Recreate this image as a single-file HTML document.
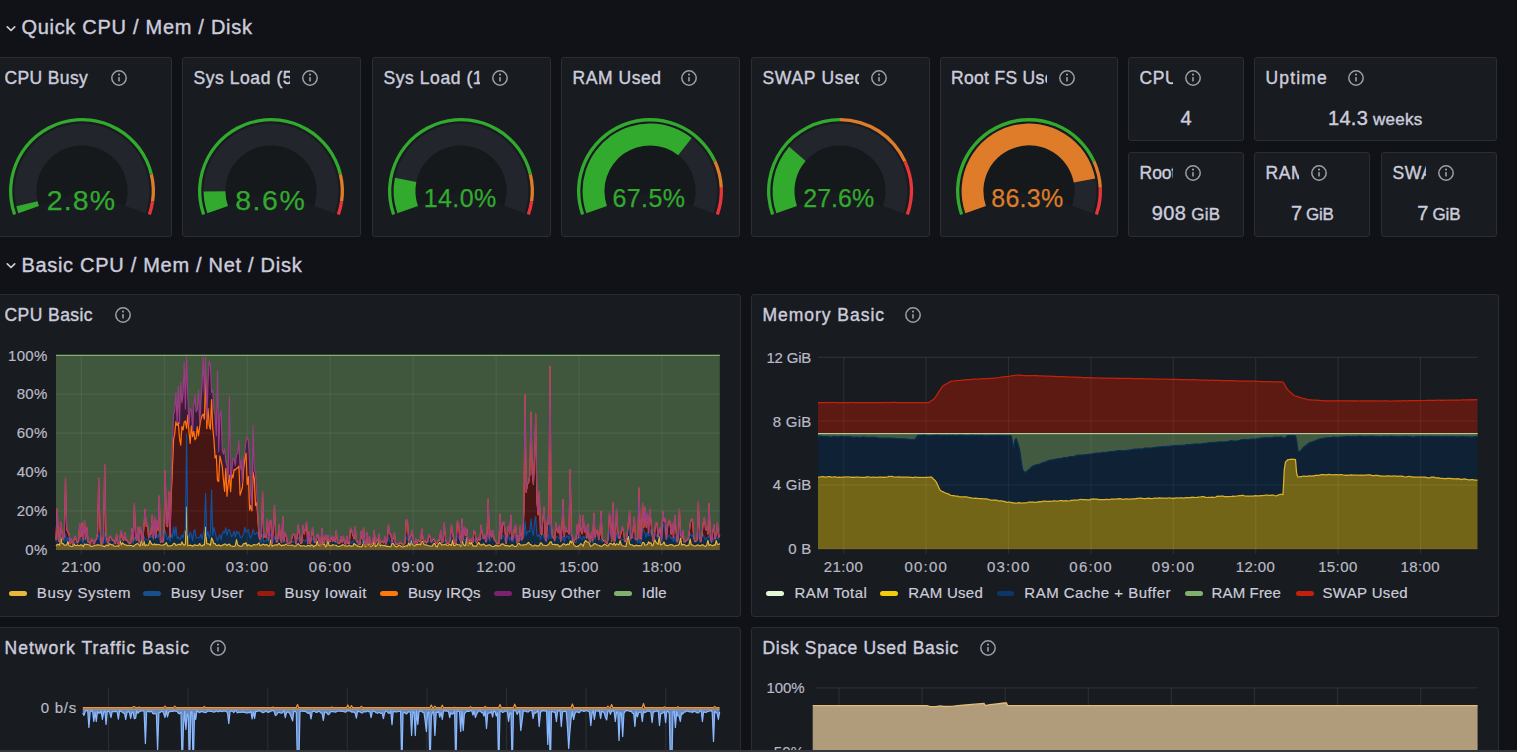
<!DOCTYPE html>
<html lang="en"><head><meta charset="utf-8"><title>Node Exporter Full - Grafana</title>
<style>
html,body{margin:0;padding:0;background:#111217;}
body{width:1517px;height:752px;overflow:hidden;position:relative;font-family:"Liberation Sans",sans-serif;}
.p{position:absolute;background:#181b1f;border:1px solid #2a2d33;border-radius:3px;}
.t{position:absolute;white-space:pre;font-family:"Liberation Sans",sans-serif;}
.a{position:absolute;overflow:visible;}
</style></head><body>
<svg class="a" style="left:5.3px;top:24.6px" width="12" height="8" viewBox="0 0 12 8"><path d="M2.3 1.8 L6 5.5 L9.7 1.8" fill="none" stroke="#ccccdc" stroke-width="1.7" stroke-linecap="round" stroke-linejoin="round"/></svg>
<div class="t" style="left:21.40px;top:16.77px;font-size:20px;line-height:20px;letter-spacing:0.713px;color:#ccccdc;font-weight:400;-webkit-text-stroke:0.4px currentColor;">Quick CPU / Mem / Disk</div>
<svg class="a" style="left:5.3px;top:262.4px" width="12" height="8" viewBox="0 0 12 8"><path d="M2.3 1.8 L6 5.5 L9.7 1.8" fill="none" stroke="#ccccdc" stroke-width="1.7" stroke-linecap="round" stroke-linejoin="round"/></svg>
<div class="t" style="left:21.40px;top:254.57px;font-size:20px;line-height:20px;letter-spacing:0.707px;color:#ccccdc;font-weight:400;-webkit-text-stroke:0.4px currentColor;">Basic CPU / Mem / Net / Disk</div>
<div class="p" style="left:-7px;top:57px;width:177px;height:178px"></div>
<div class="t" style="left:4.50px;top:69.89px;width:96.50px;overflow:hidden;font-size:17.5px;line-height:17.5px;height:22px;letter-spacing:0.373px;color:#ccccdc;-webkit-text-stroke:0.4px #ccccdc">CPU Busy</div>
<svg class="a" style="left:108.70px;top:68.00px" width="20" height="20" viewBox="0 0 20 20"><circle cx="10" cy="10" r="7.2" fill="none" stroke="#9d9ea9" stroke-width="1.5"/><rect x="9.2" y="9" width="1.6" height="4.6" rx="0.6" fill="#9d9ea9"/><circle cx="10" cy="6.6" r="1.05" fill="#9d9ea9"/></svg>
<svg class="a" style="left:2.40px;top:111.00px;overflow:hidden" width="160" height="110" viewBox="2.40 111.00 160 110"><path d="M38.96 206.13A46.0 46.0 0 1 1 125.84 206.13L82.49 191.03A0.1 0.1 0 1 0 82.31 191.03Z" fill="#14161a" fill-opacity="0.4"/><path d="M18.75 213.17A67.4 67.4 0 1 1 146.05 213.17L125.46 206.00A45.6 45.6 0 1 0 39.34 206.00Z" fill="#22252b"/><path d="M18.75 213.17A67.4 67.4 0 0 1 16.75 206.26L37.98 201.32A45.6 45.6 0 0 0 39.34 206.00Z" fill="rgb(50,170,46)"/><path d="M13.46 215.01A73.0 73.0 0 1 1 153.37 173.88L150.16 174.66A69.7 69.7 0 1 0 16.58 213.92Z" fill="rgb(50,170,46)"/><path d="M153.37 173.88A73.0 73.0 0 0 1 154.64 201.51L151.37 201.04A69.7 69.7 0 0 0 150.16 174.66Z" fill="rgb(222,124,42)"/><path d="M154.64 201.51A73.0 73.0 0 0 1 151.34 215.01L148.22 213.92A69.7 69.7 0 0 0 151.37 201.04Z" fill="rgb(232,54,56)"/></svg>
<div class="t" style="left:46.82px;top:186.07px;font-size:28.5px;line-height:28.5px;letter-spacing:1.135px;color:rgb(50,170,46);font-weight:400;-webkit-text-stroke:0.25px currentColor;">2.8%</div>
<div class="p" style="left:182px;top:57px;width:177px;height:178px"></div>
<div class="t" style="left:193.50px;top:69.89px;width:96.50px;overflow:hidden;font-size:17.5px;line-height:17.5px;height:22px;letter-spacing:0.562px;color:#ccccdc;-webkit-text-stroke:0.4px #ccccdc">Sys Load (5m avg)</div>
<svg class="a" style="left:300.00px;top:68.00px" width="20" height="20" viewBox="0 0 20 20"><circle cx="10" cy="10" r="7.2" fill="none" stroke="#9d9ea9" stroke-width="1.5"/><rect x="9.2" y="9" width="1.6" height="4.6" rx="0.6" fill="#9d9ea9"/><circle cx="10" cy="6.6" r="1.05" fill="#9d9ea9"/></svg>
<svg class="a" style="left:191.40px;top:111.00px;overflow:hidden" width="160" height="110" viewBox="191.40 111.00 160 110"><path d="M227.96 206.13A46.0 46.0 0 1 1 314.84 206.13L271.49 191.03A0.1 0.1 0 1 0 271.31 191.03Z" fill="#14161a" fill-opacity="0.4"/><path d="M207.75 213.17A67.4 67.4 0 1 1 335.05 213.17L314.46 206.00A45.6 45.6 0 1 0 228.34 206.00Z" fill="#22252b"/><path d="M207.75 213.17A67.4 67.4 0 0 1 204.00 191.49L225.80 191.33A45.6 45.6 0 0 0 228.34 206.00Z" fill="rgb(50,170,46)"/><path d="M202.46 215.01A73.0 73.0 0 1 1 342.37 173.88L339.16 174.66A69.7 69.7 0 1 0 205.58 213.92Z" fill="rgb(50,170,46)"/><path d="M342.37 173.88A73.0 73.0 0 0 1 343.64 201.51L340.37 201.04A69.7 69.7 0 0 0 339.16 174.66Z" fill="rgb(222,124,42)"/><path d="M343.64 201.51A73.0 73.0 0 0 1 340.34 215.01L337.22 213.92A69.7 69.7 0 0 0 340.37 201.04Z" fill="rgb(232,54,56)"/></svg>
<div class="t" style="left:235.25px;top:186.07px;font-size:28.5px;line-height:28.5px;letter-spacing:1.510px;color:rgb(50,170,46);font-weight:400;-webkit-text-stroke:0.25px currentColor;">8.6%</div>
<div class="p" style="left:372px;top:57px;width:177px;height:178px"></div>
<div class="t" style="left:383.50px;top:69.89px;width:96.50px;overflow:hidden;font-size:17.5px;line-height:17.5px;height:22px;letter-spacing:0.566px;color:#ccccdc;-webkit-text-stroke:0.4px #ccccdc">Sys Load (15m avg)</div>
<svg class="a" style="left:490.00px;top:68.00px" width="20" height="20" viewBox="0 0 20 20"><circle cx="10" cy="10" r="7.2" fill="none" stroke="#9d9ea9" stroke-width="1.5"/><rect x="9.2" y="9" width="1.6" height="4.6" rx="0.6" fill="#9d9ea9"/><circle cx="10" cy="6.6" r="1.05" fill="#9d9ea9"/></svg>
<svg class="a" style="left:381.40px;top:111.00px;overflow:hidden" width="160" height="110" viewBox="381.40 111.00 160 110"><path d="M417.96 206.13A46.0 46.0 0 1 1 504.84 206.13L461.49 191.03A0.1 0.1 0 1 0 461.31 191.03Z" fill="#14161a" fill-opacity="0.4"/><path d="M397.75 213.17A67.4 67.4 0 1 1 525.05 213.17L504.46 206.00A45.6 45.6 0 1 0 418.34 206.00Z" fill="#22252b"/><path d="M397.75 213.17A67.4 67.4 0 0 1 395.32 177.71L416.70 182.01A45.6 45.6 0 0 0 418.34 206.00Z" fill="rgb(50,170,46)"/><path d="M392.46 215.01A73.0 73.0 0 1 1 532.37 173.88L529.16 174.66A69.7 69.7 0 1 0 395.58 213.92Z" fill="rgb(50,170,46)"/><path d="M532.37 173.88A73.0 73.0 0 0 1 533.64 201.51L530.37 201.04A69.7 69.7 0 0 0 529.16 174.66Z" fill="rgb(222,124,42)"/><path d="M533.64 201.51A73.0 73.0 0 0 1 530.34 215.01L527.22 213.92A69.7 69.7 0 0 0 530.37 201.04Z" fill="rgb(232,54,56)"/></svg>
<div class="t" style="left:423.71px;top:186.04px;font-size:25px;line-height:25px;letter-spacing:0.423px;color:rgb(50,170,46);font-weight:400;-webkit-text-stroke:0.25px currentColor;">14.0%</div>
<div class="p" style="left:561px;top:57px;width:176.5px;height:178px"></div>
<div class="t" style="left:572.50px;top:69.89px;width:96.00px;overflow:hidden;font-size:17.5px;line-height:17.5px;height:22px;letter-spacing:0.549px;color:#ccccdc;-webkit-text-stroke:0.4px #ccccdc">RAM Used</div>
<svg class="a" style="left:678.50px;top:68.00px" width="20" height="20" viewBox="0 0 20 20"><circle cx="10" cy="10" r="7.2" fill="none" stroke="#9d9ea9" stroke-width="1.5"/><rect x="9.2" y="9" width="1.6" height="4.6" rx="0.6" fill="#9d9ea9"/><circle cx="10" cy="6.6" r="1.05" fill="#9d9ea9"/></svg>
<svg class="a" style="left:570.15px;top:111.00px;overflow:hidden" width="160" height="110" viewBox="570.15 111.00 160 110"><path d="M606.71 206.13A46.0 46.0 0 1 1 693.59 206.13L650.24 191.03A0.1 0.1 0 1 0 650.06 191.03Z" fill="#14161a" fill-opacity="0.4"/><path d="M586.50 213.17A67.4 67.4 0 1 1 713.80 213.17L693.21 206.00A45.6 45.6 0 1 0 607.09 206.00Z" fill="#22252b"/><path d="M586.50 213.17A67.4 67.4 0 0 1 691.85 138.05L678.36 155.17A45.6 45.6 0 0 0 607.09 206.00Z" fill="rgb(50,170,46)"/><path d="M581.21 215.01A73.0 73.0 0 0 1 716.59 160.75L713.58 162.12A69.7 69.7 0 0 0 584.33 213.92Z" fill="rgb(50,170,46)"/><path d="M716.59 160.75A73.0 73.0 0 0 1 723.07 187.64L719.78 187.79A69.7 69.7 0 0 0 713.58 162.12Z" fill="rgb(222,124,42)"/><path d="M723.07 187.64A73.0 73.0 0 0 1 719.09 215.01L715.97 213.92A69.7 69.7 0 0 0 719.78 187.79Z" fill="rgb(232,54,56)"/></svg>
<div class="t" style="left:612.46px;top:186.04px;font-size:25px;line-height:25px;letter-spacing:0.423px;color:rgb(50,170,46);font-weight:400;-webkit-text-stroke:0.25px currentColor;">67.5%</div>
<div class="p" style="left:751px;top:57px;width:176.5px;height:178px"></div>
<div class="t" style="left:762.50px;top:69.89px;width:96.00px;overflow:hidden;font-size:17.5px;line-height:17.5px;height:22px;letter-spacing:0.695px;color:#ccccdc;-webkit-text-stroke:0.4px #ccccdc">SWAP Used</div>
<svg class="a" style="left:868.50px;top:68.00px" width="20" height="20" viewBox="0 0 20 20"><circle cx="10" cy="10" r="7.2" fill="none" stroke="#9d9ea9" stroke-width="1.5"/><rect x="9.2" y="9" width="1.6" height="4.6" rx="0.6" fill="#9d9ea9"/><circle cx="10" cy="6.6" r="1.05" fill="#9d9ea9"/></svg>
<svg class="a" style="left:760.15px;top:111.00px;overflow:hidden" width="160" height="110" viewBox="760.15 111.00 160 110"><path d="M796.71 206.13A46.0 46.0 0 1 1 883.59 206.13L840.24 191.03A0.1 0.1 0 1 0 840.06 191.03Z" fill="#14161a" fill-opacity="0.4"/><path d="M776.50 213.17A67.4 67.4 0 1 1 903.80 213.17L883.21 206.00A45.6 45.6 0 1 0 797.09 206.00Z" fill="#22252b"/><path d="M776.50 213.17A67.4 67.4 0 0 1 789.34 146.71L805.78 161.04A45.6 45.6 0 0 0 797.09 206.00Z" fill="rgb(50,170,46)"/><path d="M771.21 215.01A73.0 73.0 0 0 1 840.15 118.00L840.15 121.30A69.7 69.7 0 0 0 774.33 213.92Z" fill="rgb(50,170,46)"/><path d="M840.15 118.00A73.0 73.0 0 0 1 906.59 160.75L903.58 162.12A69.7 69.7 0 0 0 840.15 121.30Z" fill="rgb(222,124,42)"/><path d="M906.59 160.75A73.0 73.0 0 0 1 909.09 215.01L905.97 213.92A69.7 69.7 0 0 0 903.58 162.12Z" fill="rgb(232,54,56)"/></svg>
<div class="t" style="left:803.18px;top:186.04px;font-size:25px;line-height:25px;letter-spacing:0.063px;color:rgb(50,170,46);font-weight:400;-webkit-text-stroke:0.25px currentColor;">27.6%</div>
<div class="p" style="left:939.5px;top:57px;width:176.5px;height:178px"></div>
<div class="t" style="left:951.00px;top:69.89px;width:96.00px;overflow:hidden;font-size:17.5px;line-height:17.5px;height:22px;letter-spacing:0.321px;color:#ccccdc;-webkit-text-stroke:0.4px #ccccdc">Root FS Used</div>
<svg class="a" style="left:1057.00px;top:68.00px" width="20" height="20" viewBox="0 0 20 20"><circle cx="10" cy="10" r="7.2" fill="none" stroke="#9d9ea9" stroke-width="1.5"/><rect x="9.2" y="9" width="1.6" height="4.6" rx="0.6" fill="#9d9ea9"/><circle cx="10" cy="6.6" r="1.05" fill="#9d9ea9"/></svg>
<svg class="a" style="left:948.65px;top:111.00px;overflow:hidden" width="160" height="110" viewBox="948.65 111.00 160 110"><path d="M985.21 206.13A46.0 46.0 0 1 1 1072.09 206.13L1028.74 191.03A0.1 0.1 0 1 0 1028.56 191.03Z" fill="#14161a" fill-opacity="0.4"/><path d="M965.00 213.17A67.4 67.4 0 1 1 1092.30 213.17L1071.71 206.00A45.6 45.6 0 1 0 985.59 206.00Z" fill="#22252b"/><path d="M965.00 213.17A67.4 67.4 0 1 1 1094.87 178.46L1073.45 182.52A45.6 45.6 0 1 0 985.59 206.00Z" fill="rgb(222,124,42)"/><path d="M959.71 215.01A73.0 73.0 0 0 1 1095.09 160.75L1092.08 162.12A69.7 69.7 0 0 0 962.83 213.92Z" fill="rgb(50,170,46)"/><path d="M1095.09 160.75A73.0 73.0 0 0 1 1101.57 187.64L1098.28 187.79A69.7 69.7 0 0 0 1092.08 162.12Z" fill="rgb(222,124,42)"/><path d="M1101.57 187.64A73.0 73.0 0 0 1 1097.59 215.01L1094.47 213.92A69.7 69.7 0 0 0 1098.28 187.79Z" fill="rgb(232,54,56)"/></svg>
<div class="t" style="left:991.24px;top:186.04px;font-size:25px;line-height:25px;letter-spacing:0.283px;color:rgb(222,124,42);font-weight:400;-webkit-text-stroke:0.25px currentColor;">86.3%</div>
<div class="p" style="left:1128px;top:57px;width:114px;height:82px"></div>
<div class="t" style="left:1139.50px;top:69.89px;width:33.50px;overflow:hidden;font-size:17.5px;line-height:17.5px;height:22px;letter-spacing:0.639px;color:#ccccdc;-webkit-text-stroke:0.4px #ccccdc">CPU Cores</div>
<svg class="a" style="left:1183.00px;top:68.00px" width="20" height="20" viewBox="0 0 20 20"><circle cx="10" cy="10" r="7.2" fill="none" stroke="#9d9ea9" stroke-width="1.5"/><rect x="9.2" y="9" width="1.6" height="4.6" rx="0.6" fill="#9d9ea9"/><circle cx="10" cy="6.6" r="1.05" fill="#9d9ea9"/></svg>
<div class="p" style="left:1254px;top:57px;width:241px;height:82px"></div>
<div class="t" style="left:1265.50px;top:69.89px;width:160.50px;overflow:hidden;font-size:17.5px;line-height:17.5px;height:22px;letter-spacing:1.178px;color:#ccccdc;-webkit-text-stroke:0.4px #ccccdc">Uptime</div>
<svg class="a" style="left:1346.20px;top:68.00px" width="20" height="20" viewBox="0 0 20 20"><circle cx="10" cy="10" r="7.2" fill="none" stroke="#9d9ea9" stroke-width="1.5"/><rect x="9.2" y="9" width="1.6" height="4.6" rx="0.6" fill="#9d9ea9"/><circle cx="10" cy="6.6" r="1.05" fill="#9d9ea9"/></svg>
<div class="p" style="left:1128px;top:152px;width:114px;height:83px"></div>
<div class="t" style="left:1139.50px;top:164.89px;width:33.50px;overflow:hidden;font-size:17.5px;line-height:17.5px;height:22px;letter-spacing:0.000px;color:#ccccdc;-webkit-text-stroke:0.4px #ccccdc">RootFS Total</div>
<svg class="a" style="left:1183.00px;top:163.00px" width="20" height="20" viewBox="0 0 20 20"><circle cx="10" cy="10" r="7.2" fill="none" stroke="#9d9ea9" stroke-width="1.5"/><rect x="9.2" y="9" width="1.6" height="4.6" rx="0.6" fill="#9d9ea9"/><circle cx="10" cy="6.6" r="1.05" fill="#9d9ea9"/></svg>
<div class="p" style="left:1254px;top:152px;width:114px;height:83px"></div>
<div class="t" style="left:1265.50px;top:164.89px;width:33.50px;overflow:hidden;font-size:17.5px;line-height:17.5px;height:22px;letter-spacing:0.581px;color:#ccccdc;-webkit-text-stroke:0.4px #ccccdc">RAM Total</div>
<svg class="a" style="left:1309.00px;top:163.00px" width="20" height="20" viewBox="0 0 20 20"><circle cx="10" cy="10" r="7.2" fill="none" stroke="#9d9ea9" stroke-width="1.5"/><rect x="9.2" y="9" width="1.6" height="4.6" rx="0.6" fill="#9d9ea9"/><circle cx="10" cy="6.6" r="1.05" fill="#9d9ea9"/></svg>
<div class="p" style="left:1381px;top:152px;width:114px;height:83px"></div>
<div class="t" style="left:1392.50px;top:164.89px;width:33.50px;overflow:hidden;font-size:17.5px;line-height:17.5px;height:22px;letter-spacing:0.599px;color:#ccccdc;-webkit-text-stroke:0.4px #ccccdc">SWAP Total</div>
<svg class="a" style="left:1436.00px;top:163.00px" width="20" height="20" viewBox="0 0 20 20"><circle cx="10" cy="10" r="7.2" fill="none" stroke="#9d9ea9" stroke-width="1.5"/><rect x="9.2" y="9" width="1.6" height="4.6" rx="0.6" fill="#9d9ea9"/><circle cx="10" cy="6.6" r="1.05" fill="#9d9ea9"/></svg>
<div class="t" style="left:1180.44px;top:108.17px;font-size:20px;line-height:20px;letter-spacing:0.000px;color:#ccccdc;font-weight:400;-webkit-text-stroke:0.4px currentColor;">4</div>
<div class="t" style="left:1328.05px;top:108.17px;font-size:20px;line-height:20px;letter-spacing:0.282px;color:#ccccdc;font-weight:400;-webkit-text-stroke:0.4px currentColor;">14.3</div>
<div class="t" style="left:1368.11px;top:110.71px;font-size:17px;line-height:17px;letter-spacing:0.255px;color:#ccccdc;font-weight:400;-webkit-text-stroke:0.4px currentColor;"> weeks</div>
<div class="t" style="left:1151.80px;top:202.97px;font-size:20px;line-height:20px;letter-spacing:0.362px;color:#ccccdc;font-weight:400;-webkit-text-stroke:0.4px currentColor;">908</div>
<div class="t" style="left:1186.26px;top:205.51px;font-size:17px;line-height:17px;letter-spacing:0.269px;color:#ccccdc;font-weight:400;-webkit-text-stroke:0.4px currentColor;"> GiB</div>
<div class="t" style="left:1290.95px;top:202.97px;font-size:20px;line-height:20px;letter-spacing:0.000px;color:#ccccdc;font-weight:400;-webkit-text-stroke:0.4px currentColor;">7</div>
<div class="t" style="left:1301.65px;top:205.51px;font-size:17px;line-height:17px;letter-spacing:-0.316px;color:#ccccdc;font-weight:400;-webkit-text-stroke:0.4px currentColor;"> GiB</div>
<div class="t" style="left:1417.35px;top:202.97px;font-size:20px;line-height:20px;letter-spacing:0.000px;color:#ccccdc;font-weight:400;-webkit-text-stroke:0.4px currentColor;">7</div>
<div class="t" style="left:1428.15px;top:205.51px;font-size:17px;line-height:17px;letter-spacing:-0.241px;color:#ccccdc;font-weight:400;-webkit-text-stroke:0.4px currentColor;"> GiB</div>
<div class="p" style="left:-7px;top:294.2px;width:745.5px;height:320.59999999999997px"></div>
<div class="t" style="left:4.50px;top:307.09px;width:665.00px;overflow:hidden;font-size:17.5px;line-height:17.5px;height:22px;letter-spacing:0.433px;color:#ccccdc;-webkit-text-stroke:0.4px #ccccdc">CPU Basic</div>
<svg class="a" style="left:112.90px;top:305.20px" width="20" height="20" viewBox="0 0 20 20"><circle cx="10" cy="10" r="7.2" fill="none" stroke="#9d9ea9" stroke-width="1.5"/><rect x="9.2" y="9" width="1.6" height="4.6" rx="0.6" fill="#9d9ea9"/><circle cx="10" cy="6.6" r="1.05" fill="#9d9ea9"/></svg>
<div class="p" style="left:751px;top:294.2px;width:745.7px;height:320.59999999999997px"></div>
<div class="t" style="left:762.50px;top:307.09px;width:665.20px;overflow:hidden;font-size:17.5px;line-height:17.5px;height:22px;letter-spacing:0.970px;color:#ccccdc;-webkit-text-stroke:0.4px #ccccdc">Memory Basic</div>
<svg class="a" style="left:903.20px;top:305.20px" width="20" height="20" viewBox="0 0 20 20"><circle cx="10" cy="10" r="7.2" fill="none" stroke="#9d9ea9" stroke-width="1.5"/><rect x="9.2" y="9" width="1.6" height="4.6" rx="0.6" fill="#9d9ea9"/><circle cx="10" cy="6.6" r="1.05" fill="#9d9ea9"/></svg>
<div class="p" style="left:-7px;top:627px;width:745.5px;height:331px"></div>
<div class="t" style="left:4.50px;top:639.89px;width:665.00px;overflow:hidden;font-size:17.5px;line-height:17.5px;height:22px;letter-spacing:1.022px;color:#ccccdc;-webkit-text-stroke:0.4px #ccccdc">Network Traffic Basic</div>
<svg class="a" style="left:207.90px;top:638.00px" width="20" height="20" viewBox="0 0 20 20"><circle cx="10" cy="10" r="7.2" fill="none" stroke="#9d9ea9" stroke-width="1.5"/><rect x="9.2" y="9" width="1.6" height="4.6" rx="0.6" fill="#9d9ea9"/><circle cx="10" cy="6.6" r="1.05" fill="#9d9ea9"/></svg>
<div class="p" style="left:751px;top:627px;width:745.7px;height:331px"></div>
<div class="t" style="left:762.50px;top:639.89px;width:665.20px;overflow:hidden;font-size:17.5px;line-height:17.5px;height:22px;letter-spacing:0.696px;color:#ccccdc;-webkit-text-stroke:0.4px #ccccdc">Disk Space Used Basic</div>
<svg class="a" style="left:977.50px;top:638.00px" width="20" height="20" viewBox="0 0 20 20"><circle cx="10" cy="10" r="7.2" fill="none" stroke="#9d9ea9" stroke-width="1.5"/><rect x="9.2" y="9" width="1.6" height="4.6" rx="0.6" fill="#9d9ea9"/><circle cx="10" cy="6.6" r="1.05" fill="#9d9ea9"/></svg>
<svg class="a" style="left:0;top:340px" width="760" height="230" viewBox="0 340 760 230"><line x1="56.0" x2="719.8" y1="355.3" y2="355.3" stroke="rgba(204,204,220,0.10)" stroke-width="1.2"/><line x1="56.0" x2="719.8" y1="394.2" y2="394.2" stroke="rgba(204,204,220,0.10)" stroke-width="1.2"/><line x1="56.0" x2="719.8" y1="433.1" y2="433.1" stroke="rgba(204,204,220,0.10)" stroke-width="1.2"/><line x1="56.0" x2="719.8" y1="471.9" y2="471.9" stroke="rgba(204,204,220,0.10)" stroke-width="1.2"/><line x1="56.0" x2="719.8" y1="510.8" y2="510.8" stroke="rgba(204,204,220,0.10)" stroke-width="1.2"/><line x1="56.0" x2="719.8" y1="549.7" y2="549.7" stroke="rgba(204,204,220,0.10)" stroke-width="1.2"/><line x1="81.4" x2="81.4" y1="355.3" y2="554.7" stroke="rgba(204,204,220,0.10)" stroke-width="1.2"/><line x1="164.4" x2="164.4" y1="355.3" y2="554.7" stroke="rgba(204,204,220,0.10)" stroke-width="1.2"/><line x1="247.3" x2="247.3" y1="355.3" y2="554.7" stroke="rgba(204,204,220,0.10)" stroke-width="1.2"/><line x1="330.2" x2="330.2" y1="355.3" y2="554.7" stroke="rgba(204,204,220,0.10)" stroke-width="1.2"/><line x1="413.2" x2="413.2" y1="355.3" y2="554.7" stroke="rgba(204,204,220,0.10)" stroke-width="1.2"/><line x1="496.1" x2="496.1" y1="355.3" y2="554.7" stroke="rgba(204,204,220,0.10)" stroke-width="1.2"/><line x1="579.1" x2="579.1" y1="355.3" y2="554.7" stroke="rgba(204,204,220,0.10)" stroke-width="1.2"/><line x1="662.0" x2="662.0" y1="355.3" y2="554.7" stroke="rgba(204,204,220,0.10)" stroke-width="1.2"/><polygon points="56.0,546.1 57.2,544.3 58.4,544.5 59.6,545.2 60.7,534.4 61.9,543.5 63.1,543.6 64.3,545.2 65.5,545.1 66.7,545.0 67.9,541.4 69.1,545.7 70.2,546.0 71.4,546.5 72.6,546.5 73.8,543.5 75.0,545.4 76.2,545.6 77.4,544.9 78.6,545.5 79.7,545.6 80.9,544.7 82.1,545.2 83.3,546.7 84.5,544.1 85.7,544.3 86.9,544.3 88.1,544.7 89.2,544.7 90.4,546.0 91.6,546.5 92.8,546.1 94.0,545.8 95.2,545.2 96.4,545.1 97.6,544.7 98.7,545.1 99.9,545.0 101.1,545.4 102.3,546.1 103.5,546.0 104.7,546.7 105.9,545.3 107.1,545.0 108.2,545.8 109.4,543.9 110.6,544.3 111.8,544.9 113.0,544.9 114.2,546.2 115.4,546.2 116.6,546.0 117.7,545.8 118.9,546.2 120.1,540.4 121.3,544.9 122.5,542.8 123.7,544.0 124.9,544.9 126.1,545.0 127.2,545.6 128.4,545.3 129.6,545.5 130.8,545.3 132.0,545.7 133.2,546.4 134.4,545.6 135.6,544.4 136.7,543.9 137.9,543.5 139.1,545.0 140.3,546.0 141.5,537.6 142.7,545.5 143.9,540.8 145.1,545.9 146.2,544.8 147.4,545.3 148.6,545.2 149.8,540.6 151.0,542.9 152.2,544.7 153.4,544.8 154.6,543.8 155.7,545.0 156.9,544.3 158.1,544.7 159.3,544.6 160.5,545.0 161.7,545.3 162.9,545.1 164.1,544.5 165.2,544.1 166.4,542.7 167.6,545.9 168.8,545.9 170.0,546.0 171.2,545.6 172.4,545.2 173.6,543.5 174.7,543.2 175.9,545.5 177.1,545.1 178.3,544.3 179.5,544.3 180.7,545.0 181.9,541.9 183.1,544.2 184.2,545.2 185.4,544.2 186.6,507.0 187.8,545.8 189.0,545.5 190.2,545.1 191.4,545.5 192.6,546.3 193.7,545.3 194.9,544.7 196.1,545.5 197.3,545.3 198.5,545.4 199.7,543.6 200.9,545.5 202.1,546.0 203.2,544.8 204.4,544.8 205.6,527.2 206.8,543.7 208.0,543.9 209.2,544.1 210.4,545.4 211.6,537.8 212.7,540.1 213.9,543.7 215.1,543.6 216.3,545.5 217.5,545.6 218.7,544.7 219.9,545.6 221.1,545.9 222.2,545.1 223.4,544.9 224.6,544.0 225.8,544.2 227.0,545.6 228.2,544.5 229.4,544.1 230.6,545.8 231.7,546.0 232.9,546.3 234.1,546.3 235.3,545.8 236.5,539.5 237.7,545.0 238.9,545.6 240.1,546.1 241.2,546.2 242.4,545.7 243.6,543.6 244.8,543.8 246.0,542.8 247.2,545.8 248.4,544.8 249.6,545.1 250.7,546.2 251.9,545.9 253.1,544.8 254.3,544.5 255.5,545.0 256.7,544.8 257.9,544.0 259.1,543.0 260.2,545.7 261.4,545.3 262.6,544.2 263.8,544.4 265.0,545.3 266.2,544.4 267.4,545.0 268.6,546.2 269.7,545.5 270.9,539.9 272.1,546.3 273.3,545.5 274.5,545.0 275.7,544.8 276.9,545.3 278.1,544.3 279.2,543.3 280.4,545.1 281.6,545.8 282.8,545.1 284.0,545.5 285.2,544.6 286.4,544.0 287.6,545.1 288.7,545.2 289.9,545.2 291.1,545.3 292.3,545.1 293.5,545.7 294.7,546.2 295.9,545.9 297.1,544.6 298.2,543.7 299.4,544.9 300.6,546.0 301.8,545.9 303.0,545.8 304.2,545.7 305.4,546.2 306.6,546.3 307.7,545.3 308.9,545.6 310.1,546.2 311.3,544.9 312.5,545.2 313.7,546.7 314.9,545.7 316.1,545.4 317.2,541.1 318.4,545.3 319.6,545.8 320.8,545.7 322.0,538.7 323.2,544.5 324.4,543.9 325.6,546.9 326.7,545.8 327.9,539.2 329.1,545.5 330.3,545.7 331.5,545.7 332.7,544.7 333.9,545.0 335.1,545.2 336.2,545.3 337.4,546.3 338.6,546.5 339.8,546.1 341.0,545.7 342.2,544.9 343.4,544.9 344.6,545.8 345.7,545.9 346.9,546.2 348.1,545.8 349.3,545.2 350.5,546.1 351.7,546.1 352.9,546.0 354.1,543.3 355.2,544.6 356.4,545.2 357.6,545.9 358.8,546.4 360.0,546.7 361.2,546.8 362.4,546.1 363.6,536.1 364.7,545.7 365.9,546.6 367.1,540.0 368.3,545.1 369.5,542.4 370.7,546.6 371.9,546.0 373.1,544.9 374.2,538.6 375.4,546.6 376.6,545.7 377.8,544.4 379.0,538.0 380.2,546.2 381.4,545.1 382.6,545.2 383.7,545.8 384.9,545.4 386.1,546.3 387.3,546.3 388.5,546.3 389.7,546.8 390.9,546.7 392.1,543.1 393.2,543.5 394.4,545.4 395.6,546.7 396.8,546.7 398.0,545.9 399.2,545.0 400.4,545.7 401.6,546.8 402.7,547.0 403.9,546.4 405.1,546.2 406.3,545.9 407.5,546.0 408.7,542.9 409.9,545.9 411.1,537.7 412.2,544.3 413.4,544.9 414.6,546.2 415.8,544.6 417.0,544.4 418.2,544.6 419.4,544.0 420.6,544.9 421.7,541.3 422.9,541.6 424.1,544.5 425.3,545.0 426.5,544.9 427.7,545.5 428.9,545.7 430.1,546.2 431.2,546.0 432.4,545.9 433.6,543.7 434.8,543.4 436.0,546.2 437.2,546.9 438.4,543.8 439.6,542.4 440.7,543.5 441.9,545.1 443.1,544.7 444.3,544.8 445.5,544.1 446.7,545.2 447.9,545.5 449.1,544.5 450.2,544.6 451.4,545.4 452.6,540.2 453.8,545.7 455.0,545.4 456.2,543.8 457.4,544.7 458.6,544.7 459.7,544.7 460.9,546.4 462.1,540.5 463.3,544.3 464.5,545.6 465.7,545.1 466.9,533.4 468.1,545.3 469.2,541.6 470.4,544.2 471.6,542.4 472.8,545.8 474.0,545.8 475.2,546.3 476.4,546.2 477.6,544.0 478.7,542.4 479.9,544.4 481.1,545.4 482.3,544.6 483.5,543.9 484.7,545.1 485.9,545.9 487.1,545.6 488.2,545.0 489.4,544.8 490.6,545.6 491.8,546.2 493.0,546.5 494.2,546.3 495.4,545.3 496.6,545.3 497.7,546.1 498.9,545.7 500.1,545.6 501.3,544.2 502.5,543.9 503.7,544.3 504.9,545.6 506.1,545.6 507.2,545.6 508.4,545.8 509.6,546.4 510.8,545.6 512.0,544.6 513.2,545.4 514.4,546.4 515.6,546.5 516.7,546.3 517.9,543.1 519.1,543.3 520.3,545.0 521.5,545.0 522.7,545.1 523.9,544.9 525.1,544.8 526.2,544.6 527.4,543.4 528.6,542.4 529.8,544.2 531.0,544.7 532.2,545.8 533.4,546.1 534.6,545.1 535.7,545.3 536.9,545.9 538.1,545.9 539.3,545.5 540.5,542.8 541.7,543.3 542.9,545.1 544.1,545.3 545.2,545.5 546.4,545.7 547.6,545.1 548.8,544.3 550.0,542.1 551.2,541.7 552.4,544.5 553.6,544.5 554.7,544.3 555.9,545.1 557.1,544.4 558.3,545.1 559.5,546.7 560.7,546.0 561.9,545.2 563.1,543.9 564.2,543.9 565.4,545.2 566.6,544.6 567.8,544.1 569.0,544.8 570.2,540.9 571.4,543.0 572.6,539.8 573.7,544.6 574.9,545.7 576.1,546.5 577.3,546.4 578.5,545.9 579.7,544.9 580.9,543.7 582.1,544.8 583.2,546.2 584.4,542.3 585.6,540.4 586.8,541.9 588.0,542.0 589.2,542.9 590.4,546.2 591.6,546.0 592.7,545.1 593.9,543.9 595.1,543.5 596.3,544.4 597.5,545.0 598.7,545.2 599.9,545.9 601.1,546.3 602.2,546.1 603.4,545.0 604.6,544.1 605.8,544.7 607.0,545.8 608.2,545.8 609.4,543.9 610.6,543.3 611.7,544.0 612.9,544.9 614.1,542.8 615.3,545.4 616.5,543.8 617.7,544.2 618.9,545.0 620.1,540.6 621.2,544.4 622.4,545.8 623.6,546.0 624.8,546.3 626.0,546.4 627.2,539.6 628.4,536.5 629.6,543.9 630.7,544.7 631.9,544.7 633.1,545.4 634.3,546.3 635.5,545.4 636.7,545.2 637.9,545.8 639.1,545.6 640.2,545.7 641.4,545.6 642.6,542.6 643.8,542.6 645.0,545.3 646.2,545.0 647.4,544.5 648.6,541.8 649.7,543.3 650.9,542.7 652.1,545.8 653.3,545.1 654.5,539.1 655.7,541.9 656.9,543.1 658.1,544.5 659.2,536.7 660.4,544.9 661.6,544.3 662.8,544.0 664.0,541.9 665.2,545.3 666.4,545.4 667.6,545.8 668.7,545.2 669.9,544.8 671.1,544.6 672.3,544.8 673.5,545.7 674.7,546.1 675.9,545.5 677.1,545.2 678.2,545.3 679.4,543.7 680.6,538.2 681.8,545.2 683.0,544.4 684.2,544.5 685.4,545.5 686.6,545.9 687.7,545.3 688.9,545.4 690.1,538.8 691.3,544.6 692.5,545.0 693.7,545.7 694.9,546.0 696.1,545.6 697.2,545.0 698.4,545.1 699.6,545.8 700.8,545.6 702.0,544.7 703.2,545.0 704.4,546.1 705.6,546.2 706.7,545.3 707.9,540.4 709.1,545.7 710.3,544.6 711.5,545.2 712.7,545.7 713.9,544.9 715.1,545.3 716.2,540.5 717.4,544.2 718.6,544.5 719.8,543.5 719.8,549.7 718.6,549.7 717.4,549.7 716.2,549.7 715.1,549.7 713.9,549.7 712.7,549.7 711.5,549.7 710.3,549.7 709.1,549.7 707.9,549.7 706.7,549.7 705.6,549.7 704.4,549.7 703.2,549.7 702.0,549.7 700.8,549.7 699.6,549.7 698.4,549.7 697.2,549.7 696.1,549.7 694.9,549.7 693.7,549.7 692.5,549.7 691.3,549.7 690.1,549.7 688.9,549.7 687.7,549.7 686.6,549.7 685.4,549.7 684.2,549.7 683.0,549.7 681.8,549.7 680.6,549.7 679.4,549.7 678.2,549.7 677.1,549.7 675.9,549.7 674.7,549.7 673.5,549.7 672.3,549.7 671.1,549.7 669.9,549.7 668.7,549.7 667.6,549.7 666.4,549.7 665.2,549.7 664.0,549.7 662.8,549.7 661.6,549.7 660.4,549.7 659.2,549.7 658.1,549.7 656.9,549.7 655.7,549.7 654.5,549.7 653.3,549.7 652.1,549.7 650.9,549.7 649.7,549.7 648.6,549.7 647.4,549.7 646.2,549.7 645.0,549.7 643.8,549.7 642.6,549.7 641.4,549.7 640.2,549.7 639.1,549.7 637.9,549.7 636.7,549.7 635.5,549.7 634.3,549.7 633.1,549.7 631.9,549.7 630.7,549.7 629.6,549.7 628.4,549.7 627.2,549.7 626.0,549.7 624.8,549.7 623.6,549.7 622.4,549.7 621.2,549.7 620.1,549.7 618.9,549.7 617.7,549.7 616.5,549.7 615.3,549.7 614.1,549.7 612.9,549.7 611.7,549.7 610.6,549.7 609.4,549.7 608.2,549.7 607.0,549.7 605.8,549.7 604.6,549.7 603.4,549.7 602.2,549.7 601.1,549.7 599.9,549.7 598.7,549.7 597.5,549.7 596.3,549.7 595.1,549.7 593.9,549.7 592.7,549.7 591.6,549.7 590.4,549.7 589.2,549.7 588.0,549.7 586.8,549.7 585.6,549.7 584.4,549.7 583.2,549.7 582.1,549.7 580.9,549.7 579.7,549.7 578.5,549.7 577.3,549.7 576.1,549.7 574.9,549.7 573.7,549.7 572.6,549.7 571.4,549.7 570.2,549.7 569.0,549.7 567.8,549.7 566.6,549.7 565.4,549.7 564.2,549.7 563.1,549.7 561.9,549.7 560.7,549.7 559.5,549.7 558.3,549.7 557.1,549.7 555.9,549.7 554.7,549.7 553.6,549.7 552.4,549.7 551.2,549.7 550.0,549.7 548.8,549.7 547.6,549.7 546.4,549.7 545.2,549.7 544.1,549.7 542.9,549.7 541.7,549.7 540.5,549.7 539.3,549.7 538.1,549.7 536.9,549.7 535.7,549.7 534.6,549.7 533.4,549.7 532.2,549.7 531.0,549.7 529.8,549.7 528.6,549.7 527.4,549.7 526.2,549.7 525.1,549.7 523.9,549.7 522.7,549.7 521.5,549.7 520.3,549.7 519.1,549.7 517.9,549.7 516.7,549.7 515.6,549.7 514.4,549.7 513.2,549.7 512.0,549.7 510.8,549.7 509.6,549.7 508.4,549.7 507.2,549.7 506.1,549.7 504.9,549.7 503.7,549.7 502.5,549.7 501.3,549.7 500.1,549.7 498.9,549.7 497.7,549.7 496.6,549.7 495.4,549.7 494.2,549.7 493.0,549.7 491.8,549.7 490.6,549.7 489.4,549.7 488.2,549.7 487.1,549.7 485.9,549.7 484.7,549.7 483.5,549.7 482.3,549.7 481.1,549.7 479.9,549.7 478.7,549.7 477.6,549.7 476.4,549.7 475.2,549.7 474.0,549.7 472.8,549.7 471.6,549.7 470.4,549.7 469.2,549.7 468.1,549.7 466.9,549.7 465.7,549.7 464.5,549.7 463.3,549.7 462.1,549.7 460.9,549.7 459.7,549.7 458.6,549.7 457.4,549.7 456.2,549.7 455.0,549.7 453.8,549.7 452.6,549.7 451.4,549.7 450.2,549.7 449.1,549.7 447.9,549.7 446.7,549.7 445.5,549.7 444.3,549.7 443.1,549.7 441.9,549.7 440.7,549.7 439.6,549.7 438.4,549.7 437.2,549.7 436.0,549.7 434.8,549.7 433.6,549.7 432.4,549.7 431.2,549.7 430.1,549.7 428.9,549.7 427.7,549.7 426.5,549.7 425.3,549.7 424.1,549.7 422.9,549.7 421.7,549.7 420.6,549.7 419.4,549.7 418.2,549.7 417.0,549.7 415.8,549.7 414.6,549.7 413.4,549.7 412.2,549.7 411.1,549.7 409.9,549.7 408.7,549.7 407.5,549.7 406.3,549.7 405.1,549.7 403.9,549.7 402.7,549.7 401.6,549.7 400.4,549.7 399.2,549.7 398.0,549.7 396.8,549.7 395.6,549.7 394.4,549.7 393.2,549.7 392.1,549.7 390.9,549.7 389.7,549.7 388.5,549.7 387.3,549.7 386.1,549.7 384.9,549.7 383.7,549.7 382.6,549.7 381.4,549.7 380.2,549.7 379.0,549.7 377.8,549.7 376.6,549.7 375.4,549.7 374.2,549.7 373.1,549.7 371.9,549.7 370.7,549.7 369.5,549.7 368.3,549.7 367.1,549.7 365.9,549.7 364.7,549.7 363.6,549.7 362.4,549.7 361.2,549.7 360.0,549.7 358.8,549.7 357.6,549.7 356.4,549.7 355.2,549.7 354.1,549.7 352.9,549.7 351.7,549.7 350.5,549.7 349.3,549.7 348.1,549.7 346.9,549.7 345.7,549.7 344.6,549.7 343.4,549.7 342.2,549.7 341.0,549.7 339.8,549.7 338.6,549.7 337.4,549.7 336.2,549.7 335.1,549.7 333.9,549.7 332.7,549.7 331.5,549.7 330.3,549.7 329.1,549.7 327.9,549.7 326.7,549.7 325.6,549.7 324.4,549.7 323.2,549.7 322.0,549.7 320.8,549.7 319.6,549.7 318.4,549.7 317.2,549.7 316.1,549.7 314.9,549.7 313.7,549.7 312.5,549.7 311.3,549.7 310.1,549.7 308.9,549.7 307.7,549.7 306.6,549.7 305.4,549.7 304.2,549.7 303.0,549.7 301.8,549.7 300.6,549.7 299.4,549.7 298.2,549.7 297.1,549.7 295.9,549.7 294.7,549.7 293.5,549.7 292.3,549.7 291.1,549.7 289.9,549.7 288.7,549.7 287.6,549.7 286.4,549.7 285.2,549.7 284.0,549.7 282.8,549.7 281.6,549.7 280.4,549.7 279.2,549.7 278.1,549.7 276.9,549.7 275.7,549.7 274.5,549.7 273.3,549.7 272.1,549.7 270.9,549.7 269.7,549.7 268.6,549.7 267.4,549.7 266.2,549.7 265.0,549.7 263.8,549.7 262.6,549.7 261.4,549.7 260.2,549.7 259.1,549.7 257.9,549.7 256.7,549.7 255.5,549.7 254.3,549.7 253.1,549.7 251.9,549.7 250.7,549.7 249.6,549.7 248.4,549.7 247.2,549.7 246.0,549.7 244.8,549.7 243.6,549.7 242.4,549.7 241.2,549.7 240.1,549.7 238.9,549.7 237.7,549.7 236.5,549.7 235.3,549.7 234.1,549.7 232.9,549.7 231.7,549.7 230.6,549.7 229.4,549.7 228.2,549.7 227.0,549.7 225.8,549.7 224.6,549.7 223.4,549.7 222.2,549.7 221.1,549.7 219.9,549.7 218.7,549.7 217.5,549.7 216.3,549.7 215.1,549.7 213.9,549.7 212.7,549.7 211.6,549.7 210.4,549.7 209.2,549.7 208.0,549.7 206.8,549.7 205.6,549.7 204.4,549.7 203.2,549.7 202.1,549.7 200.9,549.7 199.7,549.7 198.5,549.7 197.3,549.7 196.1,549.7 194.9,549.7 193.7,549.7 192.6,549.7 191.4,549.7 190.2,549.7 189.0,549.7 187.8,549.7 186.6,549.7 185.4,549.7 184.2,549.7 183.1,549.7 181.9,549.7 180.7,549.7 179.5,549.7 178.3,549.7 177.1,549.7 175.9,549.7 174.7,549.7 173.6,549.7 172.4,549.7 171.2,549.7 170.0,549.7 168.8,549.7 167.6,549.7 166.4,549.7 165.2,549.7 164.1,549.7 162.9,549.7 161.7,549.7 160.5,549.7 159.3,549.7 158.1,549.7 156.9,549.7 155.7,549.7 154.6,549.7 153.4,549.7 152.2,549.7 151.0,549.7 149.8,549.7 148.6,549.7 147.4,549.7 146.2,549.7 145.1,549.7 143.9,549.7 142.7,549.7 141.5,549.7 140.3,549.7 139.1,549.7 137.9,549.7 136.7,549.7 135.6,549.7 134.4,549.7 133.2,549.7 132.0,549.7 130.8,549.7 129.6,549.7 128.4,549.7 127.2,549.7 126.1,549.7 124.9,549.7 123.7,549.7 122.5,549.7 121.3,549.7 120.1,549.7 118.9,549.7 117.7,549.7 116.6,549.7 115.4,549.7 114.2,549.7 113.0,549.7 111.8,549.7 110.6,549.7 109.4,549.7 108.2,549.7 107.1,549.7 105.9,549.7 104.7,549.7 103.5,549.7 102.3,549.7 101.1,549.7 99.9,549.7 98.7,549.7 97.6,549.7 96.4,549.7 95.2,549.7 94.0,549.7 92.8,549.7 91.6,549.7 90.4,549.7 89.2,549.7 88.1,549.7 86.9,549.7 85.7,549.7 84.5,549.7 83.3,549.7 82.1,549.7 80.9,549.7 79.7,549.7 78.6,549.7 77.4,549.7 76.2,549.7 75.0,549.7 73.8,549.7 72.6,549.7 71.4,549.7 70.2,549.7 69.1,549.7 67.9,549.7 66.7,549.7 65.5,549.7 64.3,549.7 63.1,549.7 61.9,549.7 60.7,549.7 59.6,549.7 58.4,549.7 57.2,549.7 56.0,549.7" fill="#EAB839" fill-opacity="0.4"/><polygon points="56.0,541.7 57.2,530.8 58.4,540.4 59.6,541.9 60.7,528.8 61.9,538.2 63.1,539.6 64.3,541.9 65.5,533.9 66.7,541.2 67.9,537.5 69.1,540.8 70.2,544.0 71.4,543.9 72.6,544.6 73.8,540.8 75.0,541.9 76.2,543.1 77.4,543.0 78.6,541.7 79.7,535.6 80.9,540.0 82.1,540.0 83.3,543.1 84.5,536.2 85.7,540.4 86.9,539.2 88.1,542.4 89.2,542.4 90.4,544.3 91.6,543.7 92.8,544.0 94.0,544.5 95.2,543.0 96.4,539.3 97.6,539.2 98.7,534.5 99.9,540.4 101.1,544.6 102.3,544.3 103.5,543.3 104.7,532.6 105.9,542.3 107.1,542.3 108.2,543.6 109.4,540.8 110.6,540.8 111.8,539.5 113.0,540.7 114.2,543.4 115.4,543.9 116.6,541.3 117.7,543.8 118.9,544.7 120.1,538.0 121.3,540.5 122.5,540.8 123.7,540.6 124.9,538.8 126.1,540.4 127.2,540.4 128.4,542.7 129.6,543.8 130.8,543.1 132.0,540.1 133.2,543.9 134.4,537.1 135.6,540.8 136.7,540.5 137.9,538.0 139.1,543.1 140.3,541.0 141.5,535.2 142.7,542.8 143.9,536.5 145.1,539.3 146.2,539.5 147.4,540.3 148.6,539.6 149.8,534.2 151.0,537.3 152.2,535.2 153.4,539.8 154.6,532.9 155.7,539.0 156.9,534.5 158.1,537.7 159.3,530.7 160.5,542.4 161.7,542.2 162.9,542.3 164.1,540.0 165.2,530.3 166.4,536.2 167.6,539.9 168.8,536.0 170.0,541.6 171.2,533.5 172.4,538.2 173.6,527.1 174.7,536.0 175.9,526.2 177.1,538.3 178.3,537.0 179.5,539.2 180.7,538.3 181.9,535.1 183.1,537.8 184.2,532.2 185.4,529.6 186.6,434.2 187.8,534.3 189.0,538.4 190.2,532.2 191.4,534.8 192.6,540.8 193.7,531.6 194.9,529.6 196.1,538.0 197.3,537.7 198.5,537.7 199.7,537.7 200.9,533.9 202.1,539.2 203.2,534.6 204.4,527.6 205.6,493.3 206.8,536.7 208.0,531.7 209.2,537.9 210.4,533.1 211.6,490.2 212.7,535.6 213.9,527.5 215.1,532.4 216.3,537.0 217.5,540.8 218.7,537.8 219.9,534.6 221.1,539.6 222.2,534.3 223.4,531.8 224.6,532.8 225.8,527.6 227.0,535.5 228.2,530.0 229.4,529.4 230.6,534.3 231.7,536.7 232.9,534.7 234.1,531.2 235.3,537.2 236.5,531.4 237.7,533.3 238.9,532.2 240.1,536.7 241.2,537.9 242.4,536.4 243.6,533.8 244.8,527.2 246.0,532.4 247.2,530.9 248.4,529.6 249.6,535.8 250.7,538.0 251.9,534.8 253.1,529.4 254.3,533.7 255.5,534.5 256.7,532.1 257.9,533.5 259.1,537.5 260.2,542.2 261.4,541.7 262.6,534.3 263.8,542.1 265.0,541.1 266.2,541.0 267.4,537.6 268.6,542.0 269.7,537.3 270.9,533.0 272.1,543.8 273.3,540.4 274.5,536.6 275.7,541.9 276.9,542.4 278.1,541.0 279.2,537.4 280.4,540.1 281.6,542.7 282.8,535.9 284.0,542.2 285.2,541.1 286.4,541.3 287.6,544.2 288.7,544.0 289.9,543.1 291.1,542.8 292.3,541.5 293.5,541.2 294.7,541.6 295.9,543.9 297.1,539.9 298.2,537.0 299.4,541.0 300.6,543.5 301.8,543.2 303.0,539.3 304.2,541.3 305.4,540.8 306.6,539.1 307.7,543.7 308.9,540.6 310.1,544.1 311.3,541.0 312.5,537.9 313.7,542.3 314.9,542.8 316.1,540.5 317.2,535.4 318.4,540.8 319.6,544.9 320.8,544.9 322.0,535.6 323.2,542.9 324.4,542.1 325.6,542.3 326.7,541.7 327.9,535.9 329.1,541.7 330.3,541.6 331.5,541.4 332.7,541.3 333.9,540.6 335.1,542.8 336.2,542.2 337.4,543.4 338.6,543.4 339.8,543.5 341.0,540.8 342.2,542.5 343.4,540.7 344.6,543.1 345.7,544.7 346.9,542.5 348.1,543.6 349.3,543.9 350.5,541.3 351.7,543.2 352.9,541.4 354.1,539.3 355.2,537.5 356.4,541.7 357.6,544.0 358.8,544.7 360.0,544.7 361.2,542.0 362.4,543.5 363.6,533.1 364.7,544.6 365.9,545.7 367.1,538.3 368.3,544.0 369.5,539.9 370.7,545.2 371.9,544.3 373.1,541.0 374.2,533.9 375.4,543.9 376.6,542.5 377.8,542.2 379.0,534.6 380.2,543.7 381.4,541.8 382.6,541.9 383.7,543.2 384.9,541.2 386.1,544.5 387.3,541.2 388.5,536.9 389.7,540.9 390.9,542.5 392.1,542.0 393.2,541.5 394.4,541.9 395.6,544.9 396.8,544.6 398.0,544.3 399.2,544.0 400.4,543.0 401.6,543.5 402.7,545.4 403.9,544.7 405.1,542.9 406.3,536.8 407.5,539.0 408.7,541.7 409.9,542.9 411.1,536.6 412.2,541.1 413.4,543.5 414.6,544.8 415.8,542.2 417.0,543.5 418.2,542.5 419.4,541.1 420.6,542.5 421.7,536.6 422.9,538.9 424.1,542.1 425.3,542.4 426.5,543.1 427.7,542.4 428.9,540.9 430.1,541.8 431.2,543.0 432.4,542.8 433.6,541.6 434.8,540.9 436.0,543.5 437.2,543.2 438.4,540.2 439.6,540.7 440.7,539.1 441.9,543.0 443.1,542.7 444.3,540.5 445.5,541.9 446.7,543.2 447.9,543.8 449.1,543.0 450.2,540.8 451.4,538.6 452.6,534.3 453.8,539.8 455.0,544.0 456.2,541.8 457.4,536.0 458.6,536.0 459.7,540.6 460.9,544.9 462.1,535.7 463.3,541.4 464.5,539.3 465.7,540.1 466.9,529.6 468.1,544.1 469.2,539.8 470.4,541.4 471.6,540.1 472.8,542.7 474.0,539.0 475.2,541.5 476.4,543.5 477.6,540.5 478.7,538.3 479.9,540.4 481.1,537.9 482.3,538.6 483.5,538.6 484.7,538.9 485.9,542.2 487.1,540.8 488.2,531.2 489.4,541.2 490.6,539.8 491.8,537.0 493.0,536.3 494.2,541.0 495.4,541.2 496.6,543.3 497.7,544.1 498.9,543.8 500.1,535.9 501.3,539.8 502.5,535.6 503.7,536.0 504.9,539.8 506.1,544.0 507.2,538.7 508.4,534.6 509.6,540.1 510.8,537.3 512.0,541.6 513.2,541.7 514.4,535.0 515.6,536.1 516.7,543.9 517.9,539.5 519.1,541.4 520.3,538.3 521.5,540.1 522.7,538.8 523.9,537.0 525.1,521.0 526.2,535.1 527.4,531.8 528.6,531.4 529.8,531.6 531.0,519.1 532.2,530.9 533.4,535.3 534.6,522.7 535.7,516.2 536.9,535.3 538.1,536.6 539.3,534.3 540.5,539.3 541.7,534.9 542.9,533.9 544.1,538.0 545.2,540.8 546.4,541.1 547.6,534.4 548.8,539.2 550.0,515.1 551.2,538.1 552.4,537.2 553.6,537.5 554.7,541.4 555.9,537.3 557.1,536.6 558.3,537.6 559.5,537.7 560.7,541.4 561.9,539.7 563.1,536.1 564.2,541.8 565.4,538.6 566.6,535.7 567.8,536.6 569.0,539.2 570.2,525.3 571.4,539.6 572.6,537.6 573.7,542.5 574.9,542.5 576.1,542.6 577.3,537.3 578.5,538.8 579.7,534.4 580.9,538.7 582.1,539.9 583.2,536.4 584.4,538.4 585.6,535.7 586.8,538.9 588.0,536.3 589.2,539.9 590.4,542.2 591.6,539.9 592.7,542.7 593.9,538.0 595.1,539.7 596.3,532.0 597.5,533.4 598.7,539.8 599.9,540.0 601.1,540.1 602.2,541.9 603.4,540.4 604.6,541.2 605.8,542.2 607.0,544.0 608.2,539.3 609.4,530.6 610.6,535.0 611.7,541.5 612.9,533.1 614.1,541.0 615.3,541.5 616.5,533.0 617.7,537.2 618.9,538.5 620.1,537.5 621.2,539.8 622.4,539.6 623.6,539.8 624.8,541.8 626.0,541.6 627.2,534.0 628.4,527.5 629.6,534.1 630.7,540.6 631.9,537.7 633.1,537.3 634.3,538.3 635.5,540.2 636.7,540.0 637.9,542.9 639.1,535.8 640.2,543.4 641.4,541.4 642.6,527.2 643.8,531.2 645.0,533.6 646.2,537.4 647.4,532.0 648.6,535.7 649.7,535.5 650.9,529.2 652.1,534.9 653.3,541.6 654.5,535.1 655.7,534.4 656.9,536.5 658.1,538.2 659.2,530.2 660.4,537.2 661.6,541.9 662.8,527.3 664.0,523.0 665.2,532.7 666.4,539.5 667.6,537.7 668.7,535.7 669.9,535.5 671.1,538.9 672.3,537.1 673.5,541.7 674.7,536.5 675.9,540.8 677.1,543.0 678.2,541.5 679.4,532.0 680.6,534.6 681.8,539.3 683.0,537.4 684.2,542.7 685.4,541.9 686.6,540.5 687.7,539.8 688.9,540.0 690.1,533.4 691.3,535.9 692.5,535.1 693.7,539.1 694.9,541.7 696.1,541.2 697.2,540.9 698.4,532.7 699.6,542.0 700.8,541.9 702.0,535.7 703.2,534.4 704.4,537.7 705.6,539.8 706.7,537.9 707.9,537.6 709.1,535.6 710.3,539.4 711.5,542.4 712.7,540.7 713.9,538.2 715.1,539.9 716.2,536.2 717.4,539.1 718.6,539.2 719.8,535.4 719.8,543.5 718.6,544.5 717.4,544.2 716.2,540.5 715.1,545.3 713.9,544.9 712.7,545.7 711.5,545.2 710.3,544.6 709.1,545.7 707.9,540.4 706.7,545.3 705.6,546.2 704.4,546.1 703.2,545.0 702.0,544.7 700.8,545.6 699.6,545.8 698.4,545.1 697.2,545.0 696.1,545.6 694.9,546.0 693.7,545.7 692.5,545.0 691.3,544.6 690.1,538.8 688.9,545.4 687.7,545.3 686.6,545.9 685.4,545.5 684.2,544.5 683.0,544.4 681.8,545.2 680.6,538.2 679.4,543.7 678.2,545.3 677.1,545.2 675.9,545.5 674.7,546.1 673.5,545.7 672.3,544.8 671.1,544.6 669.9,544.8 668.7,545.2 667.6,545.8 666.4,545.4 665.2,545.3 664.0,541.9 662.8,544.0 661.6,544.3 660.4,544.9 659.2,536.7 658.1,544.5 656.9,543.1 655.7,541.9 654.5,539.1 653.3,545.1 652.1,545.8 650.9,542.7 649.7,543.3 648.6,541.8 647.4,544.5 646.2,545.0 645.0,545.3 643.8,542.6 642.6,542.6 641.4,545.6 640.2,545.7 639.1,545.6 637.9,545.8 636.7,545.2 635.5,545.4 634.3,546.3 633.1,545.4 631.9,544.7 630.7,544.7 629.6,543.9 628.4,536.5 627.2,539.6 626.0,546.4 624.8,546.3 623.6,546.0 622.4,545.8 621.2,544.4 620.1,540.6 618.9,545.0 617.7,544.2 616.5,543.8 615.3,545.4 614.1,542.8 612.9,544.9 611.7,544.0 610.6,543.3 609.4,543.9 608.2,545.8 607.0,545.8 605.8,544.7 604.6,544.1 603.4,545.0 602.2,546.1 601.1,546.3 599.9,545.9 598.7,545.2 597.5,545.0 596.3,544.4 595.1,543.5 593.9,543.9 592.7,545.1 591.6,546.0 590.4,546.2 589.2,542.9 588.0,542.0 586.8,541.9 585.6,540.4 584.4,542.3 583.2,546.2 582.1,544.8 580.9,543.7 579.7,544.9 578.5,545.9 577.3,546.4 576.1,546.5 574.9,545.7 573.7,544.6 572.6,539.8 571.4,543.0 570.2,540.9 569.0,544.8 567.8,544.1 566.6,544.6 565.4,545.2 564.2,543.9 563.1,543.9 561.9,545.2 560.7,546.0 559.5,546.7 558.3,545.1 557.1,544.4 555.9,545.1 554.7,544.3 553.6,544.5 552.4,544.5 551.2,541.7 550.0,542.1 548.8,544.3 547.6,545.1 546.4,545.7 545.2,545.5 544.1,545.3 542.9,545.1 541.7,543.3 540.5,542.8 539.3,545.5 538.1,545.9 536.9,545.9 535.7,545.3 534.6,545.1 533.4,546.1 532.2,545.8 531.0,544.7 529.8,544.2 528.6,542.4 527.4,543.4 526.2,544.6 525.1,544.8 523.9,544.9 522.7,545.1 521.5,545.0 520.3,545.0 519.1,543.3 517.9,543.1 516.7,546.3 515.6,546.5 514.4,546.4 513.2,545.4 512.0,544.6 510.8,545.6 509.6,546.4 508.4,545.8 507.2,545.6 506.1,545.6 504.9,545.6 503.7,544.3 502.5,543.9 501.3,544.2 500.1,545.6 498.9,545.7 497.7,546.1 496.6,545.3 495.4,545.3 494.2,546.3 493.0,546.5 491.8,546.2 490.6,545.6 489.4,544.8 488.2,545.0 487.1,545.6 485.9,545.9 484.7,545.1 483.5,543.9 482.3,544.6 481.1,545.4 479.9,544.4 478.7,542.4 477.6,544.0 476.4,546.2 475.2,546.3 474.0,545.8 472.8,545.8 471.6,542.4 470.4,544.2 469.2,541.6 468.1,545.3 466.9,533.4 465.7,545.1 464.5,545.6 463.3,544.3 462.1,540.5 460.9,546.4 459.7,544.7 458.6,544.7 457.4,544.7 456.2,543.8 455.0,545.4 453.8,545.7 452.6,540.2 451.4,545.4 450.2,544.6 449.1,544.5 447.9,545.5 446.7,545.2 445.5,544.1 444.3,544.8 443.1,544.7 441.9,545.1 440.7,543.5 439.6,542.4 438.4,543.8 437.2,546.9 436.0,546.2 434.8,543.4 433.6,543.7 432.4,545.9 431.2,546.0 430.1,546.2 428.9,545.7 427.7,545.5 426.5,544.9 425.3,545.0 424.1,544.5 422.9,541.6 421.7,541.3 420.6,544.9 419.4,544.0 418.2,544.6 417.0,544.4 415.8,544.6 414.6,546.2 413.4,544.9 412.2,544.3 411.1,537.7 409.9,545.9 408.7,542.9 407.5,546.0 406.3,545.9 405.1,546.2 403.9,546.4 402.7,547.0 401.6,546.8 400.4,545.7 399.2,545.0 398.0,545.9 396.8,546.7 395.6,546.7 394.4,545.4 393.2,543.5 392.1,543.1 390.9,546.7 389.7,546.8 388.5,546.3 387.3,546.3 386.1,546.3 384.9,545.4 383.7,545.8 382.6,545.2 381.4,545.1 380.2,546.2 379.0,538.0 377.8,544.4 376.6,545.7 375.4,546.6 374.2,538.6 373.1,544.9 371.9,546.0 370.7,546.6 369.5,542.4 368.3,545.1 367.1,540.0 365.9,546.6 364.7,545.7 363.6,536.1 362.4,546.1 361.2,546.8 360.0,546.7 358.8,546.4 357.6,545.9 356.4,545.2 355.2,544.6 354.1,543.3 352.9,546.0 351.7,546.1 350.5,546.1 349.3,545.2 348.1,545.8 346.9,546.2 345.7,545.9 344.6,545.8 343.4,544.9 342.2,544.9 341.0,545.7 339.8,546.1 338.6,546.5 337.4,546.3 336.2,545.3 335.1,545.2 333.9,545.0 332.7,544.7 331.5,545.7 330.3,545.7 329.1,545.5 327.9,539.2 326.7,545.8 325.6,546.9 324.4,543.9 323.2,544.5 322.0,538.7 320.8,545.7 319.6,545.8 318.4,545.3 317.2,541.1 316.1,545.4 314.9,545.7 313.7,546.7 312.5,545.2 311.3,544.9 310.1,546.2 308.9,545.6 307.7,545.3 306.6,546.3 305.4,546.2 304.2,545.7 303.0,545.8 301.8,545.9 300.6,546.0 299.4,544.9 298.2,543.7 297.1,544.6 295.9,545.9 294.7,546.2 293.5,545.7 292.3,545.1 291.1,545.3 289.9,545.2 288.7,545.2 287.6,545.1 286.4,544.0 285.2,544.6 284.0,545.5 282.8,545.1 281.6,545.8 280.4,545.1 279.2,543.3 278.1,544.3 276.9,545.3 275.7,544.8 274.5,545.0 273.3,545.5 272.1,546.3 270.9,539.9 269.7,545.5 268.6,546.2 267.4,545.0 266.2,544.4 265.0,545.3 263.8,544.4 262.6,544.2 261.4,545.3 260.2,545.7 259.1,543.0 257.9,544.0 256.7,544.8 255.5,545.0 254.3,544.5 253.1,544.8 251.9,545.9 250.7,546.2 249.6,545.1 248.4,544.8 247.2,545.8 246.0,542.8 244.8,543.8 243.6,543.6 242.4,545.7 241.2,546.2 240.1,546.1 238.9,545.6 237.7,545.0 236.5,539.5 235.3,545.8 234.1,546.3 232.9,546.3 231.7,546.0 230.6,545.8 229.4,544.1 228.2,544.5 227.0,545.6 225.8,544.2 224.6,544.0 223.4,544.9 222.2,545.1 221.1,545.9 219.9,545.6 218.7,544.7 217.5,545.6 216.3,545.5 215.1,543.6 213.9,543.7 212.7,540.1 211.6,537.8 210.4,545.4 209.2,544.1 208.0,543.9 206.8,543.7 205.6,527.2 204.4,544.8 203.2,544.8 202.1,546.0 200.9,545.5 199.7,543.6 198.5,545.4 197.3,545.3 196.1,545.5 194.9,544.7 193.7,545.3 192.6,546.3 191.4,545.5 190.2,545.1 189.0,545.5 187.8,545.8 186.6,507.0 185.4,544.2 184.2,545.2 183.1,544.2 181.9,541.9 180.7,545.0 179.5,544.3 178.3,544.3 177.1,545.1 175.9,545.5 174.7,543.2 173.6,543.5 172.4,545.2 171.2,545.6 170.0,546.0 168.8,545.9 167.6,545.9 166.4,542.7 165.2,544.1 164.1,544.5 162.9,545.1 161.7,545.3 160.5,545.0 159.3,544.6 158.1,544.7 156.9,544.3 155.7,545.0 154.6,543.8 153.4,544.8 152.2,544.7 151.0,542.9 149.8,540.6 148.6,545.2 147.4,545.3 146.2,544.8 145.1,545.9 143.9,540.8 142.7,545.5 141.5,537.6 140.3,546.0 139.1,545.0 137.9,543.5 136.7,543.9 135.6,544.4 134.4,545.6 133.2,546.4 132.0,545.7 130.8,545.3 129.6,545.5 128.4,545.3 127.2,545.6 126.1,545.0 124.9,544.9 123.7,544.0 122.5,542.8 121.3,544.9 120.1,540.4 118.9,546.2 117.7,545.8 116.6,546.0 115.4,546.2 114.2,546.2 113.0,544.9 111.8,544.9 110.6,544.3 109.4,543.9 108.2,545.8 107.1,545.0 105.9,545.3 104.7,546.7 103.5,546.0 102.3,546.1 101.1,545.4 99.9,545.0 98.7,545.1 97.6,544.7 96.4,545.1 95.2,545.2 94.0,545.8 92.8,546.1 91.6,546.5 90.4,546.0 89.2,544.7 88.1,544.7 86.9,544.3 85.7,544.3 84.5,544.1 83.3,546.7 82.1,545.2 80.9,544.7 79.7,545.6 78.6,545.5 77.4,544.9 76.2,545.6 75.0,545.4 73.8,543.5 72.6,546.5 71.4,546.5 70.2,546.0 69.1,545.7 67.9,541.4 66.7,545.0 65.5,545.1 64.3,545.2 63.1,543.6 61.9,543.5 60.7,534.4 59.6,545.2 58.4,544.5 57.2,544.3 56.0,546.1" fill="#0A437C" fill-opacity="0.4"/><polygon points="56.0,540.3 57.2,509.0 58.4,540.4 59.6,541.9 60.7,522.8 61.9,532.0 63.1,539.6 64.3,536.3 65.5,478.6 66.7,529.6 67.9,532.4 69.1,534.4 70.2,544.0 71.4,539.2 72.6,544.6 73.8,540.8 75.0,536.8 76.2,540.0 77.4,543.0 78.6,541.7 79.7,524.4 80.9,537.0 82.1,523.4 83.3,540.1 84.5,521.4 85.7,538.9 86.9,528.1 88.1,542.4 89.2,542.4 90.4,544.3 91.6,539.2 92.8,541.0 94.0,544.2 95.2,540.5 96.4,539.3 97.6,533.6 98.7,478.6 99.9,524.8 101.1,544.6 102.3,544.3 103.5,536.6 104.7,465.0 105.9,535.5 107.1,540.5 108.2,543.6 109.4,537.6 110.6,537.0 111.8,539.5 113.0,540.7 114.2,541.1 115.4,543.9 116.6,534.7 117.7,543.8 118.9,544.7 120.1,537.0 121.3,531.1 122.5,539.9 123.7,540.6 124.9,533.1 126.1,540.4 127.2,540.4 128.4,542.7 129.6,543.8 130.8,543.1 132.0,529.0 133.2,540.6 134.4,503.9 135.6,537.5 136.7,540.5 137.9,527.6 139.1,542.4 140.3,527.2 141.5,534.6 142.7,542.8 143.9,527.0 145.1,509.8 146.2,526.6 147.4,523.4 148.6,537.9 149.8,534.2 151.0,534.5 152.2,515.6 153.4,538.3 154.6,516.9 155.7,537.8 156.9,521.4 158.1,530.8 159.3,496.2 160.5,542.4 161.7,540.4 162.9,542.3 164.1,529.3 165.2,470.9 166.4,525.0 167.6,526.9 168.8,492.3 170.0,537.2 171.2,496.2 172.4,469.2 173.6,439.5 174.7,434.3 175.9,421.9 177.1,425.7 178.3,422.9 179.5,438.3 180.7,445.5 181.9,426.7 183.1,430.3 184.2,422.5 185.4,421.2 186.6,428.6 187.8,415.5 189.0,432.5 190.2,443.7 191.4,426.0 192.6,437.0 193.7,431.5 194.9,440.0 196.1,438.5 197.3,427.0 198.5,436.1 199.7,426.8 200.9,419.6 202.1,415.9 203.2,414.3 204.4,419.4 205.6,377.2 206.8,428.9 208.0,408.9 209.2,425.4 210.4,429.6 211.6,399.8 212.7,427.4 213.9,439.4 215.1,458.2 216.3,455.6 217.5,480.9 218.7,481.8 219.9,456.2 221.1,461.2 222.2,466.5 223.4,479.7 224.6,491.7 225.8,468.7 227.0,496.5 228.2,483.8 229.4,475.7 230.6,491.9 231.7,474.5 232.9,478.2 234.1,469.9 235.3,470.2 236.5,468.6 237.7,468.2 238.9,466.3 240.1,495.4 241.2,491.6 242.4,487.7 243.6,470.0 244.8,459.7 246.0,453.3 247.2,485.0 248.4,476.8 249.6,510.4 250.7,505.6 251.9,511.3 253.1,472.6 254.3,479.0 255.5,505.7 256.7,502.8 257.9,519.3 259.1,537.5 260.2,539.4 261.4,535.3 262.6,492.3 263.8,537.9 265.0,534.9 266.2,537.9 267.4,519.5 268.6,540.2 269.7,521.8 270.9,521.0 272.1,543.8 273.3,530.1 274.5,505.9 275.7,537.4 276.9,542.4 278.1,537.6 279.2,525.3 280.4,539.2 281.6,542.7 282.8,517.2 284.0,541.4 285.2,533.1 286.4,536.9 287.6,544.2 288.7,544.0 289.9,543.1 291.1,542.8 292.3,535.8 293.5,534.6 294.7,535.0 295.9,543.9 297.1,537.7 298.2,525.3 299.4,535.2 300.6,543.5 301.8,543.2 303.0,526.1 304.2,534.5 305.4,529.2 306.6,522.2 307.7,543.7 308.9,532.3 310.1,544.1 311.3,539.4 312.5,528.5 313.7,537.9 314.9,542.8 316.1,540.5 317.2,535.4 318.4,535.1 319.6,544.5 320.8,544.8 322.0,529.2 323.2,542.8 324.4,542.1 325.6,535.4 326.7,541.7 327.9,535.9 329.1,541.7 330.3,541.6 331.5,536.6 332.7,541.3 333.9,537.4 335.1,541.7 336.2,531.1 337.4,542.3 338.6,543.4 339.8,543.5 341.0,536.9 342.2,542.5 343.4,536.6 344.6,543.1 345.7,544.7 346.9,536.9 348.1,543.6 349.3,543.9 350.5,528.6 351.7,531.1 352.9,535.4 354.1,538.9 355.2,527.2 356.4,541.3 357.6,541.7 358.8,544.7 360.0,544.7 361.2,531.9 362.4,539.6 363.6,528.2 364.7,544.6 365.9,545.2 367.1,533.1 368.3,543.5 369.5,537.3 370.7,545.2 371.9,544.3 373.1,541.0 374.2,530.9 375.4,543.9 376.6,539.3 377.8,540.7 379.0,534.6 380.2,543.7 381.4,541.8 382.6,541.9 383.7,543.2 384.9,537.3 386.1,544.5 387.3,539.7 388.5,525.3 389.7,533.9 390.9,535.5 392.1,542.0 393.2,538.4 394.4,533.1 395.6,544.3 396.8,544.6 398.0,544.3 399.2,544.0 400.4,543.0 401.6,543.5 402.7,545.4 403.9,544.7 405.1,542.9 406.3,520.0 407.5,521.4 408.7,541.3 409.9,537.2 411.1,535.9 412.2,531.1 413.4,541.0 414.6,544.1 415.8,539.4 417.0,543.5 418.2,540.5 419.4,541.1 420.6,542.2 421.7,529.2 422.9,538.6 424.1,542.1 425.3,541.3 426.5,543.1 427.7,541.6 428.9,535.2 430.1,537.3 431.2,542.3 432.4,540.6 433.6,539.1 434.8,540.9 436.0,543.5 437.2,543.2 438.4,540.2 439.6,540.7 440.7,530.9 441.9,543.0 443.1,541.0 444.3,523.4 445.5,539.1 446.7,543.2 447.9,543.8 449.1,543.0 450.2,540.0 451.4,525.3 452.6,533.6 453.8,539.8 455.0,544.0 456.2,541.8 457.4,521.4 458.6,525.0 459.7,537.7 460.9,543.3 462.1,519.5 463.3,539.7 464.5,527.5 465.7,535.8 466.9,529.6 468.1,544.1 469.2,539.8 470.4,541.4 471.6,539.2 472.8,542.7 474.0,531.1 475.2,533.1 476.4,543.1 477.6,540.5 478.7,538.3 479.9,540.4 481.1,525.6 482.3,534.8 483.5,538.6 484.7,535.0 485.9,542.2 487.1,533.1 488.2,499.4 489.4,538.9 490.6,530.9 491.8,537.0 493.0,531.3 494.2,539.6 495.4,541.0 496.6,543.3 497.7,544.1 498.9,543.8 500.1,514.4 501.3,538.5 502.5,523.4 503.7,522.4 504.9,529.1 506.1,544.0 507.2,533.5 508.4,526.7 509.6,534.3 510.8,515.6 512.0,540.3 513.2,537.9 514.4,529.5 515.6,525.3 516.7,542.8 517.9,536.0 519.1,541.4 520.3,526.1 521.5,540.1 522.7,538.7 523.9,511.7 525.1,395.1 526.2,492.6 527.4,484.5 528.6,483.0 529.8,475.5 531.0,412.6 532.2,473.7 533.4,484.5 534.6,457.4 535.7,414.5 536.9,501.1 538.1,514.9 539.3,492.3 540.5,533.1 541.7,534.9 542.9,519.3 544.1,507.8 545.2,537.8 546.4,541.1 547.6,518.1 548.8,524.4 550.0,366.9 551.2,523.2 552.4,537.2 553.6,537.5 554.7,540.5 555.9,523.4 557.1,531.2 558.3,533.0 559.5,526.2 560.7,541.4 561.9,529.7 563.1,500.0 564.2,537.1 565.4,527.2 566.6,531.4 567.8,531.7 569.0,534.1 570.2,469.9 571.4,534.6 572.6,537.6 573.7,542.5 574.9,539.9 576.1,539.2 577.3,525.3 578.5,537.6 579.7,515.4 580.9,531.1 582.1,534.0 583.2,516.0 584.4,532.2 585.6,527.2 586.8,538.1 588.0,524.7 589.2,539.9 590.4,542.2 591.6,532.5 592.7,540.4 593.9,513.6 595.1,537.5 596.3,532.0 597.5,530.2 598.7,539.8 599.9,534.6 601.1,511.7 602.2,539.1 603.4,540.4 604.6,541.2 605.8,542.2 607.0,544.0 608.2,538.5 609.4,513.6 610.6,524.4 611.7,541.5 612.9,503.1 614.1,541.0 615.3,540.9 616.5,509.8 617.7,531.0 618.9,538.5 620.1,537.5 621.2,532.6 622.4,527.2 623.6,532.8 624.8,541.8 626.0,541.6 627.2,534.0 628.4,522.9 629.6,511.7 630.7,538.4 631.9,537.7 633.1,530.8 634.3,517.5 635.5,538.7 636.7,540.0 637.9,538.2 639.1,488.4 640.2,538.7 641.4,539.1 642.6,503.9 643.8,527.6 645.0,507.8 646.2,527.5 647.4,514.1 648.6,533.1 649.7,509.8 650.9,520.7 652.1,534.9 653.3,541.6 654.5,535.1 655.7,522.9 656.9,523.4 658.1,536.9 659.2,530.2 660.4,528.3 661.6,540.3 662.8,511.7 664.0,521.4 665.2,519.4 666.4,539.2 667.6,527.2 668.7,520.6 669.9,521.9 671.1,534.4 672.3,524.5 673.5,537.6 674.7,515.9 675.9,529.2 677.1,541.8 678.2,538.9 679.4,509.6 680.6,534.6 681.8,538.6 683.0,531.1 684.2,542.1 685.4,541.9 686.6,540.5 687.7,539.8 688.9,535.9 690.1,524.6 691.3,519.7 692.5,519.5 693.7,537.5 694.9,541.7 696.1,541.2 697.2,539.9 698.4,502.0 699.6,537.5 700.8,541.9 702.0,535.4 703.2,523.4 704.4,517.9 705.6,529.8 706.7,527.7 707.9,534.4 709.1,503.9 710.3,536.3 711.5,542.4 712.7,533.1 713.9,525.3 715.1,538.9 716.2,534.6 717.4,523.4 718.6,537.6 719.8,535.4 719.8,535.4 718.6,539.2 717.4,539.1 716.2,536.2 715.1,539.9 713.9,538.2 712.7,540.7 711.5,542.4 710.3,539.4 709.1,535.6 707.9,537.6 706.7,537.9 705.6,539.8 704.4,537.7 703.2,534.4 702.0,535.7 700.8,541.9 699.6,542.0 698.4,532.7 697.2,540.9 696.1,541.2 694.9,541.7 693.7,539.1 692.5,535.1 691.3,535.9 690.1,533.4 688.9,540.0 687.7,539.8 686.6,540.5 685.4,541.9 684.2,542.7 683.0,537.4 681.8,539.3 680.6,534.6 679.4,532.0 678.2,541.5 677.1,543.0 675.9,540.8 674.7,536.5 673.5,541.7 672.3,537.1 671.1,538.9 669.9,535.5 668.7,535.7 667.6,537.7 666.4,539.5 665.2,532.7 664.0,523.0 662.8,527.3 661.6,541.9 660.4,537.2 659.2,530.2 658.1,538.2 656.9,536.5 655.7,534.4 654.5,535.1 653.3,541.6 652.1,534.9 650.9,529.2 649.7,535.5 648.6,535.7 647.4,532.0 646.2,537.4 645.0,533.6 643.8,531.2 642.6,527.2 641.4,541.4 640.2,543.4 639.1,535.8 637.9,542.9 636.7,540.0 635.5,540.2 634.3,538.3 633.1,537.3 631.9,537.7 630.7,540.6 629.6,534.1 628.4,527.5 627.2,534.0 626.0,541.6 624.8,541.8 623.6,539.8 622.4,539.6 621.2,539.8 620.1,537.5 618.9,538.5 617.7,537.2 616.5,533.0 615.3,541.5 614.1,541.0 612.9,533.1 611.7,541.5 610.6,535.0 609.4,530.6 608.2,539.3 607.0,544.0 605.8,542.2 604.6,541.2 603.4,540.4 602.2,541.9 601.1,540.1 599.9,540.0 598.7,539.8 597.5,533.4 596.3,532.0 595.1,539.7 593.9,538.0 592.7,542.7 591.6,539.9 590.4,542.2 589.2,539.9 588.0,536.3 586.8,538.9 585.6,535.7 584.4,538.4 583.2,536.4 582.1,539.9 580.9,538.7 579.7,534.4 578.5,538.8 577.3,537.3 576.1,542.6 574.9,542.5 573.7,542.5 572.6,537.6 571.4,539.6 570.2,525.3 569.0,539.2 567.8,536.6 566.6,535.7 565.4,538.6 564.2,541.8 563.1,536.1 561.9,539.7 560.7,541.4 559.5,537.7 558.3,537.6 557.1,536.6 555.9,537.3 554.7,541.4 553.6,537.5 552.4,537.2 551.2,538.1 550.0,515.1 548.8,539.2 547.6,534.4 546.4,541.1 545.2,540.8 544.1,538.0 542.9,533.9 541.7,534.9 540.5,539.3 539.3,534.3 538.1,536.6 536.9,535.3 535.7,516.2 534.6,522.7 533.4,535.3 532.2,530.9 531.0,519.1 529.8,531.6 528.6,531.4 527.4,531.8 526.2,535.1 525.1,521.0 523.9,537.0 522.7,538.8 521.5,540.1 520.3,538.3 519.1,541.4 517.9,539.5 516.7,543.9 515.6,536.1 514.4,535.0 513.2,541.7 512.0,541.6 510.8,537.3 509.6,540.1 508.4,534.6 507.2,538.7 506.1,544.0 504.9,539.8 503.7,536.0 502.5,535.6 501.3,539.8 500.1,535.9 498.9,543.8 497.7,544.1 496.6,543.3 495.4,541.2 494.2,541.0 493.0,536.3 491.8,537.0 490.6,539.8 489.4,541.2 488.2,531.2 487.1,540.8 485.9,542.2 484.7,538.9 483.5,538.6 482.3,538.6 481.1,537.9 479.9,540.4 478.7,538.3 477.6,540.5 476.4,543.5 475.2,541.5 474.0,539.0 472.8,542.7 471.6,540.1 470.4,541.4 469.2,539.8 468.1,544.1 466.9,529.6 465.7,540.1 464.5,539.3 463.3,541.4 462.1,535.7 460.9,544.9 459.7,540.6 458.6,536.0 457.4,536.0 456.2,541.8 455.0,544.0 453.8,539.8 452.6,534.3 451.4,538.6 450.2,540.8 449.1,543.0 447.9,543.8 446.7,543.2 445.5,541.9 444.3,540.5 443.1,542.7 441.9,543.0 440.7,539.1 439.6,540.7 438.4,540.2 437.2,543.2 436.0,543.5 434.8,540.9 433.6,541.6 432.4,542.8 431.2,543.0 430.1,541.8 428.9,540.9 427.7,542.4 426.5,543.1 425.3,542.4 424.1,542.1 422.9,538.9 421.7,536.6 420.6,542.5 419.4,541.1 418.2,542.5 417.0,543.5 415.8,542.2 414.6,544.8 413.4,543.5 412.2,541.1 411.1,536.6 409.9,542.9 408.7,541.7 407.5,539.0 406.3,536.8 405.1,542.9 403.9,544.7 402.7,545.4 401.6,543.5 400.4,543.0 399.2,544.0 398.0,544.3 396.8,544.6 395.6,544.9 394.4,541.9 393.2,541.5 392.1,542.0 390.9,542.5 389.7,540.9 388.5,536.9 387.3,541.2 386.1,544.5 384.9,541.2 383.7,543.2 382.6,541.9 381.4,541.8 380.2,543.7 379.0,534.6 377.8,542.2 376.6,542.5 375.4,543.9 374.2,533.9 373.1,541.0 371.9,544.3 370.7,545.2 369.5,539.9 368.3,544.0 367.1,538.3 365.9,545.7 364.7,544.6 363.6,533.1 362.4,543.5 361.2,542.0 360.0,544.7 358.8,544.7 357.6,544.0 356.4,541.7 355.2,537.5 354.1,539.3 352.9,541.4 351.7,543.2 350.5,541.3 349.3,543.9 348.1,543.6 346.9,542.5 345.7,544.7 344.6,543.1 343.4,540.7 342.2,542.5 341.0,540.8 339.8,543.5 338.6,543.4 337.4,543.4 336.2,542.2 335.1,542.8 333.9,540.6 332.7,541.3 331.5,541.4 330.3,541.6 329.1,541.7 327.9,535.9 326.7,541.7 325.6,542.3 324.4,542.1 323.2,542.9 322.0,535.6 320.8,544.9 319.6,544.9 318.4,540.8 317.2,535.4 316.1,540.5 314.9,542.8 313.7,542.3 312.5,537.9 311.3,541.0 310.1,544.1 308.9,540.6 307.7,543.7 306.6,539.1 305.4,540.8 304.2,541.3 303.0,539.3 301.8,543.2 300.6,543.5 299.4,541.0 298.2,537.0 297.1,539.9 295.9,543.9 294.7,541.6 293.5,541.2 292.3,541.5 291.1,542.8 289.9,543.1 288.7,544.0 287.6,544.2 286.4,541.3 285.2,541.1 284.0,542.2 282.8,535.9 281.6,542.7 280.4,540.1 279.2,537.4 278.1,541.0 276.9,542.4 275.7,541.9 274.5,536.6 273.3,540.4 272.1,543.8 270.9,533.0 269.7,537.3 268.6,542.0 267.4,537.6 266.2,541.0 265.0,541.1 263.8,542.1 262.6,534.3 261.4,541.7 260.2,542.2 259.1,537.5 257.9,533.5 256.7,532.1 255.5,534.5 254.3,533.7 253.1,529.4 251.9,534.8 250.7,538.0 249.6,535.8 248.4,529.6 247.2,530.9 246.0,532.4 244.8,527.2 243.6,533.8 242.4,536.4 241.2,537.9 240.1,536.7 238.9,532.2 237.7,533.3 236.5,531.4 235.3,537.2 234.1,531.2 232.9,534.7 231.7,536.7 230.6,534.3 229.4,529.4 228.2,530.0 227.0,535.5 225.8,527.6 224.6,532.8 223.4,531.8 222.2,534.3 221.1,539.6 219.9,534.6 218.7,537.8 217.5,540.8 216.3,537.0 215.1,532.4 213.9,527.5 212.7,535.6 211.6,490.2 210.4,533.1 209.2,537.9 208.0,531.7 206.8,536.7 205.6,493.3 204.4,527.6 203.2,534.6 202.1,539.2 200.9,533.9 199.7,537.7 198.5,537.7 197.3,537.7 196.1,538.0 194.9,529.6 193.7,531.6 192.6,540.8 191.4,534.8 190.2,532.2 189.0,538.4 187.8,534.3 186.6,434.2 185.4,529.6 184.2,532.2 183.1,537.8 181.9,535.1 180.7,538.3 179.5,539.2 178.3,537.0 177.1,538.3 175.9,526.2 174.7,536.0 173.6,527.1 172.4,538.2 171.2,533.5 170.0,541.6 168.8,536.0 167.6,539.9 166.4,536.2 165.2,530.3 164.1,540.0 162.9,542.3 161.7,542.2 160.5,542.4 159.3,530.7 158.1,537.7 156.9,534.5 155.7,539.0 154.6,532.9 153.4,539.8 152.2,535.2 151.0,537.3 149.8,534.2 148.6,539.6 147.4,540.3 146.2,539.5 145.1,539.3 143.9,536.5 142.7,542.8 141.5,535.2 140.3,541.0 139.1,543.1 137.9,538.0 136.7,540.5 135.6,540.8 134.4,537.1 133.2,543.9 132.0,540.1 130.8,543.1 129.6,543.8 128.4,542.7 127.2,540.4 126.1,540.4 124.9,538.8 123.7,540.6 122.5,540.8 121.3,540.5 120.1,538.0 118.9,544.7 117.7,543.8 116.6,541.3 115.4,543.9 114.2,543.4 113.0,540.7 111.8,539.5 110.6,540.8 109.4,540.8 108.2,543.6 107.1,542.3 105.9,542.3 104.7,532.6 103.5,543.3 102.3,544.3 101.1,544.6 99.9,540.4 98.7,534.5 97.6,539.2 96.4,539.3 95.2,543.0 94.0,544.5 92.8,544.0 91.6,543.7 90.4,544.3 89.2,542.4 88.1,542.4 86.9,539.2 85.7,540.4 84.5,536.2 83.3,543.1 82.1,540.0 80.9,540.0 79.7,535.6 78.6,541.7 77.4,543.0 76.2,543.1 75.0,541.9 73.8,540.8 72.6,544.6 71.4,543.9 70.2,544.0 69.1,540.8 67.9,537.5 66.7,541.2 65.5,533.9 64.3,541.9 63.1,539.6 61.9,538.2 60.7,528.8 59.6,541.9 58.4,540.4 57.2,530.8 56.0,541.7" fill="#890F02" fill-opacity="0.4"/><polygon points="56.0,540.0 57.2,508.8 58.4,540.1 59.6,541.6 60.7,522.5 61.9,531.7 63.1,539.3 64.3,536.0 65.5,478.4 66.7,529.3 67.9,532.1 69.1,534.1 70.2,543.7 71.4,538.9 72.6,544.3 73.8,540.5 75.0,536.5 76.2,539.8 77.4,542.7 78.6,541.4 79.7,524.1 80.9,536.7 82.1,523.1 83.3,539.8 84.5,521.1 85.7,538.6 86.9,527.8 88.1,542.1 89.2,542.2 90.4,544.0 91.6,538.9 92.8,540.7 94.0,543.9 95.2,540.2 96.4,539.0 97.6,533.3 98.7,478.4 99.9,524.5 101.1,544.3 102.3,544.0 103.5,536.3 104.7,464.7 105.9,535.2 107.1,540.2 108.2,543.3 109.4,537.3 110.6,536.7 111.8,539.2 113.0,540.4 114.2,540.8 115.4,543.6 116.6,534.4 117.7,543.5 118.9,544.4 120.1,536.7 121.3,530.8 122.5,539.6 123.7,540.3 124.9,532.9 126.1,540.1 127.2,540.1 128.4,542.4 129.6,543.5 130.8,542.8 132.0,528.7 133.2,540.3 134.4,503.6 135.6,537.2 136.7,540.2 137.9,527.3 139.1,542.1 140.3,527.0 141.5,534.3 142.7,542.5 143.9,526.7 145.1,509.5 146.2,526.3 147.4,523.1 148.6,537.6 149.8,533.9 151.0,534.2 152.2,515.3 153.4,538.0 154.6,516.6 155.7,537.5 156.9,521.1 158.1,530.5 159.3,495.9 160.5,542.1 161.7,540.1 162.9,542.0 164.1,529.0 165.2,470.6 166.4,524.8 167.6,526.6 168.8,492.0 170.0,536.9 171.2,495.9 172.4,468.9 173.6,439.2 174.7,434.0 175.9,421.6 177.1,425.4 178.3,422.6 179.5,438.0 180.7,445.2 181.9,426.4 183.1,430.0 184.2,422.2 185.4,421.0 186.6,428.4 187.8,415.2 189.0,432.2 190.2,443.4 191.4,425.7 192.6,436.7 193.7,431.2 194.9,439.7 196.1,438.2 197.3,426.7 198.5,435.8 199.7,426.5 200.9,419.4 202.1,415.6 203.2,414.0 204.4,419.2 205.6,377.0 206.8,428.6 208.0,408.6 209.2,425.1 210.4,429.3 211.6,399.5 212.7,427.1 213.9,439.1 215.1,457.9 216.3,455.4 217.5,480.6 218.7,481.5 219.9,455.9 221.1,460.9 222.2,466.2 223.4,479.4 224.6,491.4 225.8,468.4 227.0,496.2 228.2,483.5 229.4,475.4 230.6,491.6 231.7,474.2 232.9,477.9 234.1,469.6 235.3,469.9 236.5,468.3 237.7,467.9 238.9,466.1 240.1,495.1 241.2,491.3 242.4,487.5 243.6,469.7 244.8,459.4 246.0,453.0 247.2,484.7 248.4,476.5 249.6,510.1 250.7,505.3 251.9,511.0 253.1,472.3 254.3,478.7 255.5,505.4 256.7,502.6 257.9,519.0 259.1,537.2 260.2,539.1 261.4,535.1 262.6,492.0 263.8,537.6 265.0,534.6 266.2,537.6 267.4,519.2 268.6,539.9 269.7,521.5 270.9,520.7 272.1,543.5 273.3,529.8 274.5,505.6 275.7,537.1 276.9,542.1 278.1,537.3 279.2,525.0 280.4,538.9 281.6,542.5 282.8,516.9 284.0,541.1 285.2,532.8 286.4,536.6 287.6,543.9 288.7,543.7 289.9,542.8 291.1,542.5 292.3,535.5 293.5,534.3 294.7,534.7 295.9,543.6 297.1,537.4 298.2,525.0 299.4,534.9 300.6,543.2 301.8,542.9 303.0,525.8 304.2,534.2 305.4,528.9 306.6,521.9 307.7,543.5 308.9,532.0 310.1,543.8 311.3,539.1 312.5,528.2 313.7,537.6 314.9,542.5 316.1,540.2 317.2,535.1 318.4,534.8 319.6,544.2 320.8,544.5 322.0,528.9 323.2,542.5 324.4,541.8 325.6,535.1 326.7,541.4 327.9,535.6 329.1,541.4 330.3,541.3 331.5,536.3 332.7,541.0 333.9,537.1 335.1,541.4 336.2,530.8 337.4,542.0 338.6,543.2 339.8,543.2 341.0,536.6 342.2,542.2 343.4,536.4 344.6,542.8 345.7,544.4 346.9,536.6 348.1,543.4 349.3,543.6 350.5,528.3 351.7,530.8 352.9,535.2 354.1,538.6 355.2,527.0 356.4,541.0 357.6,541.4 358.8,544.4 360.0,544.4 361.2,531.6 362.4,539.3 363.6,527.9 364.7,544.3 365.9,544.9 367.1,532.8 368.3,543.2 369.5,537.0 370.7,544.9 371.9,544.0 373.1,540.7 374.2,530.6 375.4,543.6 376.6,539.0 377.8,540.4 379.0,534.3 380.2,543.4 381.4,541.5 382.6,541.6 383.7,542.9 384.9,537.0 386.1,544.2 387.3,539.4 388.5,525.0 389.7,533.6 390.9,535.2 392.1,541.7 393.2,538.1 394.4,532.8 395.6,544.0 396.8,544.3 398.0,544.0 399.2,543.7 400.4,542.7 401.6,543.2 402.7,545.1 403.9,544.4 405.1,542.6 406.3,519.7 407.5,521.1 408.7,541.0 409.9,536.9 411.1,535.6 412.2,530.8 413.4,540.8 414.6,543.8 415.8,539.1 417.0,543.2 418.2,540.2 419.4,540.8 420.6,541.9 421.7,528.9 422.9,538.3 424.1,541.8 425.3,541.1 426.5,542.8 427.7,541.3 428.9,534.9 430.1,537.0 431.2,542.0 432.4,540.3 433.6,538.8 434.8,540.6 436.0,543.2 437.2,542.9 438.4,539.9 439.6,540.5 440.7,530.6 441.9,542.7 443.1,540.7 444.3,523.1 445.5,538.8 446.7,543.0 447.9,543.5 449.1,542.8 450.2,539.7 451.4,525.0 452.6,533.3 453.8,539.5 455.0,543.7 456.2,541.5 457.4,521.1 458.6,524.7 459.7,537.4 460.9,543.0 462.1,519.2 463.3,539.4 464.5,527.2 465.7,535.5 466.9,529.3 468.1,543.8 469.2,539.5 470.4,541.1 471.6,538.9 472.8,542.4 474.0,530.9 475.2,532.8 476.4,542.8 477.6,540.2 478.7,538.0 479.9,540.1 481.1,525.3 482.3,534.5 483.5,538.3 484.7,534.8 485.9,541.9 487.1,532.8 488.2,499.1 489.4,538.6 490.6,530.7 491.8,536.7 493.0,531.0 494.2,539.3 495.4,540.7 496.6,543.0 497.7,543.8 498.9,543.5 500.1,514.2 501.3,538.3 502.5,523.1 503.7,522.1 504.9,528.8 506.1,543.7 507.2,533.2 508.4,526.4 509.6,534.0 510.8,515.3 512.0,540.0 513.2,537.6 514.4,529.3 515.6,525.0 516.7,542.5 517.9,535.7 519.1,541.1 520.3,525.8 521.5,539.9 522.7,538.4 523.9,511.4 525.1,394.8 526.2,492.3 527.4,484.2 528.6,482.7 529.8,475.2 531.0,412.3 532.2,473.4 533.4,484.2 534.6,457.1 535.7,414.2 536.9,500.8 538.1,514.6 539.3,492.0 540.5,532.8 541.7,534.6 542.9,519.1 544.1,507.5 545.2,537.5 546.4,540.9 547.6,517.8 548.8,524.1 550.0,366.6 551.2,522.9 552.4,536.9 553.6,537.2 554.7,540.2 555.9,523.1 557.1,530.9 558.3,532.7 559.5,525.9 560.7,541.1 561.9,529.4 563.1,499.7 564.2,536.8 565.4,527.0 566.6,531.1 567.8,531.4 569.0,533.8 570.2,469.6 571.4,534.3 572.6,537.3 573.7,542.3 574.9,539.6 576.1,538.9 577.3,525.0 578.5,537.4 579.7,515.1 580.9,530.8 582.1,533.7 583.2,515.7 584.4,531.9 585.6,527.0 586.8,537.8 588.0,524.4 589.2,539.6 590.4,541.9 591.6,532.2 592.7,540.2 593.9,513.3 595.1,537.2 596.3,531.7 597.5,529.9 598.7,539.5 599.9,534.4 601.1,511.4 602.2,538.8 603.4,540.2 604.6,541.0 605.8,541.9 607.0,543.7 608.2,538.2 609.4,513.3 610.6,524.1 611.7,541.2 612.9,502.8 614.1,540.7 615.3,540.6 616.5,509.5 617.7,530.7 618.9,538.2 620.1,537.2 621.2,532.3 622.4,527.0 623.6,532.5 624.8,541.5 626.0,541.3 627.2,533.7 628.4,522.6 629.6,511.4 630.7,538.1 631.9,537.4 633.1,530.5 634.3,517.2 635.5,538.4 636.7,539.7 637.9,537.9 639.1,488.1 640.2,538.4 641.4,538.8 642.6,503.6 643.8,527.3 645.0,507.5 646.2,527.2 647.4,513.8 648.6,532.8 649.7,509.5 650.9,520.4 652.1,534.6 653.3,541.3 654.5,534.8 655.7,522.6 656.9,523.1 658.1,536.6 659.2,529.9 660.4,528.0 661.6,540.0 662.8,511.4 664.0,521.1 665.2,519.1 666.4,538.9 667.6,527.0 668.7,520.3 669.9,521.6 671.1,534.1 672.3,524.2 673.5,537.3 674.7,515.6 675.9,528.9 677.1,541.6 678.2,538.6 679.4,509.3 680.6,534.3 681.8,538.3 683.0,530.8 684.2,541.8 685.4,541.6 686.6,540.2 687.7,539.5 688.9,535.6 690.1,524.4 691.3,519.4 692.5,519.2 693.7,537.2 694.9,541.4 696.1,540.9 697.2,539.6 698.4,501.7 699.6,537.2 700.8,541.6 702.0,535.1 703.2,523.1 704.4,517.6 705.6,529.6 706.7,527.4 707.9,534.1 709.1,503.6 710.3,536.0 711.5,542.1 712.7,532.8 713.9,525.0 715.1,538.6 716.2,534.3 717.4,523.1 718.6,537.3 719.8,535.1 719.8,535.4 718.6,537.6 717.4,523.4 716.2,534.6 715.1,538.9 713.9,525.3 712.7,533.1 711.5,542.4 710.3,536.3 709.1,503.9 707.9,534.4 706.7,527.7 705.6,529.8 704.4,517.9 703.2,523.4 702.0,535.4 700.8,541.9 699.6,537.5 698.4,502.0 697.2,539.9 696.1,541.2 694.9,541.7 693.7,537.5 692.5,519.5 691.3,519.7 690.1,524.6 688.9,535.9 687.7,539.8 686.6,540.5 685.4,541.9 684.2,542.1 683.0,531.1 681.8,538.6 680.6,534.6 679.4,509.6 678.2,538.9 677.1,541.8 675.9,529.2 674.7,515.9 673.5,537.6 672.3,524.5 671.1,534.4 669.9,521.9 668.7,520.6 667.6,527.2 666.4,539.2 665.2,519.4 664.0,521.4 662.8,511.7 661.6,540.3 660.4,528.3 659.2,530.2 658.1,536.9 656.9,523.4 655.7,522.9 654.5,535.1 653.3,541.6 652.1,534.9 650.9,520.7 649.7,509.8 648.6,533.1 647.4,514.1 646.2,527.5 645.0,507.8 643.8,527.6 642.6,503.9 641.4,539.1 640.2,538.7 639.1,488.4 637.9,538.2 636.7,540.0 635.5,538.7 634.3,517.5 633.1,530.8 631.9,537.7 630.7,538.4 629.6,511.7 628.4,522.9 627.2,534.0 626.0,541.6 624.8,541.8 623.6,532.8 622.4,527.2 621.2,532.6 620.1,537.5 618.9,538.5 617.7,531.0 616.5,509.8 615.3,540.9 614.1,541.0 612.9,503.1 611.7,541.5 610.6,524.4 609.4,513.6 608.2,538.5 607.0,544.0 605.8,542.2 604.6,541.2 603.4,540.4 602.2,539.1 601.1,511.7 599.9,534.6 598.7,539.8 597.5,530.2 596.3,532.0 595.1,537.5 593.9,513.6 592.7,540.4 591.6,532.5 590.4,542.2 589.2,539.9 588.0,524.7 586.8,538.1 585.6,527.2 584.4,532.2 583.2,516.0 582.1,534.0 580.9,531.1 579.7,515.4 578.5,537.6 577.3,525.3 576.1,539.2 574.9,539.9 573.7,542.5 572.6,537.6 571.4,534.6 570.2,469.9 569.0,534.1 567.8,531.7 566.6,531.4 565.4,527.2 564.2,537.1 563.1,500.0 561.9,529.7 560.7,541.4 559.5,526.2 558.3,533.0 557.1,531.2 555.9,523.4 554.7,540.5 553.6,537.5 552.4,537.2 551.2,523.2 550.0,366.9 548.8,524.4 547.6,518.1 546.4,541.1 545.2,537.8 544.1,507.8 542.9,519.3 541.7,534.9 540.5,533.1 539.3,492.3 538.1,514.9 536.9,501.1 535.7,414.5 534.6,457.4 533.4,484.5 532.2,473.7 531.0,412.6 529.8,475.5 528.6,483.0 527.4,484.5 526.2,492.6 525.1,395.1 523.9,511.7 522.7,538.7 521.5,540.1 520.3,526.1 519.1,541.4 517.9,536.0 516.7,542.8 515.6,525.3 514.4,529.5 513.2,537.9 512.0,540.3 510.8,515.6 509.6,534.3 508.4,526.7 507.2,533.5 506.1,544.0 504.9,529.1 503.7,522.4 502.5,523.4 501.3,538.5 500.1,514.4 498.9,543.8 497.7,544.1 496.6,543.3 495.4,541.0 494.2,539.6 493.0,531.3 491.8,537.0 490.6,530.9 489.4,538.9 488.2,499.4 487.1,533.1 485.9,542.2 484.7,535.0 483.5,538.6 482.3,534.8 481.1,525.6 479.9,540.4 478.7,538.3 477.6,540.5 476.4,543.1 475.2,533.1 474.0,531.1 472.8,542.7 471.6,539.2 470.4,541.4 469.2,539.8 468.1,544.1 466.9,529.6 465.7,535.8 464.5,527.5 463.3,539.7 462.1,519.5 460.9,543.3 459.7,537.7 458.6,525.0 457.4,521.4 456.2,541.8 455.0,544.0 453.8,539.8 452.6,533.6 451.4,525.3 450.2,540.0 449.1,543.0 447.9,543.8 446.7,543.2 445.5,539.1 444.3,523.4 443.1,541.0 441.9,543.0 440.7,530.9 439.6,540.7 438.4,540.2 437.2,543.2 436.0,543.5 434.8,540.9 433.6,539.1 432.4,540.6 431.2,542.3 430.1,537.3 428.9,535.2 427.7,541.6 426.5,543.1 425.3,541.3 424.1,542.1 422.9,538.6 421.7,529.2 420.6,542.2 419.4,541.1 418.2,540.5 417.0,543.5 415.8,539.4 414.6,544.1 413.4,541.0 412.2,531.1 411.1,535.9 409.9,537.2 408.7,541.3 407.5,521.4 406.3,520.0 405.1,542.9 403.9,544.7 402.7,545.4 401.6,543.5 400.4,543.0 399.2,544.0 398.0,544.3 396.8,544.6 395.6,544.3 394.4,533.1 393.2,538.4 392.1,542.0 390.9,535.5 389.7,533.9 388.5,525.3 387.3,539.7 386.1,544.5 384.9,537.3 383.7,543.2 382.6,541.9 381.4,541.8 380.2,543.7 379.0,534.6 377.8,540.7 376.6,539.3 375.4,543.9 374.2,530.9 373.1,541.0 371.9,544.3 370.7,545.2 369.5,537.3 368.3,543.5 367.1,533.1 365.9,545.2 364.7,544.6 363.6,528.2 362.4,539.6 361.2,531.9 360.0,544.7 358.8,544.7 357.6,541.7 356.4,541.3 355.2,527.2 354.1,538.9 352.9,535.4 351.7,531.1 350.5,528.6 349.3,543.9 348.1,543.6 346.9,536.9 345.7,544.7 344.6,543.1 343.4,536.6 342.2,542.5 341.0,536.9 339.8,543.5 338.6,543.4 337.4,542.3 336.2,531.1 335.1,541.7 333.9,537.4 332.7,541.3 331.5,536.6 330.3,541.6 329.1,541.7 327.9,535.9 326.7,541.7 325.6,535.4 324.4,542.1 323.2,542.8 322.0,529.2 320.8,544.8 319.6,544.5 318.4,535.1 317.2,535.4 316.1,540.5 314.9,542.8 313.7,537.9 312.5,528.5 311.3,539.4 310.1,544.1 308.9,532.3 307.7,543.7 306.6,522.2 305.4,529.2 304.2,534.5 303.0,526.1 301.8,543.2 300.6,543.5 299.4,535.2 298.2,525.3 297.1,537.7 295.9,543.9 294.7,535.0 293.5,534.6 292.3,535.8 291.1,542.8 289.9,543.1 288.7,544.0 287.6,544.2 286.4,536.9 285.2,533.1 284.0,541.4 282.8,517.2 281.6,542.7 280.4,539.2 279.2,525.3 278.1,537.6 276.9,542.4 275.7,537.4 274.5,505.9 273.3,530.1 272.1,543.8 270.9,521.0 269.7,521.8 268.6,540.2 267.4,519.5 266.2,537.9 265.0,534.9 263.8,537.9 262.6,492.3 261.4,535.3 260.2,539.4 259.1,537.5 257.9,519.3 256.7,502.8 255.5,505.7 254.3,479.0 253.1,472.6 251.9,511.3 250.7,505.6 249.6,510.4 248.4,476.8 247.2,485.0 246.0,453.3 244.8,459.7 243.6,470.0 242.4,487.7 241.2,491.6 240.1,495.4 238.9,466.3 237.7,468.2 236.5,468.6 235.3,470.2 234.1,469.9 232.9,478.2 231.7,474.5 230.6,491.9 229.4,475.7 228.2,483.8 227.0,496.5 225.8,468.7 224.6,491.7 223.4,479.7 222.2,466.5 221.1,461.2 219.9,456.2 218.7,481.8 217.5,480.9 216.3,455.6 215.1,458.2 213.9,439.4 212.7,427.4 211.6,399.8 210.4,429.6 209.2,425.4 208.0,408.9 206.8,428.9 205.6,377.2 204.4,419.4 203.2,414.3 202.1,415.9 200.9,419.6 199.7,426.8 198.5,436.1 197.3,427.0 196.1,438.5 194.9,440.0 193.7,431.5 192.6,437.0 191.4,426.0 190.2,443.7 189.0,432.5 187.8,415.5 186.6,428.6 185.4,421.2 184.2,422.5 183.1,430.3 181.9,426.7 180.7,445.5 179.5,438.3 178.3,422.9 177.1,425.7 175.9,421.9 174.7,434.3 173.6,439.5 172.4,469.2 171.2,496.2 170.0,537.2 168.8,492.3 167.6,526.9 166.4,525.0 165.2,470.9 164.1,529.3 162.9,542.3 161.7,540.4 160.5,542.4 159.3,496.2 158.1,530.8 156.9,521.4 155.7,537.8 154.6,516.9 153.4,538.3 152.2,515.6 151.0,534.5 149.8,534.2 148.6,537.9 147.4,523.4 146.2,526.6 145.1,509.8 143.9,527.0 142.7,542.8 141.5,534.6 140.3,527.2 139.1,542.4 137.9,527.6 136.7,540.5 135.6,537.5 134.4,503.9 133.2,540.6 132.0,529.0 130.8,543.1 129.6,543.8 128.4,542.7 127.2,540.4 126.1,540.4 124.9,533.1 123.7,540.6 122.5,539.9 121.3,531.1 120.1,537.0 118.9,544.7 117.7,543.8 116.6,534.7 115.4,543.9 114.2,541.1 113.0,540.7 111.8,539.5 110.6,537.0 109.4,537.6 108.2,543.6 107.1,540.5 105.9,535.5 104.7,465.0 103.5,536.6 102.3,544.3 101.1,544.6 99.9,524.8 98.7,478.6 97.6,533.6 96.4,539.3 95.2,540.5 94.0,544.2 92.8,541.0 91.6,539.2 90.4,544.3 89.2,542.4 88.1,542.4 86.9,528.1 85.7,538.9 84.5,521.4 83.3,540.1 82.1,523.4 80.9,537.0 79.7,524.4 78.6,541.7 77.4,543.0 76.2,540.0 75.0,536.8 73.8,540.8 72.6,544.6 71.4,539.2 70.2,544.0 69.1,534.4 67.9,532.4 66.7,529.6 65.5,478.6 64.3,536.3 63.1,539.6 61.9,532.0 60.7,522.8 59.6,541.9 58.4,540.4 57.2,509.0 56.0,540.3" fill="#FF780A" fill-opacity="0.4"/><polygon points="56.0,539.4 57.2,508.2 58.4,539.5 59.6,541.0 60.7,521.9 61.9,531.1 63.1,538.8 64.3,535.5 65.5,477.8 66.7,528.7 67.9,531.5 69.1,533.5 70.2,543.2 71.4,538.4 72.6,543.7 73.8,539.9 75.0,535.9 76.2,539.2 77.4,542.1 78.6,540.8 79.7,523.5 80.9,536.1 82.1,522.5 83.3,539.2 84.5,520.5 85.7,538.0 86.9,527.2 88.1,541.6 89.2,541.6 90.4,543.4 91.6,538.3 92.8,540.1 94.0,543.3 95.2,539.6 96.4,538.4 97.6,532.7 98.7,477.8 99.9,523.9 101.1,543.7 102.3,543.5 103.5,535.7 104.7,464.2 105.9,534.6 107.1,539.6 108.2,542.7 109.4,536.7 110.6,536.1 111.8,538.6 113.0,539.8 114.2,540.2 115.4,543.0 116.6,533.8 117.7,543.0 118.9,543.8 120.1,536.1 121.3,530.3 122.5,539.0 123.7,539.8 124.9,532.3 126.1,539.5 127.2,539.5 128.4,541.8 129.6,543.0 130.8,542.3 132.0,528.1 133.2,539.8 134.4,503.0 135.6,536.6 136.7,539.7 137.9,526.7 139.1,541.6 140.3,526.4 141.5,533.7 142.7,541.9 143.9,526.1 145.1,508.9 146.2,525.7 147.4,522.5 148.6,537.0 149.8,533.3 151.0,533.7 152.2,514.7 153.4,537.4 154.6,516.0 155.7,537.0 156.9,520.5 158.1,529.9 159.3,495.3 160.5,541.5 161.7,539.5 162.9,541.4 164.1,528.4 165.2,470.0 166.4,524.2 167.6,526.0 168.8,491.4 170.0,536.4 171.2,487.8 172.4,443.0 173.6,415.0 174.7,410.9 175.9,392.0 177.1,423.1 178.3,386.4 179.5,423.5 180.7,382.5 181.9,403.0 183.1,394.2 184.2,362.7 185.4,408.9 186.6,357.2 187.8,395.8 189.0,425.0 190.2,408.7 191.4,409.7 192.6,430.2 193.7,406.8 194.9,395.1 196.1,411.7 197.3,410.0 198.5,390.2 199.7,424.3 200.9,402.0 202.1,383.6 203.2,357.2 204.4,394.2 205.6,357.2 206.8,419.9 208.0,382.5 209.2,361.1 210.4,365.3 211.6,392.3 212.7,390.3 213.9,409.4 215.1,415.4 216.3,435.8 217.5,370.9 218.7,451.8 219.9,416.4 221.1,410.3 222.2,450.3 223.4,454.1 224.6,448.6 225.8,461.3 227.0,465.9 228.2,479.2 229.4,396.1 230.6,479.1 231.7,471.5 232.9,458.3 234.1,459.4 235.3,465.5 236.5,454.4 237.7,453.5 238.9,440.7 240.1,469.8 241.2,460.3 242.4,482.6 243.6,456.9 244.8,452.5 246.0,440.9 247.2,437.0 248.4,440.9 249.6,461.9 250.7,493.1 251.9,507.2 253.1,425.3 254.3,471.6 255.5,471.9 256.7,491.9 257.9,515.9 259.1,536.6 260.2,538.5 261.4,534.5 262.6,491.4 263.8,537.0 265.0,534.0 266.2,537.1 267.4,518.6 268.6,539.3 269.7,520.9 270.9,520.1 272.1,542.9 273.3,529.3 274.5,505.0 275.7,536.5 276.9,541.5 278.1,536.7 279.2,524.4 280.4,538.3 281.6,541.9 282.8,516.3 284.0,540.5 285.2,532.2 286.4,536.0 287.6,543.3 288.7,543.1 289.9,542.3 291.1,541.9 292.3,535.0 293.5,533.7 294.7,534.1 295.9,543.0 297.1,536.8 298.2,524.4 299.4,534.3 300.6,542.6 301.8,542.3 303.0,525.2 304.2,533.6 305.4,528.3 306.6,521.3 307.7,542.9 308.9,531.4 310.1,543.2 311.3,538.6 312.5,527.6 313.7,537.0 314.9,542.0 316.1,539.6 317.2,534.5 318.4,534.2 319.6,543.6 320.8,544.0 322.0,528.3 323.2,542.0 324.4,541.2 325.6,534.5 326.7,540.8 327.9,535.0 329.1,540.8 330.3,540.7 331.5,535.7 332.7,540.4 333.9,536.5 335.1,540.8 336.2,530.3 337.4,541.5 338.6,542.6 339.8,542.6 341.0,536.0 342.2,541.6 343.4,535.8 344.6,542.2 345.7,543.9 346.9,536.0 348.1,542.8 349.3,543.0 350.5,527.7 351.7,530.3 352.9,534.6 354.1,538.0 355.2,526.4 356.4,540.5 357.6,540.8 358.8,543.8 360.0,543.8 361.2,531.0 362.4,538.7 363.6,527.3 364.7,543.7 365.9,544.3 367.1,532.2 368.3,542.6 369.5,536.4 370.7,544.3 371.9,543.5 373.1,540.1 374.2,530.1 375.4,543.0 376.6,538.4 377.8,539.8 379.0,533.7 380.2,542.8 381.4,541.0 382.6,541.0 383.7,542.4 384.9,536.4 386.1,543.6 387.3,538.8 388.5,524.4 389.7,533.0 390.9,534.6 392.1,541.2 393.2,537.5 394.4,532.2 395.6,543.4 396.8,543.7 398.0,543.4 399.2,543.1 400.4,542.1 401.6,542.7 402.7,544.5 403.9,543.8 405.1,542.0 406.3,519.2 407.5,520.5 408.7,540.4 409.9,536.3 411.1,535.0 412.2,530.3 413.4,540.2 414.6,543.2 415.8,538.5 417.0,542.6 418.2,539.6 419.4,540.3 420.6,541.3 421.7,528.3 422.9,537.7 424.1,541.3 425.3,540.5 426.5,542.2 427.7,540.7 428.9,534.3 430.1,536.4 431.2,541.4 432.4,539.7 433.6,538.2 434.8,540.0 436.0,542.6 437.2,542.3 438.4,539.3 439.6,539.9 440.7,530.1 441.9,542.1 443.1,540.1 444.3,522.5 445.5,538.2 446.7,542.4 447.9,542.9 449.1,542.2 450.2,539.1 451.4,524.4 452.6,532.7 453.8,538.9 455.0,543.1 456.2,540.9 457.4,520.6 458.6,524.1 459.7,536.9 460.9,542.4 462.1,518.6 463.3,538.9 464.5,526.6 465.7,534.9 466.9,528.7 468.1,543.2 469.2,538.9 470.4,540.5 471.6,538.3 472.8,541.8 474.0,530.3 475.2,532.2 476.4,542.2 477.6,539.6 478.7,537.4 479.9,539.5 481.1,524.8 482.3,533.9 483.5,537.7 484.7,534.2 485.9,541.3 487.1,532.2 488.2,498.6 489.4,538.1 490.6,530.1 491.8,536.1 493.0,530.4 494.2,538.7 495.4,540.1 496.6,542.4 497.7,543.2 498.9,543.0 500.1,513.6 501.3,537.7 502.5,522.5 503.7,521.5 504.9,528.2 506.1,543.1 507.2,532.7 508.4,525.9 509.6,533.4 510.8,514.7 512.0,539.4 513.2,537.1 514.4,528.7 515.6,524.4 516.7,541.9 517.9,535.1 519.1,540.6 520.3,525.2 521.5,539.3 522.7,537.8 523.9,510.8 525.1,394.2 526.2,491.8 527.4,483.6 528.6,482.1 529.8,474.7 531.0,411.7 532.2,472.8 533.4,483.6 534.6,456.5 535.7,413.6 536.9,500.3 538.1,514.0 539.3,491.4 540.5,532.2 541.7,534.0 542.9,518.5 544.1,506.9 545.2,536.9 546.4,540.3 547.6,517.3 548.8,523.5 550.0,366.0 551.2,522.4 552.4,536.3 553.6,536.6 554.7,539.6 555.9,522.5 557.1,530.3 558.3,532.1 559.5,525.3 560.7,540.6 561.9,528.9 563.1,499.2 564.2,536.2 565.4,526.4 566.6,530.6 567.8,530.9 569.0,533.2 570.2,469.0 571.4,533.7 572.6,536.8 573.7,541.7 574.9,539.1 576.1,538.3 577.3,524.4 578.5,536.8 579.7,514.5 580.9,530.3 582.1,533.1 583.2,515.1 584.4,531.3 585.6,526.4 586.8,537.2 588.0,523.8 589.2,539.0 590.4,541.3 591.6,531.6 592.7,539.6 593.9,512.8 595.1,536.6 596.3,531.1 597.5,529.4 598.7,539.0 599.9,533.8 601.1,510.8 602.2,538.2 603.4,539.6 604.6,540.4 605.8,541.3 607.0,543.2 608.2,537.6 609.4,512.8 610.6,523.5 611.7,540.7 612.9,502.2 614.1,540.1 615.3,540.1 616.5,508.9 617.7,530.1 618.9,537.6 620.1,536.6 621.2,531.7 622.4,526.4 623.6,532.0 624.8,540.9 626.0,540.7 627.2,533.1 628.4,522.0 629.6,510.8 630.7,537.5 631.9,536.9 633.1,529.9 634.3,516.7 635.5,537.8 636.7,539.2 637.9,537.3 639.1,487.5 640.2,537.8 641.4,538.2 642.6,503.0 643.8,526.7 645.0,506.9 646.2,526.6 647.4,513.2 648.6,532.3 649.7,508.9 650.9,519.8 652.1,534.0 653.3,540.7 654.5,534.2 655.7,522.1 656.9,522.5 658.1,536.0 659.2,529.3 660.4,527.4 661.6,539.4 662.8,510.8 664.0,520.5 665.2,518.5 666.4,538.4 667.6,526.4 668.7,519.7 669.9,521.0 671.1,533.5 672.3,523.6 673.5,536.7 674.7,515.0 675.9,528.3 677.1,541.0 678.2,538.0 679.4,508.7 680.6,533.7 681.8,537.8 683.0,530.3 684.2,541.2 685.4,541.0 686.6,539.7 687.7,538.9 688.9,535.0 690.1,523.8 691.3,518.8 692.5,518.6 693.7,536.6 694.9,540.8 696.1,540.3 697.2,539.1 698.4,501.1 699.6,536.6 700.8,541.0 702.0,534.5 703.2,522.5 704.4,517.0 705.6,529.0 706.7,526.8 707.9,533.6 709.1,503.0 710.3,535.4 711.5,541.6 712.7,532.2 713.9,524.4 715.1,538.0 716.2,533.7 717.4,522.5 718.6,536.7 719.8,534.5 719.8,535.1 718.6,537.3 717.4,523.1 716.2,534.3 715.1,538.6 713.9,525.0 712.7,532.8 711.5,542.1 710.3,536.0 709.1,503.6 707.9,534.1 706.7,527.4 705.6,529.6 704.4,517.6 703.2,523.1 702.0,535.1 700.8,541.6 699.6,537.2 698.4,501.7 697.2,539.6 696.1,540.9 694.9,541.4 693.7,537.2 692.5,519.2 691.3,519.4 690.1,524.4 688.9,535.6 687.7,539.5 686.6,540.2 685.4,541.6 684.2,541.8 683.0,530.8 681.8,538.3 680.6,534.3 679.4,509.3 678.2,538.6 677.1,541.6 675.9,528.9 674.7,515.6 673.5,537.3 672.3,524.2 671.1,534.1 669.9,521.6 668.7,520.3 667.6,527.0 666.4,538.9 665.2,519.1 664.0,521.1 662.8,511.4 661.6,540.0 660.4,528.0 659.2,529.9 658.1,536.6 656.9,523.1 655.7,522.6 654.5,534.8 653.3,541.3 652.1,534.6 650.9,520.4 649.7,509.5 648.6,532.8 647.4,513.8 646.2,527.2 645.0,507.5 643.8,527.3 642.6,503.6 641.4,538.8 640.2,538.4 639.1,488.1 637.9,537.9 636.7,539.7 635.5,538.4 634.3,517.2 633.1,530.5 631.9,537.4 630.7,538.1 629.6,511.4 628.4,522.6 627.2,533.7 626.0,541.3 624.8,541.5 623.6,532.5 622.4,527.0 621.2,532.3 620.1,537.2 618.9,538.2 617.7,530.7 616.5,509.5 615.3,540.6 614.1,540.7 612.9,502.8 611.7,541.2 610.6,524.1 609.4,513.3 608.2,538.2 607.0,543.7 605.8,541.9 604.6,541.0 603.4,540.2 602.2,538.8 601.1,511.4 599.9,534.4 598.7,539.5 597.5,529.9 596.3,531.7 595.1,537.2 593.9,513.3 592.7,540.2 591.6,532.2 590.4,541.9 589.2,539.6 588.0,524.4 586.8,537.8 585.6,527.0 584.4,531.9 583.2,515.7 582.1,533.7 580.9,530.8 579.7,515.1 578.5,537.4 577.3,525.0 576.1,538.9 574.9,539.6 573.7,542.3 572.6,537.3 571.4,534.3 570.2,469.6 569.0,533.8 567.8,531.4 566.6,531.1 565.4,527.0 564.2,536.8 563.1,499.7 561.9,529.4 560.7,541.1 559.5,525.9 558.3,532.7 557.1,530.9 555.9,523.1 554.7,540.2 553.6,537.2 552.4,536.9 551.2,522.9 550.0,366.6 548.8,524.1 547.6,517.8 546.4,540.9 545.2,537.5 544.1,507.5 542.9,519.1 541.7,534.6 540.5,532.8 539.3,492.0 538.1,514.6 536.9,500.8 535.7,414.2 534.6,457.1 533.4,484.2 532.2,473.4 531.0,412.3 529.8,475.2 528.6,482.7 527.4,484.2 526.2,492.3 525.1,394.8 523.9,511.4 522.7,538.4 521.5,539.9 520.3,525.8 519.1,541.1 517.9,535.7 516.7,542.5 515.6,525.0 514.4,529.3 513.2,537.6 512.0,540.0 510.8,515.3 509.6,534.0 508.4,526.4 507.2,533.2 506.1,543.7 504.9,528.8 503.7,522.1 502.5,523.1 501.3,538.3 500.1,514.2 498.9,543.5 497.7,543.8 496.6,543.0 495.4,540.7 494.2,539.3 493.0,531.0 491.8,536.7 490.6,530.7 489.4,538.6 488.2,499.1 487.1,532.8 485.9,541.9 484.7,534.8 483.5,538.3 482.3,534.5 481.1,525.3 479.9,540.1 478.7,538.0 477.6,540.2 476.4,542.8 475.2,532.8 474.0,530.9 472.8,542.4 471.6,538.9 470.4,541.1 469.2,539.5 468.1,543.8 466.9,529.3 465.7,535.5 464.5,527.2 463.3,539.4 462.1,519.2 460.9,543.0 459.7,537.4 458.6,524.7 457.4,521.1 456.2,541.5 455.0,543.7 453.8,539.5 452.6,533.3 451.4,525.0 450.2,539.7 449.1,542.8 447.9,543.5 446.7,543.0 445.5,538.8 444.3,523.1 443.1,540.7 441.9,542.7 440.7,530.6 439.6,540.5 438.4,539.9 437.2,542.9 436.0,543.2 434.8,540.6 433.6,538.8 432.4,540.3 431.2,542.0 430.1,537.0 428.9,534.9 427.7,541.3 426.5,542.8 425.3,541.1 424.1,541.8 422.9,538.3 421.7,528.9 420.6,541.9 419.4,540.8 418.2,540.2 417.0,543.2 415.8,539.1 414.6,543.8 413.4,540.8 412.2,530.8 411.1,535.6 409.9,536.9 408.7,541.0 407.5,521.1 406.3,519.7 405.1,542.6 403.9,544.4 402.7,545.1 401.6,543.2 400.4,542.7 399.2,543.7 398.0,544.0 396.8,544.3 395.6,544.0 394.4,532.8 393.2,538.1 392.1,541.7 390.9,535.2 389.7,533.6 388.5,525.0 387.3,539.4 386.1,544.2 384.9,537.0 383.7,542.9 382.6,541.6 381.4,541.5 380.2,543.4 379.0,534.3 377.8,540.4 376.6,539.0 375.4,543.6 374.2,530.6 373.1,540.7 371.9,544.0 370.7,544.9 369.5,537.0 368.3,543.2 367.1,532.8 365.9,544.9 364.7,544.3 363.6,527.9 362.4,539.3 361.2,531.6 360.0,544.4 358.8,544.4 357.6,541.4 356.4,541.0 355.2,527.0 354.1,538.6 352.9,535.2 351.7,530.8 350.5,528.3 349.3,543.6 348.1,543.4 346.9,536.6 345.7,544.4 344.6,542.8 343.4,536.4 342.2,542.2 341.0,536.6 339.8,543.2 338.6,543.2 337.4,542.0 336.2,530.8 335.1,541.4 333.9,537.1 332.7,541.0 331.5,536.3 330.3,541.3 329.1,541.4 327.9,535.6 326.7,541.4 325.6,535.1 324.4,541.8 323.2,542.5 322.0,528.9 320.8,544.5 319.6,544.2 318.4,534.8 317.2,535.1 316.1,540.2 314.9,542.5 313.7,537.6 312.5,528.2 311.3,539.1 310.1,543.8 308.9,532.0 307.7,543.5 306.6,521.9 305.4,528.9 304.2,534.2 303.0,525.8 301.8,542.9 300.6,543.2 299.4,534.9 298.2,525.0 297.1,537.4 295.9,543.6 294.7,534.7 293.5,534.3 292.3,535.5 291.1,542.5 289.9,542.8 288.7,543.7 287.6,543.9 286.4,536.6 285.2,532.8 284.0,541.1 282.8,516.9 281.6,542.5 280.4,538.9 279.2,525.0 278.1,537.3 276.9,542.1 275.7,537.1 274.5,505.6 273.3,529.8 272.1,543.5 270.9,520.7 269.7,521.5 268.6,539.9 267.4,519.2 266.2,537.6 265.0,534.6 263.8,537.6 262.6,492.0 261.4,535.1 260.2,539.1 259.1,537.2 257.9,519.0 256.7,502.6 255.5,505.4 254.3,478.7 253.1,472.3 251.9,511.0 250.7,505.3 249.6,510.1 248.4,476.5 247.2,484.7 246.0,453.0 244.8,459.4 243.6,469.7 242.4,487.5 241.2,491.3 240.1,495.1 238.9,466.1 237.7,467.9 236.5,468.3 235.3,469.9 234.1,469.6 232.9,477.9 231.7,474.2 230.6,491.6 229.4,475.4 228.2,483.5 227.0,496.2 225.8,468.4 224.6,491.4 223.4,479.4 222.2,466.2 221.1,460.9 219.9,455.9 218.7,481.5 217.5,480.6 216.3,455.4 215.1,457.9 213.9,439.1 212.7,427.1 211.6,399.5 210.4,429.3 209.2,425.1 208.0,408.6 206.8,428.6 205.6,377.0 204.4,419.2 203.2,414.0 202.1,415.6 200.9,419.4 199.7,426.5 198.5,435.8 197.3,426.7 196.1,438.2 194.9,439.7 193.7,431.2 192.6,436.7 191.4,425.7 190.2,443.4 189.0,432.2 187.8,415.2 186.6,428.4 185.4,421.0 184.2,422.2 183.1,430.0 181.9,426.4 180.7,445.2 179.5,438.0 178.3,422.6 177.1,425.4 175.9,421.6 174.7,434.0 173.6,439.2 172.4,468.9 171.2,495.9 170.0,536.9 168.8,492.0 167.6,526.6 166.4,524.8 165.2,470.6 164.1,529.0 162.9,542.0 161.7,540.1 160.5,542.1 159.3,495.9 158.1,530.5 156.9,521.1 155.7,537.5 154.6,516.6 153.4,538.0 152.2,515.3 151.0,534.2 149.8,533.9 148.6,537.6 147.4,523.1 146.2,526.3 145.1,509.5 143.9,526.7 142.7,542.5 141.5,534.3 140.3,527.0 139.1,542.1 137.9,527.3 136.7,540.2 135.6,537.2 134.4,503.6 133.2,540.3 132.0,528.7 130.8,542.8 129.6,543.5 128.4,542.4 127.2,540.1 126.1,540.1 124.9,532.9 123.7,540.3 122.5,539.6 121.3,530.8 120.1,536.7 118.9,544.4 117.7,543.5 116.6,534.4 115.4,543.6 114.2,540.8 113.0,540.4 111.8,539.2 110.6,536.7 109.4,537.3 108.2,543.3 107.1,540.2 105.9,535.2 104.7,464.7 103.5,536.3 102.3,544.0 101.1,544.3 99.9,524.5 98.7,478.4 97.6,533.3 96.4,539.0 95.2,540.2 94.0,543.9 92.8,540.7 91.6,538.9 90.4,544.0 89.2,542.2 88.1,542.1 86.9,527.8 85.7,538.6 84.5,521.1 83.3,539.8 82.1,523.1 80.9,536.7 79.7,524.1 78.6,541.4 77.4,542.7 76.2,539.8 75.0,536.5 73.8,540.5 72.6,544.3 71.4,538.9 70.2,543.7 69.1,534.1 67.9,532.1 66.7,529.3 65.5,478.4 64.3,536.0 63.1,539.3 61.9,531.7 60.7,522.5 59.6,541.6 58.4,540.1 57.2,508.8 56.0,540.0" fill="#6D1F62" fill-opacity="0.4"/><polygon points="56.0,355.3 57.2,355.3 58.4,355.3 59.6,355.3 60.7,355.3 61.9,355.3 63.1,355.3 64.3,355.3 65.5,355.3 66.7,355.3 67.9,355.3 69.1,355.3 70.2,355.3 71.4,355.3 72.6,355.3 73.8,355.3 75.0,355.3 76.2,355.3 77.4,355.3 78.6,355.3 79.7,355.3 80.9,355.3 82.1,355.3 83.3,355.3 84.5,355.3 85.7,355.3 86.9,355.3 88.1,355.3 89.2,355.3 90.4,355.3 91.6,355.3 92.8,355.3 94.0,355.3 95.2,355.3 96.4,355.3 97.6,355.3 98.7,355.3 99.9,355.3 101.1,355.3 102.3,355.3 103.5,355.3 104.7,355.3 105.9,355.3 107.1,355.3 108.2,355.3 109.4,355.3 110.6,355.3 111.8,355.3 113.0,355.3 114.2,355.3 115.4,355.3 116.6,355.3 117.7,355.3 118.9,355.3 120.1,355.3 121.3,355.3 122.5,355.3 123.7,355.3 124.9,355.3 126.1,355.3 127.2,355.3 128.4,355.3 129.6,355.3 130.8,355.3 132.0,355.3 133.2,355.3 134.4,355.3 135.6,355.3 136.7,355.3 137.9,355.3 139.1,355.3 140.3,355.3 141.5,355.3 142.7,355.3 143.9,355.3 145.1,355.3 146.2,355.3 147.4,355.3 148.6,355.3 149.8,355.3 151.0,355.3 152.2,355.3 153.4,355.3 154.6,355.3 155.7,355.3 156.9,355.3 158.1,355.3 159.3,355.3 160.5,355.3 161.7,355.3 162.9,355.3 164.1,355.3 165.2,355.3 166.4,355.3 167.6,355.3 168.8,355.3 170.0,355.3 171.2,355.3 172.4,355.3 173.6,355.3 174.7,355.3 175.9,355.3 177.1,355.3 178.3,355.3 179.5,355.3 180.7,355.3 181.9,355.3 183.1,355.3 184.2,355.3 185.4,355.3 186.6,355.3 187.8,355.3 189.0,355.3 190.2,355.3 191.4,355.3 192.6,355.3 193.7,355.3 194.9,355.3 196.1,355.3 197.3,355.3 198.5,355.3 199.7,355.3 200.9,355.3 202.1,355.3 203.2,355.3 204.4,355.3 205.6,355.3 206.8,355.3 208.0,355.3 209.2,355.3 210.4,355.3 211.6,355.3 212.7,355.3 213.9,355.3 215.1,355.3 216.3,355.3 217.5,355.3 218.7,355.3 219.9,355.3 221.1,355.3 222.2,355.3 223.4,355.3 224.6,355.3 225.8,355.3 227.0,355.3 228.2,355.3 229.4,355.3 230.6,355.3 231.7,355.3 232.9,355.3 234.1,355.3 235.3,355.3 236.5,355.3 237.7,355.3 238.9,355.3 240.1,355.3 241.2,355.3 242.4,355.3 243.6,355.3 244.8,355.3 246.0,355.3 247.2,355.3 248.4,355.3 249.6,355.3 250.7,355.3 251.9,355.3 253.1,355.3 254.3,355.3 255.5,355.3 256.7,355.3 257.9,355.3 259.1,355.3 260.2,355.3 261.4,355.3 262.6,355.3 263.8,355.3 265.0,355.3 266.2,355.3 267.4,355.3 268.6,355.3 269.7,355.3 270.9,355.3 272.1,355.3 273.3,355.3 274.5,355.3 275.7,355.3 276.9,355.3 278.1,355.3 279.2,355.3 280.4,355.3 281.6,355.3 282.8,355.3 284.0,355.3 285.2,355.3 286.4,355.3 287.6,355.3 288.7,355.3 289.9,355.3 291.1,355.3 292.3,355.3 293.5,355.3 294.7,355.3 295.9,355.3 297.1,355.3 298.2,355.3 299.4,355.3 300.6,355.3 301.8,355.3 303.0,355.3 304.2,355.3 305.4,355.3 306.6,355.3 307.7,355.3 308.9,355.3 310.1,355.3 311.3,355.3 312.5,355.3 313.7,355.3 314.9,355.3 316.1,355.3 317.2,355.3 318.4,355.3 319.6,355.3 320.8,355.3 322.0,355.3 323.2,355.3 324.4,355.3 325.6,355.3 326.7,355.3 327.9,355.3 329.1,355.3 330.3,355.3 331.5,355.3 332.7,355.3 333.9,355.3 335.1,355.3 336.2,355.3 337.4,355.3 338.6,355.3 339.8,355.3 341.0,355.3 342.2,355.3 343.4,355.3 344.6,355.3 345.7,355.3 346.9,355.3 348.1,355.3 349.3,355.3 350.5,355.3 351.7,355.3 352.9,355.3 354.1,355.3 355.2,355.3 356.4,355.3 357.6,355.3 358.8,355.3 360.0,355.3 361.2,355.3 362.4,355.3 363.6,355.3 364.7,355.3 365.9,355.3 367.1,355.3 368.3,355.3 369.5,355.3 370.7,355.3 371.9,355.3 373.1,355.3 374.2,355.3 375.4,355.3 376.6,355.3 377.8,355.3 379.0,355.3 380.2,355.3 381.4,355.3 382.6,355.3 383.7,355.3 384.9,355.3 386.1,355.3 387.3,355.3 388.5,355.3 389.7,355.3 390.9,355.3 392.1,355.3 393.2,355.3 394.4,355.3 395.6,355.3 396.8,355.3 398.0,355.3 399.2,355.3 400.4,355.3 401.6,355.3 402.7,355.3 403.9,355.3 405.1,355.3 406.3,355.3 407.5,355.3 408.7,355.3 409.9,355.3 411.1,355.3 412.2,355.3 413.4,355.3 414.6,355.3 415.8,355.3 417.0,355.3 418.2,355.3 419.4,355.3 420.6,355.3 421.7,355.3 422.9,355.3 424.1,355.3 425.3,355.3 426.5,355.3 427.7,355.3 428.9,355.3 430.1,355.3 431.2,355.3 432.4,355.3 433.6,355.3 434.8,355.3 436.0,355.3 437.2,355.3 438.4,355.3 439.6,355.3 440.7,355.3 441.9,355.3 443.1,355.3 444.3,355.3 445.5,355.3 446.7,355.3 447.9,355.3 449.1,355.3 450.2,355.3 451.4,355.3 452.6,355.3 453.8,355.3 455.0,355.3 456.2,355.3 457.4,355.3 458.6,355.3 459.7,355.3 460.9,355.3 462.1,355.3 463.3,355.3 464.5,355.3 465.7,355.3 466.9,355.3 468.1,355.3 469.2,355.3 470.4,355.3 471.6,355.3 472.8,355.3 474.0,355.3 475.2,355.3 476.4,355.3 477.6,355.3 478.7,355.3 479.9,355.3 481.1,355.3 482.3,355.3 483.5,355.3 484.7,355.3 485.9,355.3 487.1,355.3 488.2,355.3 489.4,355.3 490.6,355.3 491.8,355.3 493.0,355.3 494.2,355.3 495.4,355.3 496.6,355.3 497.7,355.3 498.9,355.3 500.1,355.3 501.3,355.3 502.5,355.3 503.7,355.3 504.9,355.3 506.1,355.3 507.2,355.3 508.4,355.3 509.6,355.3 510.8,355.3 512.0,355.3 513.2,355.3 514.4,355.3 515.6,355.3 516.7,355.3 517.9,355.3 519.1,355.3 520.3,355.3 521.5,355.3 522.7,355.3 523.9,355.3 525.1,355.3 526.2,355.3 527.4,355.3 528.6,355.3 529.8,355.3 531.0,355.3 532.2,355.3 533.4,355.3 534.6,355.3 535.7,355.3 536.9,355.3 538.1,355.3 539.3,355.3 540.5,355.3 541.7,355.3 542.9,355.3 544.1,355.3 545.2,355.3 546.4,355.3 547.6,355.3 548.8,355.3 550.0,355.3 551.2,355.3 552.4,355.3 553.6,355.3 554.7,355.3 555.9,355.3 557.1,355.3 558.3,355.3 559.5,355.3 560.7,355.3 561.9,355.3 563.1,355.3 564.2,355.3 565.4,355.3 566.6,355.3 567.8,355.3 569.0,355.3 570.2,355.3 571.4,355.3 572.6,355.3 573.7,355.3 574.9,355.3 576.1,355.3 577.3,355.3 578.5,355.3 579.7,355.3 580.9,355.3 582.1,355.3 583.2,355.3 584.4,355.3 585.6,355.3 586.8,355.3 588.0,355.3 589.2,355.3 590.4,355.3 591.6,355.3 592.7,355.3 593.9,355.3 595.1,355.3 596.3,355.3 597.5,355.3 598.7,355.3 599.9,355.3 601.1,355.3 602.2,355.3 603.4,355.3 604.6,355.3 605.8,355.3 607.0,355.3 608.2,355.3 609.4,355.3 610.6,355.3 611.7,355.3 612.9,355.3 614.1,355.3 615.3,355.3 616.5,355.3 617.7,355.3 618.9,355.3 620.1,355.3 621.2,355.3 622.4,355.3 623.6,355.3 624.8,355.3 626.0,355.3 627.2,355.3 628.4,355.3 629.6,355.3 630.7,355.3 631.9,355.3 633.1,355.3 634.3,355.3 635.5,355.3 636.7,355.3 637.9,355.3 639.1,355.3 640.2,355.3 641.4,355.3 642.6,355.3 643.8,355.3 645.0,355.3 646.2,355.3 647.4,355.3 648.6,355.3 649.7,355.3 650.9,355.3 652.1,355.3 653.3,355.3 654.5,355.3 655.7,355.3 656.9,355.3 658.1,355.3 659.2,355.3 660.4,355.3 661.6,355.3 662.8,355.3 664.0,355.3 665.2,355.3 666.4,355.3 667.6,355.3 668.7,355.3 669.9,355.3 671.1,355.3 672.3,355.3 673.5,355.3 674.7,355.3 675.9,355.3 677.1,355.3 678.2,355.3 679.4,355.3 680.6,355.3 681.8,355.3 683.0,355.3 684.2,355.3 685.4,355.3 686.6,355.3 687.7,355.3 688.9,355.3 690.1,355.3 691.3,355.3 692.5,355.3 693.7,355.3 694.9,355.3 696.1,355.3 697.2,355.3 698.4,355.3 699.6,355.3 700.8,355.3 702.0,355.3 703.2,355.3 704.4,355.3 705.6,355.3 706.7,355.3 707.9,355.3 709.1,355.3 710.3,355.3 711.5,355.3 712.7,355.3 713.9,355.3 715.1,355.3 716.2,355.3 717.4,355.3 718.6,355.3 719.8,355.3 719.8,534.5 718.6,536.7 717.4,522.5 716.2,533.7 715.1,538.0 713.9,524.4 712.7,532.2 711.5,541.6 710.3,535.4 709.1,503.0 707.9,533.6 706.7,526.8 705.6,529.0 704.4,517.0 703.2,522.5 702.0,534.5 700.8,541.0 699.6,536.6 698.4,501.1 697.2,539.1 696.1,540.3 694.9,540.8 693.7,536.6 692.5,518.6 691.3,518.8 690.1,523.8 688.9,535.0 687.7,538.9 686.6,539.7 685.4,541.0 684.2,541.2 683.0,530.3 681.8,537.8 680.6,533.7 679.4,508.7 678.2,538.0 677.1,541.0 675.9,528.3 674.7,515.0 673.5,536.7 672.3,523.6 671.1,533.5 669.9,521.0 668.7,519.7 667.6,526.4 666.4,538.4 665.2,518.5 664.0,520.5 662.8,510.8 661.6,539.4 660.4,527.4 659.2,529.3 658.1,536.0 656.9,522.5 655.7,522.1 654.5,534.2 653.3,540.7 652.1,534.0 650.9,519.8 649.7,508.9 648.6,532.3 647.4,513.2 646.2,526.6 645.0,506.9 643.8,526.7 642.6,503.0 641.4,538.2 640.2,537.8 639.1,487.5 637.9,537.3 636.7,539.2 635.5,537.8 634.3,516.7 633.1,529.9 631.9,536.9 630.7,537.5 629.6,510.8 628.4,522.0 627.2,533.1 626.0,540.7 624.8,540.9 623.6,532.0 622.4,526.4 621.2,531.7 620.1,536.6 618.9,537.6 617.7,530.1 616.5,508.9 615.3,540.1 614.1,540.1 612.9,502.2 611.7,540.7 610.6,523.5 609.4,512.8 608.2,537.6 607.0,543.2 605.8,541.3 604.6,540.4 603.4,539.6 602.2,538.2 601.1,510.8 599.9,533.8 598.7,539.0 597.5,529.4 596.3,531.1 595.1,536.6 593.9,512.8 592.7,539.6 591.6,531.6 590.4,541.3 589.2,539.0 588.0,523.8 586.8,537.2 585.6,526.4 584.4,531.3 583.2,515.1 582.1,533.1 580.9,530.3 579.7,514.5 578.5,536.8 577.3,524.4 576.1,538.3 574.9,539.1 573.7,541.7 572.6,536.8 571.4,533.7 570.2,469.0 569.0,533.2 567.8,530.9 566.6,530.6 565.4,526.4 564.2,536.2 563.1,499.2 561.9,528.9 560.7,540.6 559.5,525.3 558.3,532.1 557.1,530.3 555.9,522.5 554.7,539.6 553.6,536.6 552.4,536.3 551.2,522.4 550.0,366.0 548.8,523.5 547.6,517.3 546.4,540.3 545.2,536.9 544.1,506.9 542.9,518.5 541.7,534.0 540.5,532.2 539.3,491.4 538.1,514.0 536.9,500.3 535.7,413.6 534.6,456.5 533.4,483.6 532.2,472.8 531.0,411.7 529.8,474.7 528.6,482.1 527.4,483.6 526.2,491.8 525.1,394.2 523.9,510.8 522.7,537.8 521.5,539.3 520.3,525.2 519.1,540.6 517.9,535.1 516.7,541.9 515.6,524.4 514.4,528.7 513.2,537.1 512.0,539.4 510.8,514.7 509.6,533.4 508.4,525.9 507.2,532.7 506.1,543.1 504.9,528.2 503.7,521.5 502.5,522.5 501.3,537.7 500.1,513.6 498.9,543.0 497.7,543.2 496.6,542.4 495.4,540.1 494.2,538.7 493.0,530.4 491.8,536.1 490.6,530.1 489.4,538.1 488.2,498.6 487.1,532.2 485.9,541.3 484.7,534.2 483.5,537.7 482.3,533.9 481.1,524.8 479.9,539.5 478.7,537.4 477.6,539.6 476.4,542.2 475.2,532.2 474.0,530.3 472.8,541.8 471.6,538.3 470.4,540.5 469.2,538.9 468.1,543.2 466.9,528.7 465.7,534.9 464.5,526.6 463.3,538.9 462.1,518.6 460.9,542.4 459.7,536.9 458.6,524.1 457.4,520.6 456.2,540.9 455.0,543.1 453.8,538.9 452.6,532.7 451.4,524.4 450.2,539.1 449.1,542.2 447.9,542.9 446.7,542.4 445.5,538.2 444.3,522.5 443.1,540.1 441.9,542.1 440.7,530.1 439.6,539.9 438.4,539.3 437.2,542.3 436.0,542.6 434.8,540.0 433.6,538.2 432.4,539.7 431.2,541.4 430.1,536.4 428.9,534.3 427.7,540.7 426.5,542.2 425.3,540.5 424.1,541.3 422.9,537.7 421.7,528.3 420.6,541.3 419.4,540.3 418.2,539.6 417.0,542.6 415.8,538.5 414.6,543.2 413.4,540.2 412.2,530.3 411.1,535.0 409.9,536.3 408.7,540.4 407.5,520.5 406.3,519.2 405.1,542.0 403.9,543.8 402.7,544.5 401.6,542.7 400.4,542.1 399.2,543.1 398.0,543.4 396.8,543.7 395.6,543.4 394.4,532.2 393.2,537.5 392.1,541.2 390.9,534.6 389.7,533.0 388.5,524.4 387.3,538.8 386.1,543.6 384.9,536.4 383.7,542.4 382.6,541.0 381.4,541.0 380.2,542.8 379.0,533.7 377.8,539.8 376.6,538.4 375.4,543.0 374.2,530.1 373.1,540.1 371.9,543.5 370.7,544.3 369.5,536.4 368.3,542.6 367.1,532.2 365.9,544.3 364.7,543.7 363.6,527.3 362.4,538.7 361.2,531.0 360.0,543.8 358.8,543.8 357.6,540.8 356.4,540.5 355.2,526.4 354.1,538.0 352.9,534.6 351.7,530.3 350.5,527.7 349.3,543.0 348.1,542.8 346.9,536.0 345.7,543.9 344.6,542.2 343.4,535.8 342.2,541.6 341.0,536.0 339.8,542.6 338.6,542.6 337.4,541.5 336.2,530.3 335.1,540.8 333.9,536.5 332.7,540.4 331.5,535.7 330.3,540.7 329.1,540.8 327.9,535.0 326.7,540.8 325.6,534.5 324.4,541.2 323.2,542.0 322.0,528.3 320.8,544.0 319.6,543.6 318.4,534.2 317.2,534.5 316.1,539.6 314.9,542.0 313.7,537.0 312.5,527.6 311.3,538.6 310.1,543.2 308.9,531.4 307.7,542.9 306.6,521.3 305.4,528.3 304.2,533.6 303.0,525.2 301.8,542.3 300.6,542.6 299.4,534.3 298.2,524.4 297.1,536.8 295.9,543.0 294.7,534.1 293.5,533.7 292.3,535.0 291.1,541.9 289.9,542.3 288.7,543.1 287.6,543.3 286.4,536.0 285.2,532.2 284.0,540.5 282.8,516.3 281.6,541.9 280.4,538.3 279.2,524.4 278.1,536.7 276.9,541.5 275.7,536.5 274.5,505.0 273.3,529.3 272.1,542.9 270.9,520.1 269.7,520.9 268.6,539.3 267.4,518.6 266.2,537.1 265.0,534.0 263.8,537.0 262.6,491.4 261.4,534.5 260.2,538.5 259.1,536.6 257.9,515.9 256.7,491.9 255.5,471.9 254.3,471.6 253.1,425.3 251.9,507.2 250.7,493.1 249.6,461.9 248.4,440.9 247.2,437.0 246.0,440.9 244.8,452.5 243.6,456.9 242.4,482.6 241.2,460.3 240.1,469.8 238.9,440.7 237.7,453.5 236.5,454.4 235.3,465.5 234.1,459.4 232.9,458.3 231.7,471.5 230.6,479.1 229.4,396.1 228.2,479.2 227.0,465.9 225.8,461.3 224.6,448.6 223.4,454.1 222.2,450.3 221.1,410.3 219.9,416.4 218.7,451.8 217.5,370.9 216.3,435.8 215.1,415.4 213.9,409.4 212.7,390.3 211.6,392.3 210.4,365.3 209.2,361.1 208.0,382.5 206.8,419.9 205.6,357.2 204.4,394.2 203.2,357.2 202.1,383.6 200.9,402.0 199.7,424.3 198.5,390.2 197.3,410.0 196.1,411.7 194.9,395.1 193.7,406.8 192.6,430.2 191.4,409.7 190.2,408.7 189.0,425.0 187.8,395.8 186.6,357.2 185.4,408.9 184.2,362.7 183.1,394.2 181.9,403.0 180.7,382.5 179.5,423.5 178.3,386.4 177.1,423.1 175.9,392.0 174.7,410.9 173.6,415.0 172.4,443.0 171.2,487.8 170.0,536.4 168.8,491.4 167.6,526.0 166.4,524.2 165.2,470.0 164.1,528.4 162.9,541.4 161.7,539.5 160.5,541.5 159.3,495.3 158.1,529.9 156.9,520.5 155.7,537.0 154.6,516.0 153.4,537.4 152.2,514.7 151.0,533.7 149.8,533.3 148.6,537.0 147.4,522.5 146.2,525.7 145.1,508.9 143.9,526.1 142.7,541.9 141.5,533.7 140.3,526.4 139.1,541.6 137.9,526.7 136.7,539.7 135.6,536.6 134.4,503.0 133.2,539.8 132.0,528.1 130.8,542.3 129.6,543.0 128.4,541.8 127.2,539.5 126.1,539.5 124.9,532.3 123.7,539.8 122.5,539.0 121.3,530.3 120.1,536.1 118.9,543.8 117.7,543.0 116.6,533.8 115.4,543.0 114.2,540.2 113.0,539.8 111.8,538.6 110.6,536.1 109.4,536.7 108.2,542.7 107.1,539.6 105.9,534.6 104.7,464.2 103.5,535.7 102.3,543.5 101.1,543.7 99.9,523.9 98.7,477.8 97.6,532.7 96.4,538.4 95.2,539.6 94.0,543.3 92.8,540.1 91.6,538.3 90.4,543.4 89.2,541.6 88.1,541.6 86.9,527.2 85.7,538.0 84.5,520.5 83.3,539.2 82.1,522.5 80.9,536.1 79.7,523.5 78.6,540.8 77.4,542.1 76.2,539.2 75.0,535.9 73.8,539.9 72.6,543.7 71.4,538.4 70.2,543.2 69.1,533.5 67.9,531.5 66.7,528.7 65.5,477.8 64.3,535.5 63.1,538.8 61.9,531.1 60.7,521.9 59.6,541.0 58.4,539.5 57.2,508.2 56.0,539.4" fill="#7EB26D" fill-opacity="0.4"/><polyline points="56.0,546.1 57.2,544.3 58.4,544.5 59.6,545.2 60.7,534.4 61.9,543.5 63.1,543.6 64.3,545.2 65.5,545.1 66.7,545.0 67.9,541.4 69.1,545.7 70.2,546.0 71.4,546.5 72.6,546.5 73.8,543.5 75.0,545.4 76.2,545.6 77.4,544.9 78.6,545.5 79.7,545.6 80.9,544.7 82.1,545.2 83.3,546.7 84.5,544.1 85.7,544.3 86.9,544.3 88.1,544.7 89.2,544.7 90.4,546.0 91.6,546.5 92.8,546.1 94.0,545.8 95.2,545.2 96.4,545.1 97.6,544.7 98.7,545.1 99.9,545.0 101.1,545.4 102.3,546.1 103.5,546.0 104.7,546.7 105.9,545.3 107.1,545.0 108.2,545.8 109.4,543.9 110.6,544.3 111.8,544.9 113.0,544.9 114.2,546.2 115.4,546.2 116.6,546.0 117.7,545.8 118.9,546.2 120.1,540.4 121.3,544.9 122.5,542.8 123.7,544.0 124.9,544.9 126.1,545.0 127.2,545.6 128.4,545.3 129.6,545.5 130.8,545.3 132.0,545.7 133.2,546.4 134.4,545.6 135.6,544.4 136.7,543.9 137.9,543.5 139.1,545.0 140.3,546.0 141.5,537.6 142.7,545.5 143.9,540.8 145.1,545.9 146.2,544.8 147.4,545.3 148.6,545.2 149.8,540.6 151.0,542.9 152.2,544.7 153.4,544.8 154.6,543.8 155.7,545.0 156.9,544.3 158.1,544.7 159.3,544.6 160.5,545.0 161.7,545.3 162.9,545.1 164.1,544.5 165.2,544.1 166.4,542.7 167.6,545.9 168.8,545.9 170.0,546.0 171.2,545.6 172.4,545.2 173.6,543.5 174.7,543.2 175.9,545.5 177.1,545.1 178.3,544.3 179.5,544.3 180.7,545.0 181.9,541.9 183.1,544.2 184.2,545.2 185.4,544.2 186.6,507.0 187.8,545.8 189.0,545.5 190.2,545.1 191.4,545.5 192.6,546.3 193.7,545.3 194.9,544.7 196.1,545.5 197.3,545.3 198.5,545.4 199.7,543.6 200.9,545.5 202.1,546.0 203.2,544.8 204.4,544.8 205.6,527.2 206.8,543.7 208.0,543.9 209.2,544.1 210.4,545.4 211.6,537.8 212.7,540.1 213.9,543.7 215.1,543.6 216.3,545.5 217.5,545.6 218.7,544.7 219.9,545.6 221.1,545.9 222.2,545.1 223.4,544.9 224.6,544.0 225.8,544.2 227.0,545.6 228.2,544.5 229.4,544.1 230.6,545.8 231.7,546.0 232.9,546.3 234.1,546.3 235.3,545.8 236.5,539.5 237.7,545.0 238.9,545.6 240.1,546.1 241.2,546.2 242.4,545.7 243.6,543.6 244.8,543.8 246.0,542.8 247.2,545.8 248.4,544.8 249.6,545.1 250.7,546.2 251.9,545.9 253.1,544.8 254.3,544.5 255.5,545.0 256.7,544.8 257.9,544.0 259.1,543.0 260.2,545.7 261.4,545.3 262.6,544.2 263.8,544.4 265.0,545.3 266.2,544.4 267.4,545.0 268.6,546.2 269.7,545.5 270.9,539.9 272.1,546.3 273.3,545.5 274.5,545.0 275.7,544.8 276.9,545.3 278.1,544.3 279.2,543.3 280.4,545.1 281.6,545.8 282.8,545.1 284.0,545.5 285.2,544.6 286.4,544.0 287.6,545.1 288.7,545.2 289.9,545.2 291.1,545.3 292.3,545.1 293.5,545.7 294.7,546.2 295.9,545.9 297.1,544.6 298.2,543.7 299.4,544.9 300.6,546.0 301.8,545.9 303.0,545.8 304.2,545.7 305.4,546.2 306.6,546.3 307.7,545.3 308.9,545.6 310.1,546.2 311.3,544.9 312.5,545.2 313.7,546.7 314.9,545.7 316.1,545.4 317.2,541.1 318.4,545.3 319.6,545.8 320.8,545.7 322.0,538.7 323.2,544.5 324.4,543.9 325.6,546.9 326.7,545.8 327.9,539.2 329.1,545.5 330.3,545.7 331.5,545.7 332.7,544.7 333.9,545.0 335.1,545.2 336.2,545.3 337.4,546.3 338.6,546.5 339.8,546.1 341.0,545.7 342.2,544.9 343.4,544.9 344.6,545.8 345.7,545.9 346.9,546.2 348.1,545.8 349.3,545.2 350.5,546.1 351.7,546.1 352.9,546.0 354.1,543.3 355.2,544.6 356.4,545.2 357.6,545.9 358.8,546.4 360.0,546.7 361.2,546.8 362.4,546.1 363.6,536.1 364.7,545.7 365.9,546.6 367.1,540.0 368.3,545.1 369.5,542.4 370.7,546.6 371.9,546.0 373.1,544.9 374.2,538.6 375.4,546.6 376.6,545.7 377.8,544.4 379.0,538.0 380.2,546.2 381.4,545.1 382.6,545.2 383.7,545.8 384.9,545.4 386.1,546.3 387.3,546.3 388.5,546.3 389.7,546.8 390.9,546.7 392.1,543.1 393.2,543.5 394.4,545.4 395.6,546.7 396.8,546.7 398.0,545.9 399.2,545.0 400.4,545.7 401.6,546.8 402.7,547.0 403.9,546.4 405.1,546.2 406.3,545.9 407.5,546.0 408.7,542.9 409.9,545.9 411.1,537.7 412.2,544.3 413.4,544.9 414.6,546.2 415.8,544.6 417.0,544.4 418.2,544.6 419.4,544.0 420.6,544.9 421.7,541.3 422.9,541.6 424.1,544.5 425.3,545.0 426.5,544.9 427.7,545.5 428.9,545.7 430.1,546.2 431.2,546.0 432.4,545.9 433.6,543.7 434.8,543.4 436.0,546.2 437.2,546.9 438.4,543.8 439.6,542.4 440.7,543.5 441.9,545.1 443.1,544.7 444.3,544.8 445.5,544.1 446.7,545.2 447.9,545.5 449.1,544.5 450.2,544.6 451.4,545.4 452.6,540.2 453.8,545.7 455.0,545.4 456.2,543.8 457.4,544.7 458.6,544.7 459.7,544.7 460.9,546.4 462.1,540.5 463.3,544.3 464.5,545.6 465.7,545.1 466.9,533.4 468.1,545.3 469.2,541.6 470.4,544.2 471.6,542.4 472.8,545.8 474.0,545.8 475.2,546.3 476.4,546.2 477.6,544.0 478.7,542.4 479.9,544.4 481.1,545.4 482.3,544.6 483.5,543.9 484.7,545.1 485.9,545.9 487.1,545.6 488.2,545.0 489.4,544.8 490.6,545.6 491.8,546.2 493.0,546.5 494.2,546.3 495.4,545.3 496.6,545.3 497.7,546.1 498.9,545.7 500.1,545.6 501.3,544.2 502.5,543.9 503.7,544.3 504.9,545.6 506.1,545.6 507.2,545.6 508.4,545.8 509.6,546.4 510.8,545.6 512.0,544.6 513.2,545.4 514.4,546.4 515.6,546.5 516.7,546.3 517.9,543.1 519.1,543.3 520.3,545.0 521.5,545.0 522.7,545.1 523.9,544.9 525.1,544.8 526.2,544.6 527.4,543.4 528.6,542.4 529.8,544.2 531.0,544.7 532.2,545.8 533.4,546.1 534.6,545.1 535.7,545.3 536.9,545.9 538.1,545.9 539.3,545.5 540.5,542.8 541.7,543.3 542.9,545.1 544.1,545.3 545.2,545.5 546.4,545.7 547.6,545.1 548.8,544.3 550.0,542.1 551.2,541.7 552.4,544.5 553.6,544.5 554.7,544.3 555.9,545.1 557.1,544.4 558.3,545.1 559.5,546.7 560.7,546.0 561.9,545.2 563.1,543.9 564.2,543.9 565.4,545.2 566.6,544.6 567.8,544.1 569.0,544.8 570.2,540.9 571.4,543.0 572.6,539.8 573.7,544.6 574.9,545.7 576.1,546.5 577.3,546.4 578.5,545.9 579.7,544.9 580.9,543.7 582.1,544.8 583.2,546.2 584.4,542.3 585.6,540.4 586.8,541.9 588.0,542.0 589.2,542.9 590.4,546.2 591.6,546.0 592.7,545.1 593.9,543.9 595.1,543.5 596.3,544.4 597.5,545.0 598.7,545.2 599.9,545.9 601.1,546.3 602.2,546.1 603.4,545.0 604.6,544.1 605.8,544.7 607.0,545.8 608.2,545.8 609.4,543.9 610.6,543.3 611.7,544.0 612.9,544.9 614.1,542.8 615.3,545.4 616.5,543.8 617.7,544.2 618.9,545.0 620.1,540.6 621.2,544.4 622.4,545.8 623.6,546.0 624.8,546.3 626.0,546.4 627.2,539.6 628.4,536.5 629.6,543.9 630.7,544.7 631.9,544.7 633.1,545.4 634.3,546.3 635.5,545.4 636.7,545.2 637.9,545.8 639.1,545.6 640.2,545.7 641.4,545.6 642.6,542.6 643.8,542.6 645.0,545.3 646.2,545.0 647.4,544.5 648.6,541.8 649.7,543.3 650.9,542.7 652.1,545.8 653.3,545.1 654.5,539.1 655.7,541.9 656.9,543.1 658.1,544.5 659.2,536.7 660.4,544.9 661.6,544.3 662.8,544.0 664.0,541.9 665.2,545.3 666.4,545.4 667.6,545.8 668.7,545.2 669.9,544.8 671.1,544.6 672.3,544.8 673.5,545.7 674.7,546.1 675.9,545.5 677.1,545.2 678.2,545.3 679.4,543.7 680.6,538.2 681.8,545.2 683.0,544.4 684.2,544.5 685.4,545.5 686.6,545.9 687.7,545.3 688.9,545.4 690.1,538.8 691.3,544.6 692.5,545.0 693.7,545.7 694.9,546.0 696.1,545.6 697.2,545.0 698.4,545.1 699.6,545.8 700.8,545.6 702.0,544.7 703.2,545.0 704.4,546.1 705.6,546.2 706.7,545.3 707.9,540.4 709.1,545.7 710.3,544.6 711.5,545.2 712.7,545.7 713.9,544.9 715.1,545.3 716.2,540.5 717.4,544.2 718.6,544.5 719.8,543.5" fill="none" stroke="#EAB839" stroke-width="1.15" stroke-linejoin="round"/><polyline points="56.0,541.7 57.2,530.8 58.4,540.4 59.6,541.9 60.7,528.8 61.9,538.2 63.1,539.6 64.3,541.9 65.5,533.9 66.7,541.2 67.9,537.5 69.1,540.8 70.2,544.0 71.4,543.9 72.6,544.6 73.8,540.8 75.0,541.9 76.2,543.1 77.4,543.0 78.6,541.7 79.7,535.6 80.9,540.0 82.1,540.0 83.3,543.1 84.5,536.2 85.7,540.4 86.9,539.2 88.1,542.4 89.2,542.4 90.4,544.3 91.6,543.7 92.8,544.0 94.0,544.5 95.2,543.0 96.4,539.3 97.6,539.2 98.7,534.5 99.9,540.4 101.1,544.6 102.3,544.3 103.5,543.3 104.7,532.6 105.9,542.3 107.1,542.3 108.2,543.6 109.4,540.8 110.6,540.8 111.8,539.5 113.0,540.7 114.2,543.4 115.4,543.9 116.6,541.3 117.7,543.8 118.9,544.7 120.1,538.0 121.3,540.5 122.5,540.8 123.7,540.6 124.9,538.8 126.1,540.4 127.2,540.4 128.4,542.7 129.6,543.8 130.8,543.1 132.0,540.1 133.2,543.9 134.4,537.1 135.6,540.8 136.7,540.5 137.9,538.0 139.1,543.1 140.3,541.0 141.5,535.2 142.7,542.8 143.9,536.5 145.1,539.3 146.2,539.5 147.4,540.3 148.6,539.6 149.8,534.2 151.0,537.3 152.2,535.2 153.4,539.8 154.6,532.9 155.7,539.0 156.9,534.5 158.1,537.7 159.3,530.7 160.5,542.4 161.7,542.2 162.9,542.3 164.1,540.0 165.2,530.3 166.4,536.2 167.6,539.9 168.8,536.0 170.0,541.6 171.2,533.5 172.4,538.2 173.6,527.1 174.7,536.0 175.9,526.2 177.1,538.3 178.3,537.0 179.5,539.2 180.7,538.3 181.9,535.1 183.1,537.8 184.2,532.2 185.4,529.6 186.6,434.2 187.8,534.3 189.0,538.4 190.2,532.2 191.4,534.8 192.6,540.8 193.7,531.6 194.9,529.6 196.1,538.0 197.3,537.7 198.5,537.7 199.7,537.7 200.9,533.9 202.1,539.2 203.2,534.6 204.4,527.6 205.6,493.3 206.8,536.7 208.0,531.7 209.2,537.9 210.4,533.1 211.6,490.2 212.7,535.6 213.9,527.5 215.1,532.4 216.3,537.0 217.5,540.8 218.7,537.8 219.9,534.6 221.1,539.6 222.2,534.3 223.4,531.8 224.6,532.8 225.8,527.6 227.0,535.5 228.2,530.0 229.4,529.4 230.6,534.3 231.7,536.7 232.9,534.7 234.1,531.2 235.3,537.2 236.5,531.4 237.7,533.3 238.9,532.2 240.1,536.7 241.2,537.9 242.4,536.4 243.6,533.8 244.8,527.2 246.0,532.4 247.2,530.9 248.4,529.6 249.6,535.8 250.7,538.0 251.9,534.8 253.1,529.4 254.3,533.7 255.5,534.5 256.7,532.1 257.9,533.5 259.1,537.5 260.2,542.2 261.4,541.7 262.6,534.3 263.8,542.1 265.0,541.1 266.2,541.0 267.4,537.6 268.6,542.0 269.7,537.3 270.9,533.0 272.1,543.8 273.3,540.4 274.5,536.6 275.7,541.9 276.9,542.4 278.1,541.0 279.2,537.4 280.4,540.1 281.6,542.7 282.8,535.9 284.0,542.2 285.2,541.1 286.4,541.3 287.6,544.2 288.7,544.0 289.9,543.1 291.1,542.8 292.3,541.5 293.5,541.2 294.7,541.6 295.9,543.9 297.1,539.9 298.2,537.0 299.4,541.0 300.6,543.5 301.8,543.2 303.0,539.3 304.2,541.3 305.4,540.8 306.6,539.1 307.7,543.7 308.9,540.6 310.1,544.1 311.3,541.0 312.5,537.9 313.7,542.3 314.9,542.8 316.1,540.5 317.2,535.4 318.4,540.8 319.6,544.9 320.8,544.9 322.0,535.6 323.2,542.9 324.4,542.1 325.6,542.3 326.7,541.7 327.9,535.9 329.1,541.7 330.3,541.6 331.5,541.4 332.7,541.3 333.9,540.6 335.1,542.8 336.2,542.2 337.4,543.4 338.6,543.4 339.8,543.5 341.0,540.8 342.2,542.5 343.4,540.7 344.6,543.1 345.7,544.7 346.9,542.5 348.1,543.6 349.3,543.9 350.5,541.3 351.7,543.2 352.9,541.4 354.1,539.3 355.2,537.5 356.4,541.7 357.6,544.0 358.8,544.7 360.0,544.7 361.2,542.0 362.4,543.5 363.6,533.1 364.7,544.6 365.9,545.7 367.1,538.3 368.3,544.0 369.5,539.9 370.7,545.2 371.9,544.3 373.1,541.0 374.2,533.9 375.4,543.9 376.6,542.5 377.8,542.2 379.0,534.6 380.2,543.7 381.4,541.8 382.6,541.9 383.7,543.2 384.9,541.2 386.1,544.5 387.3,541.2 388.5,536.9 389.7,540.9 390.9,542.5 392.1,542.0 393.2,541.5 394.4,541.9 395.6,544.9 396.8,544.6 398.0,544.3 399.2,544.0 400.4,543.0 401.6,543.5 402.7,545.4 403.9,544.7 405.1,542.9 406.3,536.8 407.5,539.0 408.7,541.7 409.9,542.9 411.1,536.6 412.2,541.1 413.4,543.5 414.6,544.8 415.8,542.2 417.0,543.5 418.2,542.5 419.4,541.1 420.6,542.5 421.7,536.6 422.9,538.9 424.1,542.1 425.3,542.4 426.5,543.1 427.7,542.4 428.9,540.9 430.1,541.8 431.2,543.0 432.4,542.8 433.6,541.6 434.8,540.9 436.0,543.5 437.2,543.2 438.4,540.2 439.6,540.7 440.7,539.1 441.9,543.0 443.1,542.7 444.3,540.5 445.5,541.9 446.7,543.2 447.9,543.8 449.1,543.0 450.2,540.8 451.4,538.6 452.6,534.3 453.8,539.8 455.0,544.0 456.2,541.8 457.4,536.0 458.6,536.0 459.7,540.6 460.9,544.9 462.1,535.7 463.3,541.4 464.5,539.3 465.7,540.1 466.9,529.6 468.1,544.1 469.2,539.8 470.4,541.4 471.6,540.1 472.8,542.7 474.0,539.0 475.2,541.5 476.4,543.5 477.6,540.5 478.7,538.3 479.9,540.4 481.1,537.9 482.3,538.6 483.5,538.6 484.7,538.9 485.9,542.2 487.1,540.8 488.2,531.2 489.4,541.2 490.6,539.8 491.8,537.0 493.0,536.3 494.2,541.0 495.4,541.2 496.6,543.3 497.7,544.1 498.9,543.8 500.1,535.9 501.3,539.8 502.5,535.6 503.7,536.0 504.9,539.8 506.1,544.0 507.2,538.7 508.4,534.6 509.6,540.1 510.8,537.3 512.0,541.6 513.2,541.7 514.4,535.0 515.6,536.1 516.7,543.9 517.9,539.5 519.1,541.4 520.3,538.3 521.5,540.1 522.7,538.8 523.9,537.0 525.1,521.0 526.2,535.1 527.4,531.8 528.6,531.4 529.8,531.6 531.0,519.1 532.2,530.9 533.4,535.3 534.6,522.7 535.7,516.2 536.9,535.3 538.1,536.6 539.3,534.3 540.5,539.3 541.7,534.9 542.9,533.9 544.1,538.0 545.2,540.8 546.4,541.1 547.6,534.4 548.8,539.2 550.0,515.1 551.2,538.1 552.4,537.2 553.6,537.5 554.7,541.4 555.9,537.3 557.1,536.6 558.3,537.6 559.5,537.7 560.7,541.4 561.9,539.7 563.1,536.1 564.2,541.8 565.4,538.6 566.6,535.7 567.8,536.6 569.0,539.2 570.2,525.3 571.4,539.6 572.6,537.6 573.7,542.5 574.9,542.5 576.1,542.6 577.3,537.3 578.5,538.8 579.7,534.4 580.9,538.7 582.1,539.9 583.2,536.4 584.4,538.4 585.6,535.7 586.8,538.9 588.0,536.3 589.2,539.9 590.4,542.2 591.6,539.9 592.7,542.7 593.9,538.0 595.1,539.7 596.3,532.0 597.5,533.4 598.7,539.8 599.9,540.0 601.1,540.1 602.2,541.9 603.4,540.4 604.6,541.2 605.8,542.2 607.0,544.0 608.2,539.3 609.4,530.6 610.6,535.0 611.7,541.5 612.9,533.1 614.1,541.0 615.3,541.5 616.5,533.0 617.7,537.2 618.9,538.5 620.1,537.5 621.2,539.8 622.4,539.6 623.6,539.8 624.8,541.8 626.0,541.6 627.2,534.0 628.4,527.5 629.6,534.1 630.7,540.6 631.9,537.7 633.1,537.3 634.3,538.3 635.5,540.2 636.7,540.0 637.9,542.9 639.1,535.8 640.2,543.4 641.4,541.4 642.6,527.2 643.8,531.2 645.0,533.6 646.2,537.4 647.4,532.0 648.6,535.7 649.7,535.5 650.9,529.2 652.1,534.9 653.3,541.6 654.5,535.1 655.7,534.4 656.9,536.5 658.1,538.2 659.2,530.2 660.4,537.2 661.6,541.9 662.8,527.3 664.0,523.0 665.2,532.7 666.4,539.5 667.6,537.7 668.7,535.7 669.9,535.5 671.1,538.9 672.3,537.1 673.5,541.7 674.7,536.5 675.9,540.8 677.1,543.0 678.2,541.5 679.4,532.0 680.6,534.6 681.8,539.3 683.0,537.4 684.2,542.7 685.4,541.9 686.6,540.5 687.7,539.8 688.9,540.0 690.1,533.4 691.3,535.9 692.5,535.1 693.7,539.1 694.9,541.7 696.1,541.2 697.2,540.9 698.4,532.7 699.6,542.0 700.8,541.9 702.0,535.7 703.2,534.4 704.4,537.7 705.6,539.8 706.7,537.9 707.9,537.6 709.1,535.6 710.3,539.4 711.5,542.4 712.7,540.7 713.9,538.2 715.1,539.9 716.2,536.2 717.4,539.1 718.6,539.2 719.8,535.4" fill="none" stroke="#1250a0" stroke-width="1.15" stroke-linejoin="round"/><polyline points="56.0,540.3 57.2,509.0 58.4,540.4 59.6,541.9 60.7,522.8 61.9,532.0 63.1,539.6 64.3,536.3 65.5,478.6 66.7,529.6 67.9,532.4 69.1,534.4 70.2,544.0 71.4,539.2 72.6,544.6 73.8,540.8 75.0,536.8 76.2,540.0 77.4,543.0 78.6,541.7 79.7,524.4 80.9,537.0 82.1,523.4 83.3,540.1 84.5,521.4 85.7,538.9 86.9,528.1 88.1,542.4 89.2,542.4 90.4,544.3 91.6,539.2 92.8,541.0 94.0,544.2 95.2,540.5 96.4,539.3 97.6,533.6 98.7,478.6 99.9,524.8 101.1,544.6 102.3,544.3 103.5,536.6 104.7,465.0 105.9,535.5 107.1,540.5 108.2,543.6 109.4,537.6 110.6,537.0 111.8,539.5 113.0,540.7 114.2,541.1 115.4,543.9 116.6,534.7 117.7,543.8 118.9,544.7 120.1,537.0 121.3,531.1 122.5,539.9 123.7,540.6 124.9,533.1 126.1,540.4 127.2,540.4 128.4,542.7 129.6,543.8 130.8,543.1 132.0,529.0 133.2,540.6 134.4,503.9 135.6,537.5 136.7,540.5 137.9,527.6 139.1,542.4 140.3,527.2 141.5,534.6 142.7,542.8 143.9,527.0 145.1,509.8 146.2,526.6 147.4,523.4 148.6,537.9 149.8,534.2 151.0,534.5 152.2,515.6 153.4,538.3 154.6,516.9 155.7,537.8 156.9,521.4 158.1,530.8 159.3,496.2 160.5,542.4 161.7,540.4 162.9,542.3 164.1,529.3 165.2,470.9 166.4,525.0 167.6,526.9 168.8,492.3 170.0,537.2 171.2,496.2 172.4,469.2 173.6,439.5 174.7,434.3 175.9,421.9 177.1,425.7 178.3,422.9 179.5,438.3 180.7,445.5 181.9,426.7 183.1,430.3 184.2,422.5 185.4,421.2 186.6,428.6 187.8,415.5 189.0,432.5 190.2,443.7 191.4,426.0 192.6,437.0 193.7,431.5 194.9,440.0 196.1,438.5 197.3,427.0 198.5,436.1 199.7,426.8 200.9,419.6 202.1,415.9 203.2,414.3 204.4,419.4 205.6,377.2 206.8,428.9 208.0,408.9 209.2,425.4 210.4,429.6 211.6,399.8 212.7,427.4 213.9,439.4 215.1,458.2 216.3,455.6 217.5,480.9 218.7,481.8 219.9,456.2 221.1,461.2 222.2,466.5 223.4,479.7 224.6,491.7 225.8,468.7 227.0,496.5 228.2,483.8 229.4,475.7 230.6,491.9 231.7,474.5 232.9,478.2 234.1,469.9 235.3,470.2 236.5,468.6 237.7,468.2 238.9,466.3 240.1,495.4 241.2,491.6 242.4,487.7 243.6,470.0 244.8,459.7 246.0,453.3 247.2,485.0 248.4,476.8 249.6,510.4 250.7,505.6 251.9,511.3 253.1,472.6 254.3,479.0 255.5,505.7 256.7,502.8 257.9,519.3 259.1,537.5 260.2,539.4 261.4,535.3 262.6,492.3 263.8,537.9 265.0,534.9 266.2,537.9 267.4,519.5 268.6,540.2 269.7,521.8 270.9,521.0 272.1,543.8 273.3,530.1 274.5,505.9 275.7,537.4 276.9,542.4 278.1,537.6 279.2,525.3 280.4,539.2 281.6,542.7 282.8,517.2 284.0,541.4 285.2,533.1 286.4,536.9 287.6,544.2 288.7,544.0 289.9,543.1 291.1,542.8 292.3,535.8 293.5,534.6 294.7,535.0 295.9,543.9 297.1,537.7 298.2,525.3 299.4,535.2 300.6,543.5 301.8,543.2 303.0,526.1 304.2,534.5 305.4,529.2 306.6,522.2 307.7,543.7 308.9,532.3 310.1,544.1 311.3,539.4 312.5,528.5 313.7,537.9 314.9,542.8 316.1,540.5 317.2,535.4 318.4,535.1 319.6,544.5 320.8,544.8 322.0,529.2 323.2,542.8 324.4,542.1 325.6,535.4 326.7,541.7 327.9,535.9 329.1,541.7 330.3,541.6 331.5,536.6 332.7,541.3 333.9,537.4 335.1,541.7 336.2,531.1 337.4,542.3 338.6,543.4 339.8,543.5 341.0,536.9 342.2,542.5 343.4,536.6 344.6,543.1 345.7,544.7 346.9,536.9 348.1,543.6 349.3,543.9 350.5,528.6 351.7,531.1 352.9,535.4 354.1,538.9 355.2,527.2 356.4,541.3 357.6,541.7 358.8,544.7 360.0,544.7 361.2,531.9 362.4,539.6 363.6,528.2 364.7,544.6 365.9,545.2 367.1,533.1 368.3,543.5 369.5,537.3 370.7,545.2 371.9,544.3 373.1,541.0 374.2,530.9 375.4,543.9 376.6,539.3 377.8,540.7 379.0,534.6 380.2,543.7 381.4,541.8 382.6,541.9 383.7,543.2 384.9,537.3 386.1,544.5 387.3,539.7 388.5,525.3 389.7,533.9 390.9,535.5 392.1,542.0 393.2,538.4 394.4,533.1 395.6,544.3 396.8,544.6 398.0,544.3 399.2,544.0 400.4,543.0 401.6,543.5 402.7,545.4 403.9,544.7 405.1,542.9 406.3,520.0 407.5,521.4 408.7,541.3 409.9,537.2 411.1,535.9 412.2,531.1 413.4,541.0 414.6,544.1 415.8,539.4 417.0,543.5 418.2,540.5 419.4,541.1 420.6,542.2 421.7,529.2 422.9,538.6 424.1,542.1 425.3,541.3 426.5,543.1 427.7,541.6 428.9,535.2 430.1,537.3 431.2,542.3 432.4,540.6 433.6,539.1 434.8,540.9 436.0,543.5 437.2,543.2 438.4,540.2 439.6,540.7 440.7,530.9 441.9,543.0 443.1,541.0 444.3,523.4 445.5,539.1 446.7,543.2 447.9,543.8 449.1,543.0 450.2,540.0 451.4,525.3 452.6,533.6 453.8,539.8 455.0,544.0 456.2,541.8 457.4,521.4 458.6,525.0 459.7,537.7 460.9,543.3 462.1,519.5 463.3,539.7 464.5,527.5 465.7,535.8 466.9,529.6 468.1,544.1 469.2,539.8 470.4,541.4 471.6,539.2 472.8,542.7 474.0,531.1 475.2,533.1 476.4,543.1 477.6,540.5 478.7,538.3 479.9,540.4 481.1,525.6 482.3,534.8 483.5,538.6 484.7,535.0 485.9,542.2 487.1,533.1 488.2,499.4 489.4,538.9 490.6,530.9 491.8,537.0 493.0,531.3 494.2,539.6 495.4,541.0 496.6,543.3 497.7,544.1 498.9,543.8 500.1,514.4 501.3,538.5 502.5,523.4 503.7,522.4 504.9,529.1 506.1,544.0 507.2,533.5 508.4,526.7 509.6,534.3 510.8,515.6 512.0,540.3 513.2,537.9 514.4,529.5 515.6,525.3 516.7,542.8 517.9,536.0 519.1,541.4 520.3,526.1 521.5,540.1 522.7,538.7 523.9,511.7 525.1,395.1 526.2,492.6 527.4,484.5 528.6,483.0 529.8,475.5 531.0,412.6 532.2,473.7 533.4,484.5 534.6,457.4 535.7,414.5 536.9,501.1 538.1,514.9 539.3,492.3 540.5,533.1 541.7,534.9 542.9,519.3 544.1,507.8 545.2,537.8 546.4,541.1 547.6,518.1 548.8,524.4 550.0,366.9 551.2,523.2 552.4,537.2 553.6,537.5 554.7,540.5 555.9,523.4 557.1,531.2 558.3,533.0 559.5,526.2 560.7,541.4 561.9,529.7 563.1,500.0 564.2,537.1 565.4,527.2 566.6,531.4 567.8,531.7 569.0,534.1 570.2,469.9 571.4,534.6 572.6,537.6 573.7,542.5 574.9,539.9 576.1,539.2 577.3,525.3 578.5,537.6 579.7,515.4 580.9,531.1 582.1,534.0 583.2,516.0 584.4,532.2 585.6,527.2 586.8,538.1 588.0,524.7 589.2,539.9 590.4,542.2 591.6,532.5 592.7,540.4 593.9,513.6 595.1,537.5 596.3,532.0 597.5,530.2 598.7,539.8 599.9,534.6 601.1,511.7 602.2,539.1 603.4,540.4 604.6,541.2 605.8,542.2 607.0,544.0 608.2,538.5 609.4,513.6 610.6,524.4 611.7,541.5 612.9,503.1 614.1,541.0 615.3,540.9 616.5,509.8 617.7,531.0 618.9,538.5 620.1,537.5 621.2,532.6 622.4,527.2 623.6,532.8 624.8,541.8 626.0,541.6 627.2,534.0 628.4,522.9 629.6,511.7 630.7,538.4 631.9,537.7 633.1,530.8 634.3,517.5 635.5,538.7 636.7,540.0 637.9,538.2 639.1,488.4 640.2,538.7 641.4,539.1 642.6,503.9 643.8,527.6 645.0,507.8 646.2,527.5 647.4,514.1 648.6,533.1 649.7,509.8 650.9,520.7 652.1,534.9 653.3,541.6 654.5,535.1 655.7,522.9 656.9,523.4 658.1,536.9 659.2,530.2 660.4,528.3 661.6,540.3 662.8,511.7 664.0,521.4 665.2,519.4 666.4,539.2 667.6,527.2 668.7,520.6 669.9,521.9 671.1,534.4 672.3,524.5 673.5,537.6 674.7,515.9 675.9,529.2 677.1,541.8 678.2,538.9 679.4,509.6 680.6,534.6 681.8,538.6 683.0,531.1 684.2,542.1 685.4,541.9 686.6,540.5 687.7,539.8 688.9,535.9 690.1,524.6 691.3,519.7 692.5,519.5 693.7,537.5 694.9,541.7 696.1,541.2 697.2,539.9 698.4,502.0 699.6,537.5 700.8,541.9 702.0,535.4 703.2,523.4 704.4,517.9 705.6,529.8 706.7,527.7 707.9,534.4 709.1,503.9 710.3,536.3 711.5,542.4 712.7,533.1 713.9,525.3 715.1,538.9 716.2,534.6 717.4,523.4 718.6,537.6 719.8,535.4" fill="none" stroke="#a01208" stroke-width="1.15" stroke-linejoin="round"/><polyline points="56.0,540.0 57.2,508.8 58.4,540.1 59.6,541.6 60.7,522.5 61.9,531.7 63.1,539.3 64.3,536.0 65.5,478.4 66.7,529.3 67.9,532.1 69.1,534.1 70.2,543.7 71.4,538.9 72.6,544.3 73.8,540.5 75.0,536.5 76.2,539.8 77.4,542.7 78.6,541.4 79.7,524.1 80.9,536.7 82.1,523.1 83.3,539.8 84.5,521.1 85.7,538.6 86.9,527.8 88.1,542.1 89.2,542.2 90.4,544.0 91.6,538.9 92.8,540.7 94.0,543.9 95.2,540.2 96.4,539.0 97.6,533.3 98.7,478.4 99.9,524.5 101.1,544.3 102.3,544.0 103.5,536.3 104.7,464.7 105.9,535.2 107.1,540.2 108.2,543.3 109.4,537.3 110.6,536.7 111.8,539.2 113.0,540.4 114.2,540.8 115.4,543.6 116.6,534.4 117.7,543.5 118.9,544.4 120.1,536.7 121.3,530.8 122.5,539.6 123.7,540.3 124.9,532.9 126.1,540.1 127.2,540.1 128.4,542.4 129.6,543.5 130.8,542.8 132.0,528.7 133.2,540.3 134.4,503.6 135.6,537.2 136.7,540.2 137.9,527.3 139.1,542.1 140.3,527.0 141.5,534.3 142.7,542.5 143.9,526.7 145.1,509.5 146.2,526.3 147.4,523.1 148.6,537.6 149.8,533.9 151.0,534.2 152.2,515.3 153.4,538.0 154.6,516.6 155.7,537.5 156.9,521.1 158.1,530.5 159.3,495.9 160.5,542.1 161.7,540.1 162.9,542.0 164.1,529.0 165.2,470.6 166.4,524.8 167.6,526.6 168.8,492.0 170.0,536.9 171.2,495.9 172.4,468.9 173.6,439.2 174.7,434.0 175.9,421.6 177.1,425.4 178.3,422.6 179.5,438.0 180.7,445.2 181.9,426.4 183.1,430.0 184.2,422.2 185.4,421.0 186.6,428.4 187.8,415.2 189.0,432.2 190.2,443.4 191.4,425.7 192.6,436.7 193.7,431.2 194.9,439.7 196.1,438.2 197.3,426.7 198.5,435.8 199.7,426.5 200.9,419.4 202.1,415.6 203.2,414.0 204.4,419.2 205.6,377.0 206.8,428.6 208.0,408.6 209.2,425.1 210.4,429.3 211.6,399.5 212.7,427.1 213.9,439.1 215.1,457.9 216.3,455.4 217.5,480.6 218.7,481.5 219.9,455.9 221.1,460.9 222.2,466.2 223.4,479.4 224.6,491.4 225.8,468.4 227.0,496.2 228.2,483.5 229.4,475.4 230.6,491.6 231.7,474.2 232.9,477.9 234.1,469.6 235.3,469.9 236.5,468.3 237.7,467.9 238.9,466.1 240.1,495.1 241.2,491.3 242.4,487.5 243.6,469.7 244.8,459.4 246.0,453.0 247.2,484.7 248.4,476.5 249.6,510.1 250.7,505.3 251.9,511.0 253.1,472.3 254.3,478.7 255.5,505.4 256.7,502.6 257.9,519.0 259.1,537.2 260.2,539.1 261.4,535.1 262.6,492.0 263.8,537.6 265.0,534.6 266.2,537.6 267.4,519.2 268.6,539.9 269.7,521.5 270.9,520.7 272.1,543.5 273.3,529.8 274.5,505.6 275.7,537.1 276.9,542.1 278.1,537.3 279.2,525.0 280.4,538.9 281.6,542.5 282.8,516.9 284.0,541.1 285.2,532.8 286.4,536.6 287.6,543.9 288.7,543.7 289.9,542.8 291.1,542.5 292.3,535.5 293.5,534.3 294.7,534.7 295.9,543.6 297.1,537.4 298.2,525.0 299.4,534.9 300.6,543.2 301.8,542.9 303.0,525.8 304.2,534.2 305.4,528.9 306.6,521.9 307.7,543.5 308.9,532.0 310.1,543.8 311.3,539.1 312.5,528.2 313.7,537.6 314.9,542.5 316.1,540.2 317.2,535.1 318.4,534.8 319.6,544.2 320.8,544.5 322.0,528.9 323.2,542.5 324.4,541.8 325.6,535.1 326.7,541.4 327.9,535.6 329.1,541.4 330.3,541.3 331.5,536.3 332.7,541.0 333.9,537.1 335.1,541.4 336.2,530.8 337.4,542.0 338.6,543.2 339.8,543.2 341.0,536.6 342.2,542.2 343.4,536.4 344.6,542.8 345.7,544.4 346.9,536.6 348.1,543.4 349.3,543.6 350.5,528.3 351.7,530.8 352.9,535.2 354.1,538.6 355.2,527.0 356.4,541.0 357.6,541.4 358.8,544.4 360.0,544.4 361.2,531.6 362.4,539.3 363.6,527.9 364.7,544.3 365.9,544.9 367.1,532.8 368.3,543.2 369.5,537.0 370.7,544.9 371.9,544.0 373.1,540.7 374.2,530.6 375.4,543.6 376.6,539.0 377.8,540.4 379.0,534.3 380.2,543.4 381.4,541.5 382.6,541.6 383.7,542.9 384.9,537.0 386.1,544.2 387.3,539.4 388.5,525.0 389.7,533.6 390.9,535.2 392.1,541.7 393.2,538.1 394.4,532.8 395.6,544.0 396.8,544.3 398.0,544.0 399.2,543.7 400.4,542.7 401.6,543.2 402.7,545.1 403.9,544.4 405.1,542.6 406.3,519.7 407.5,521.1 408.7,541.0 409.9,536.9 411.1,535.6 412.2,530.8 413.4,540.8 414.6,543.8 415.8,539.1 417.0,543.2 418.2,540.2 419.4,540.8 420.6,541.9 421.7,528.9 422.9,538.3 424.1,541.8 425.3,541.1 426.5,542.8 427.7,541.3 428.9,534.9 430.1,537.0 431.2,542.0 432.4,540.3 433.6,538.8 434.8,540.6 436.0,543.2 437.2,542.9 438.4,539.9 439.6,540.5 440.7,530.6 441.9,542.7 443.1,540.7 444.3,523.1 445.5,538.8 446.7,543.0 447.9,543.5 449.1,542.8 450.2,539.7 451.4,525.0 452.6,533.3 453.8,539.5 455.0,543.7 456.2,541.5 457.4,521.1 458.6,524.7 459.7,537.4 460.9,543.0 462.1,519.2 463.3,539.4 464.5,527.2 465.7,535.5 466.9,529.3 468.1,543.8 469.2,539.5 470.4,541.1 471.6,538.9 472.8,542.4 474.0,530.9 475.2,532.8 476.4,542.8 477.6,540.2 478.7,538.0 479.9,540.1 481.1,525.3 482.3,534.5 483.5,538.3 484.7,534.8 485.9,541.9 487.1,532.8 488.2,499.1 489.4,538.6 490.6,530.7 491.8,536.7 493.0,531.0 494.2,539.3 495.4,540.7 496.6,543.0 497.7,543.8 498.9,543.5 500.1,514.2 501.3,538.3 502.5,523.1 503.7,522.1 504.9,528.8 506.1,543.7 507.2,533.2 508.4,526.4 509.6,534.0 510.8,515.3 512.0,540.0 513.2,537.6 514.4,529.3 515.6,525.0 516.7,542.5 517.9,535.7 519.1,541.1 520.3,525.8 521.5,539.9 522.7,538.4 523.9,511.4 525.1,394.8 526.2,492.3 527.4,484.2 528.6,482.7 529.8,475.2 531.0,412.3 532.2,473.4 533.4,484.2 534.6,457.1 535.7,414.2 536.9,500.8 538.1,514.6 539.3,492.0 540.5,532.8 541.7,534.6 542.9,519.1 544.1,507.5 545.2,537.5 546.4,540.9 547.6,517.8 548.8,524.1 550.0,366.6 551.2,522.9 552.4,536.9 553.6,537.2 554.7,540.2 555.9,523.1 557.1,530.9 558.3,532.7 559.5,525.9 560.7,541.1 561.9,529.4 563.1,499.7 564.2,536.8 565.4,527.0 566.6,531.1 567.8,531.4 569.0,533.8 570.2,469.6 571.4,534.3 572.6,537.3 573.7,542.3 574.9,539.6 576.1,538.9 577.3,525.0 578.5,537.4 579.7,515.1 580.9,530.8 582.1,533.7 583.2,515.7 584.4,531.9 585.6,527.0 586.8,537.8 588.0,524.4 589.2,539.6 590.4,541.9 591.6,532.2 592.7,540.2 593.9,513.3 595.1,537.2 596.3,531.7 597.5,529.9 598.7,539.5 599.9,534.4 601.1,511.4 602.2,538.8 603.4,540.2 604.6,541.0 605.8,541.9 607.0,543.7 608.2,538.2 609.4,513.3 610.6,524.1 611.7,541.2 612.9,502.8 614.1,540.7 615.3,540.6 616.5,509.5 617.7,530.7 618.9,538.2 620.1,537.2 621.2,532.3 622.4,527.0 623.6,532.5 624.8,541.5 626.0,541.3 627.2,533.7 628.4,522.6 629.6,511.4 630.7,538.1 631.9,537.4 633.1,530.5 634.3,517.2 635.5,538.4 636.7,539.7 637.9,537.9 639.1,488.1 640.2,538.4 641.4,538.8 642.6,503.6 643.8,527.3 645.0,507.5 646.2,527.2 647.4,513.8 648.6,532.8 649.7,509.5 650.9,520.4 652.1,534.6 653.3,541.3 654.5,534.8 655.7,522.6 656.9,523.1 658.1,536.6 659.2,529.9 660.4,528.0 661.6,540.0 662.8,511.4 664.0,521.1 665.2,519.1 666.4,538.9 667.6,527.0 668.7,520.3 669.9,521.6 671.1,534.1 672.3,524.2 673.5,537.3 674.7,515.6 675.9,528.9 677.1,541.6 678.2,538.6 679.4,509.3 680.6,534.3 681.8,538.3 683.0,530.8 684.2,541.8 685.4,541.6 686.6,540.2 687.7,539.5 688.9,535.6 690.1,524.4 691.3,519.4 692.5,519.2 693.7,537.2 694.9,541.4 696.1,540.9 697.2,539.6 698.4,501.7 699.6,537.2 700.8,541.6 702.0,535.1 703.2,523.1 704.4,517.6 705.6,529.6 706.7,527.4 707.9,534.1 709.1,503.6 710.3,536.0 711.5,542.1 712.7,532.8 713.9,525.0 715.1,538.6 716.2,534.3 717.4,523.1 718.6,537.3 719.8,535.1" fill="none" stroke="#FF780A" stroke-width="1.15" stroke-linejoin="round"/><polyline points="56.0,539.4 57.2,508.2 58.4,539.5 59.6,541.0 60.7,521.9 61.9,531.1 63.1,538.8 64.3,535.5 65.5,477.8 66.7,528.7 67.9,531.5 69.1,533.5 70.2,543.2 71.4,538.4 72.6,543.7 73.8,539.9 75.0,535.9 76.2,539.2 77.4,542.1 78.6,540.8 79.7,523.5 80.9,536.1 82.1,522.5 83.3,539.2 84.5,520.5 85.7,538.0 86.9,527.2 88.1,541.6 89.2,541.6 90.4,543.4 91.6,538.3 92.8,540.1 94.0,543.3 95.2,539.6 96.4,538.4 97.6,532.7 98.7,477.8 99.9,523.9 101.1,543.7 102.3,543.5 103.5,535.7 104.7,464.2 105.9,534.6 107.1,539.6 108.2,542.7 109.4,536.7 110.6,536.1 111.8,538.6 113.0,539.8 114.2,540.2 115.4,543.0 116.6,533.8 117.7,543.0 118.9,543.8 120.1,536.1 121.3,530.3 122.5,539.0 123.7,539.8 124.9,532.3 126.1,539.5 127.2,539.5 128.4,541.8 129.6,543.0 130.8,542.3 132.0,528.1 133.2,539.8 134.4,503.0 135.6,536.6 136.7,539.7 137.9,526.7 139.1,541.6 140.3,526.4 141.5,533.7 142.7,541.9 143.9,526.1 145.1,508.9 146.2,525.7 147.4,522.5 148.6,537.0 149.8,533.3 151.0,533.7 152.2,514.7 153.4,537.4 154.6,516.0 155.7,537.0 156.9,520.5 158.1,529.9 159.3,495.3 160.5,541.5 161.7,539.5 162.9,541.4 164.1,528.4 165.2,470.0 166.4,524.2 167.6,526.0 168.8,491.4 170.0,536.4 171.2,487.8 172.4,443.0 173.6,415.0 174.7,410.9 175.9,392.0 177.1,423.1 178.3,386.4 179.5,423.5 180.7,382.5 181.9,403.0 183.1,394.2 184.2,362.7 185.4,408.9 186.6,357.2 187.8,395.8 189.0,425.0 190.2,408.7 191.4,409.7 192.6,430.2 193.7,406.8 194.9,395.1 196.1,411.7 197.3,410.0 198.5,390.2 199.7,424.3 200.9,402.0 202.1,383.6 203.2,357.2 204.4,394.2 205.6,357.2 206.8,419.9 208.0,382.5 209.2,361.1 210.4,365.3 211.6,392.3 212.7,390.3 213.9,409.4 215.1,415.4 216.3,435.8 217.5,370.9 218.7,451.8 219.9,416.4 221.1,410.3 222.2,450.3 223.4,454.1 224.6,448.6 225.8,461.3 227.0,465.9 228.2,479.2 229.4,396.1 230.6,479.1 231.7,471.5 232.9,458.3 234.1,459.4 235.3,465.5 236.5,454.4 237.7,453.5 238.9,440.7 240.1,469.8 241.2,460.3 242.4,482.6 243.6,456.9 244.8,452.5 246.0,440.9 247.2,437.0 248.4,440.9 249.6,461.9 250.7,493.1 251.9,507.2 253.1,425.3 254.3,471.6 255.5,471.9 256.7,491.9 257.9,515.9 259.1,536.6 260.2,538.5 261.4,534.5 262.6,491.4 263.8,537.0 265.0,534.0 266.2,537.1 267.4,518.6 268.6,539.3 269.7,520.9 270.9,520.1 272.1,542.9 273.3,529.3 274.5,505.0 275.7,536.5 276.9,541.5 278.1,536.7 279.2,524.4 280.4,538.3 281.6,541.9 282.8,516.3 284.0,540.5 285.2,532.2 286.4,536.0 287.6,543.3 288.7,543.1 289.9,542.3 291.1,541.9 292.3,535.0 293.5,533.7 294.7,534.1 295.9,543.0 297.1,536.8 298.2,524.4 299.4,534.3 300.6,542.6 301.8,542.3 303.0,525.2 304.2,533.6 305.4,528.3 306.6,521.3 307.7,542.9 308.9,531.4 310.1,543.2 311.3,538.6 312.5,527.6 313.7,537.0 314.9,542.0 316.1,539.6 317.2,534.5 318.4,534.2 319.6,543.6 320.8,544.0 322.0,528.3 323.2,542.0 324.4,541.2 325.6,534.5 326.7,540.8 327.9,535.0 329.1,540.8 330.3,540.7 331.5,535.7 332.7,540.4 333.9,536.5 335.1,540.8 336.2,530.3 337.4,541.5 338.6,542.6 339.8,542.6 341.0,536.0 342.2,541.6 343.4,535.8 344.6,542.2 345.7,543.9 346.9,536.0 348.1,542.8 349.3,543.0 350.5,527.7 351.7,530.3 352.9,534.6 354.1,538.0 355.2,526.4 356.4,540.5 357.6,540.8 358.8,543.8 360.0,543.8 361.2,531.0 362.4,538.7 363.6,527.3 364.7,543.7 365.9,544.3 367.1,532.2 368.3,542.6 369.5,536.4 370.7,544.3 371.9,543.5 373.1,540.1 374.2,530.1 375.4,543.0 376.6,538.4 377.8,539.8 379.0,533.7 380.2,542.8 381.4,541.0 382.6,541.0 383.7,542.4 384.9,536.4 386.1,543.6 387.3,538.8 388.5,524.4 389.7,533.0 390.9,534.6 392.1,541.2 393.2,537.5 394.4,532.2 395.6,543.4 396.8,543.7 398.0,543.4 399.2,543.1 400.4,542.1 401.6,542.7 402.7,544.5 403.9,543.8 405.1,542.0 406.3,519.2 407.5,520.5 408.7,540.4 409.9,536.3 411.1,535.0 412.2,530.3 413.4,540.2 414.6,543.2 415.8,538.5 417.0,542.6 418.2,539.6 419.4,540.3 420.6,541.3 421.7,528.3 422.9,537.7 424.1,541.3 425.3,540.5 426.5,542.2 427.7,540.7 428.9,534.3 430.1,536.4 431.2,541.4 432.4,539.7 433.6,538.2 434.8,540.0 436.0,542.6 437.2,542.3 438.4,539.3 439.6,539.9 440.7,530.1 441.9,542.1 443.1,540.1 444.3,522.5 445.5,538.2 446.7,542.4 447.9,542.9 449.1,542.2 450.2,539.1 451.4,524.4 452.6,532.7 453.8,538.9 455.0,543.1 456.2,540.9 457.4,520.6 458.6,524.1 459.7,536.9 460.9,542.4 462.1,518.6 463.3,538.9 464.5,526.6 465.7,534.9 466.9,528.7 468.1,543.2 469.2,538.9 470.4,540.5 471.6,538.3 472.8,541.8 474.0,530.3 475.2,532.2 476.4,542.2 477.6,539.6 478.7,537.4 479.9,539.5 481.1,524.8 482.3,533.9 483.5,537.7 484.7,534.2 485.9,541.3 487.1,532.2 488.2,498.6 489.4,538.1 490.6,530.1 491.8,536.1 493.0,530.4 494.2,538.7 495.4,540.1 496.6,542.4 497.7,543.2 498.9,543.0 500.1,513.6 501.3,537.7 502.5,522.5 503.7,521.5 504.9,528.2 506.1,543.1 507.2,532.7 508.4,525.9 509.6,533.4 510.8,514.7 512.0,539.4 513.2,537.1 514.4,528.7 515.6,524.4 516.7,541.9 517.9,535.1 519.1,540.6 520.3,525.2 521.5,539.3 522.7,537.8 523.9,510.8 525.1,394.2 526.2,491.8 527.4,483.6 528.6,482.1 529.8,474.7 531.0,411.7 532.2,472.8 533.4,483.6 534.6,456.5 535.7,413.6 536.9,500.3 538.1,514.0 539.3,491.4 540.5,532.2 541.7,534.0 542.9,518.5 544.1,506.9 545.2,536.9 546.4,540.3 547.6,517.3 548.8,523.5 550.0,366.0 551.2,522.4 552.4,536.3 553.6,536.6 554.7,539.6 555.9,522.5 557.1,530.3 558.3,532.1 559.5,525.3 560.7,540.6 561.9,528.9 563.1,499.2 564.2,536.2 565.4,526.4 566.6,530.6 567.8,530.9 569.0,533.2 570.2,469.0 571.4,533.7 572.6,536.8 573.7,541.7 574.9,539.1 576.1,538.3 577.3,524.4 578.5,536.8 579.7,514.5 580.9,530.3 582.1,533.1 583.2,515.1 584.4,531.3 585.6,526.4 586.8,537.2 588.0,523.8 589.2,539.0 590.4,541.3 591.6,531.6 592.7,539.6 593.9,512.8 595.1,536.6 596.3,531.1 597.5,529.4 598.7,539.0 599.9,533.8 601.1,510.8 602.2,538.2 603.4,539.6 604.6,540.4 605.8,541.3 607.0,543.2 608.2,537.6 609.4,512.8 610.6,523.5 611.7,540.7 612.9,502.2 614.1,540.1 615.3,540.1 616.5,508.9 617.7,530.1 618.9,537.6 620.1,536.6 621.2,531.7 622.4,526.4 623.6,532.0 624.8,540.9 626.0,540.7 627.2,533.1 628.4,522.0 629.6,510.8 630.7,537.5 631.9,536.9 633.1,529.9 634.3,516.7 635.5,537.8 636.7,539.2 637.9,537.3 639.1,487.5 640.2,537.8 641.4,538.2 642.6,503.0 643.8,526.7 645.0,506.9 646.2,526.6 647.4,513.2 648.6,532.3 649.7,508.9 650.9,519.8 652.1,534.0 653.3,540.7 654.5,534.2 655.7,522.1 656.9,522.5 658.1,536.0 659.2,529.3 660.4,527.4 661.6,539.4 662.8,510.8 664.0,520.5 665.2,518.5 666.4,538.4 667.6,526.4 668.7,519.7 669.9,521.0 671.1,533.5 672.3,523.6 673.5,536.7 674.7,515.0 675.9,528.3 677.1,541.0 678.2,538.0 679.4,508.7 680.6,533.7 681.8,537.8 683.0,530.3 684.2,541.2 685.4,541.0 686.6,539.7 687.7,538.9 688.9,535.0 690.1,523.8 691.3,518.8 692.5,518.6 693.7,536.6 694.9,540.8 696.1,540.3 697.2,539.1 698.4,501.1 699.6,536.6 700.8,541.0 702.0,534.5 703.2,522.5 704.4,517.0 705.6,529.0 706.7,526.8 707.9,533.6 709.1,503.0 710.3,535.4 711.5,541.6 712.7,532.2 713.9,524.4 715.1,538.0 716.2,533.7 717.4,522.5 718.6,536.7 719.8,534.5" fill="none" stroke="#9c3c84" stroke-width="1.15" stroke-linejoin="round"/><polyline points="56.0,355.3 57.2,355.3 58.4,355.3 59.6,355.3 60.7,355.3 61.9,355.3 63.1,355.3 64.3,355.3 65.5,355.3 66.7,355.3 67.9,355.3 69.1,355.3 70.2,355.3 71.4,355.3 72.6,355.3 73.8,355.3 75.0,355.3 76.2,355.3 77.4,355.3 78.6,355.3 79.7,355.3 80.9,355.3 82.1,355.3 83.3,355.3 84.5,355.3 85.7,355.3 86.9,355.3 88.1,355.3 89.2,355.3 90.4,355.3 91.6,355.3 92.8,355.3 94.0,355.3 95.2,355.3 96.4,355.3 97.6,355.3 98.7,355.3 99.9,355.3 101.1,355.3 102.3,355.3 103.5,355.3 104.7,355.3 105.9,355.3 107.1,355.3 108.2,355.3 109.4,355.3 110.6,355.3 111.8,355.3 113.0,355.3 114.2,355.3 115.4,355.3 116.6,355.3 117.7,355.3 118.9,355.3 120.1,355.3 121.3,355.3 122.5,355.3 123.7,355.3 124.9,355.3 126.1,355.3 127.2,355.3 128.4,355.3 129.6,355.3 130.8,355.3 132.0,355.3 133.2,355.3 134.4,355.3 135.6,355.3 136.7,355.3 137.9,355.3 139.1,355.3 140.3,355.3 141.5,355.3 142.7,355.3 143.9,355.3 145.1,355.3 146.2,355.3 147.4,355.3 148.6,355.3 149.8,355.3 151.0,355.3 152.2,355.3 153.4,355.3 154.6,355.3 155.7,355.3 156.9,355.3 158.1,355.3 159.3,355.3 160.5,355.3 161.7,355.3 162.9,355.3 164.1,355.3 165.2,355.3 166.4,355.3 167.6,355.3 168.8,355.3 170.0,355.3 171.2,355.3 172.4,355.3 173.6,355.3 174.7,355.3 175.9,355.3 177.1,355.3 178.3,355.3 179.5,355.3 180.7,355.3 181.9,355.3 183.1,355.3 184.2,355.3 185.4,355.3 186.6,355.3 187.8,355.3 189.0,355.3 190.2,355.3 191.4,355.3 192.6,355.3 193.7,355.3 194.9,355.3 196.1,355.3 197.3,355.3 198.5,355.3 199.7,355.3 200.9,355.3 202.1,355.3 203.2,355.3 204.4,355.3 205.6,355.3 206.8,355.3 208.0,355.3 209.2,355.3 210.4,355.3 211.6,355.3 212.7,355.3 213.9,355.3 215.1,355.3 216.3,355.3 217.5,355.3 218.7,355.3 219.9,355.3 221.1,355.3 222.2,355.3 223.4,355.3 224.6,355.3 225.8,355.3 227.0,355.3 228.2,355.3 229.4,355.3 230.6,355.3 231.7,355.3 232.9,355.3 234.1,355.3 235.3,355.3 236.5,355.3 237.7,355.3 238.9,355.3 240.1,355.3 241.2,355.3 242.4,355.3 243.6,355.3 244.8,355.3 246.0,355.3 247.2,355.3 248.4,355.3 249.6,355.3 250.7,355.3 251.9,355.3 253.1,355.3 254.3,355.3 255.5,355.3 256.7,355.3 257.9,355.3 259.1,355.3 260.2,355.3 261.4,355.3 262.6,355.3 263.8,355.3 265.0,355.3 266.2,355.3 267.4,355.3 268.6,355.3 269.7,355.3 270.9,355.3 272.1,355.3 273.3,355.3 274.5,355.3 275.7,355.3 276.9,355.3 278.1,355.3 279.2,355.3 280.4,355.3 281.6,355.3 282.8,355.3 284.0,355.3 285.2,355.3 286.4,355.3 287.6,355.3 288.7,355.3 289.9,355.3 291.1,355.3 292.3,355.3 293.5,355.3 294.7,355.3 295.9,355.3 297.1,355.3 298.2,355.3 299.4,355.3 300.6,355.3 301.8,355.3 303.0,355.3 304.2,355.3 305.4,355.3 306.6,355.3 307.7,355.3 308.9,355.3 310.1,355.3 311.3,355.3 312.5,355.3 313.7,355.3 314.9,355.3 316.1,355.3 317.2,355.3 318.4,355.3 319.6,355.3 320.8,355.3 322.0,355.3 323.2,355.3 324.4,355.3 325.6,355.3 326.7,355.3 327.9,355.3 329.1,355.3 330.3,355.3 331.5,355.3 332.7,355.3 333.9,355.3 335.1,355.3 336.2,355.3 337.4,355.3 338.6,355.3 339.8,355.3 341.0,355.3 342.2,355.3 343.4,355.3 344.6,355.3 345.7,355.3 346.9,355.3 348.1,355.3 349.3,355.3 350.5,355.3 351.7,355.3 352.9,355.3 354.1,355.3 355.2,355.3 356.4,355.3 357.6,355.3 358.8,355.3 360.0,355.3 361.2,355.3 362.4,355.3 363.6,355.3 364.7,355.3 365.9,355.3 367.1,355.3 368.3,355.3 369.5,355.3 370.7,355.3 371.9,355.3 373.1,355.3 374.2,355.3 375.4,355.3 376.6,355.3 377.8,355.3 379.0,355.3 380.2,355.3 381.4,355.3 382.6,355.3 383.7,355.3 384.9,355.3 386.1,355.3 387.3,355.3 388.5,355.3 389.7,355.3 390.9,355.3 392.1,355.3 393.2,355.3 394.4,355.3 395.6,355.3 396.8,355.3 398.0,355.3 399.2,355.3 400.4,355.3 401.6,355.3 402.7,355.3 403.9,355.3 405.1,355.3 406.3,355.3 407.5,355.3 408.7,355.3 409.9,355.3 411.1,355.3 412.2,355.3 413.4,355.3 414.6,355.3 415.8,355.3 417.0,355.3 418.2,355.3 419.4,355.3 420.6,355.3 421.7,355.3 422.9,355.3 424.1,355.3 425.3,355.3 426.5,355.3 427.7,355.3 428.9,355.3 430.1,355.3 431.2,355.3 432.4,355.3 433.6,355.3 434.8,355.3 436.0,355.3 437.2,355.3 438.4,355.3 439.6,355.3 440.7,355.3 441.9,355.3 443.1,355.3 444.3,355.3 445.5,355.3 446.7,355.3 447.9,355.3 449.1,355.3 450.2,355.3 451.4,355.3 452.6,355.3 453.8,355.3 455.0,355.3 456.2,355.3 457.4,355.3 458.6,355.3 459.7,355.3 460.9,355.3 462.1,355.3 463.3,355.3 464.5,355.3 465.7,355.3 466.9,355.3 468.1,355.3 469.2,355.3 470.4,355.3 471.6,355.3 472.8,355.3 474.0,355.3 475.2,355.3 476.4,355.3 477.6,355.3 478.7,355.3 479.9,355.3 481.1,355.3 482.3,355.3 483.5,355.3 484.7,355.3 485.9,355.3 487.1,355.3 488.2,355.3 489.4,355.3 490.6,355.3 491.8,355.3 493.0,355.3 494.2,355.3 495.4,355.3 496.6,355.3 497.7,355.3 498.9,355.3 500.1,355.3 501.3,355.3 502.5,355.3 503.7,355.3 504.9,355.3 506.1,355.3 507.2,355.3 508.4,355.3 509.6,355.3 510.8,355.3 512.0,355.3 513.2,355.3 514.4,355.3 515.6,355.3 516.7,355.3 517.9,355.3 519.1,355.3 520.3,355.3 521.5,355.3 522.7,355.3 523.9,355.3 525.1,355.3 526.2,355.3 527.4,355.3 528.6,355.3 529.8,355.3 531.0,355.3 532.2,355.3 533.4,355.3 534.6,355.3 535.7,355.3 536.9,355.3 538.1,355.3 539.3,355.3 540.5,355.3 541.7,355.3 542.9,355.3 544.1,355.3 545.2,355.3 546.4,355.3 547.6,355.3 548.8,355.3 550.0,355.3 551.2,355.3 552.4,355.3 553.6,355.3 554.7,355.3 555.9,355.3 557.1,355.3 558.3,355.3 559.5,355.3 560.7,355.3 561.9,355.3 563.1,355.3 564.2,355.3 565.4,355.3 566.6,355.3 567.8,355.3 569.0,355.3 570.2,355.3 571.4,355.3 572.6,355.3 573.7,355.3 574.9,355.3 576.1,355.3 577.3,355.3 578.5,355.3 579.7,355.3 580.9,355.3 582.1,355.3 583.2,355.3 584.4,355.3 585.6,355.3 586.8,355.3 588.0,355.3 589.2,355.3 590.4,355.3 591.6,355.3 592.7,355.3 593.9,355.3 595.1,355.3 596.3,355.3 597.5,355.3 598.7,355.3 599.9,355.3 601.1,355.3 602.2,355.3 603.4,355.3 604.6,355.3 605.8,355.3 607.0,355.3 608.2,355.3 609.4,355.3 610.6,355.3 611.7,355.3 612.9,355.3 614.1,355.3 615.3,355.3 616.5,355.3 617.7,355.3 618.9,355.3 620.1,355.3 621.2,355.3 622.4,355.3 623.6,355.3 624.8,355.3 626.0,355.3 627.2,355.3 628.4,355.3 629.6,355.3 630.7,355.3 631.9,355.3 633.1,355.3 634.3,355.3 635.5,355.3 636.7,355.3 637.9,355.3 639.1,355.3 640.2,355.3 641.4,355.3 642.6,355.3 643.8,355.3 645.0,355.3 646.2,355.3 647.4,355.3 648.6,355.3 649.7,355.3 650.9,355.3 652.1,355.3 653.3,355.3 654.5,355.3 655.7,355.3 656.9,355.3 658.1,355.3 659.2,355.3 660.4,355.3 661.6,355.3 662.8,355.3 664.0,355.3 665.2,355.3 666.4,355.3 667.6,355.3 668.7,355.3 669.9,355.3 671.1,355.3 672.3,355.3 673.5,355.3 674.7,355.3 675.9,355.3 677.1,355.3 678.2,355.3 679.4,355.3 680.6,355.3 681.8,355.3 683.0,355.3 684.2,355.3 685.4,355.3 686.6,355.3 687.7,355.3 688.9,355.3 690.1,355.3 691.3,355.3 692.5,355.3 693.7,355.3 694.9,355.3 696.1,355.3 697.2,355.3 698.4,355.3 699.6,355.3 700.8,355.3 702.0,355.3 703.2,355.3 704.4,355.3 705.6,355.3 706.7,355.3 707.9,355.3 709.1,355.3 710.3,355.3 711.5,355.3 712.7,355.3 713.9,355.3 715.1,355.3 716.2,355.3 717.4,355.3 718.6,355.3 719.8,355.3" fill="none" stroke="#7EB26D" stroke-width="1.15" stroke-linejoin="round"/></svg>
<div class="t" style="left:8.07px;top:347.60px;font-size:15px;line-height:15px;letter-spacing:0.288px;color:#b9bac6;font-weight:400;-webkit-text-stroke:0.2px currentColor;">100%</div>
<div class="t" style="left:16.68px;top:386.48px;font-size:15px;line-height:15px;letter-spacing:0.300px;color:#b9bac6;font-weight:400;-webkit-text-stroke:0.2px currentColor;">80%</div>
<div class="t" style="left:16.68px;top:425.36px;font-size:15px;line-height:15px;letter-spacing:0.300px;color:#b9bac6;font-weight:400;-webkit-text-stroke:0.2px currentColor;">60%</div>
<div class="t" style="left:16.68px;top:464.24px;font-size:15px;line-height:15px;letter-spacing:0.300px;color:#b9bac6;font-weight:400;-webkit-text-stroke:0.2px currentColor;">40%</div>
<div class="t" style="left:16.68px;top:503.12px;font-size:15px;line-height:15px;letter-spacing:0.300px;color:#b9bac6;font-weight:400;-webkit-text-stroke:0.2px currentColor;">20%</div>
<div class="t" style="left:25.30px;top:542.00px;font-size:15px;line-height:15px;letter-spacing:0.325px;color:#b9bac6;font-weight:400;-webkit-text-stroke:0.2px currentColor;">0%</div>
<div class="t" style="left:61.45px;top:559.10px;font-size:15px;line-height:15px;letter-spacing:0.391px;color:#b9bac6;font-weight:400;-webkit-text-stroke:0.2px currentColor;">21:00</div>
<div class="t" style="left:142.80px;top:559.10px;font-size:15px;line-height:15px;letter-spacing:1.191px;color:#b9bac6;font-weight:400;-webkit-text-stroke:0.2px currentColor;">00:00</div>
<div class="t" style="left:225.75px;top:559.10px;font-size:15px;line-height:15px;letter-spacing:1.191px;color:#b9bac6;font-weight:400;-webkit-text-stroke:0.2px currentColor;">03:00</div>
<div class="t" style="left:308.70px;top:559.10px;font-size:15px;line-height:15px;letter-spacing:1.191px;color:#b9bac6;font-weight:400;-webkit-text-stroke:0.2px currentColor;">06:00</div>
<div class="t" style="left:391.65px;top:559.10px;font-size:15px;line-height:15px;letter-spacing:1.191px;color:#b9bac6;font-weight:400;-webkit-text-stroke:0.2px currentColor;">09:00</div>
<div class="t" style="left:476.20px;top:559.10px;font-size:15px;line-height:15px;letter-spacing:0.391px;color:#b9bac6;font-weight:400;-webkit-text-stroke:0.2px currentColor;">12:00</div>
<div class="t" style="left:559.15px;top:559.10px;font-size:15px;line-height:15px;letter-spacing:0.391px;color:#b9bac6;font-weight:400;-webkit-text-stroke:0.2px currentColor;">15:00</div>
<div class="t" style="left:642.10px;top:559.10px;font-size:15px;line-height:15px;letter-spacing:0.391px;color:#b9bac6;font-weight:400;-webkit-text-stroke:0.2px currentColor;">18:00</div>
<div class="a" style="left:9.0px;top:590.6px;width:17.5px;height:5px;border-radius:2.5px;background:#EAB839"></div>
<div class="t" style="left:36.80px;top:585.30px;font-size:15px;line-height:15px;letter-spacing:0.616px;color:#ccccdc;font-weight:400;-webkit-text-stroke:0.2px currentColor;">Busy System</div>
<div class="a" style="left:143.2px;top:590.6px;width:17.5px;height:5px;border-radius:2.5px;background:#16508f"></div>
<div class="t" style="left:170.80px;top:585.30px;font-size:15px;line-height:15px;letter-spacing:0.435px;color:#ccccdc;font-weight:400;-webkit-text-stroke:0.2px currentColor;">Busy User</div>
<div class="a" style="left:257.0px;top:590.6px;width:17.5px;height:5px;border-radius:2.5px;background:#9a1a10"></div>
<div class="t" style="left:284.60px;top:585.30px;font-size:15px;line-height:15px;letter-spacing:0.518px;color:#ccccdc;font-weight:400;-webkit-text-stroke:0.2px currentColor;">Busy Iowait</div>
<div class="a" style="left:380.0px;top:590.6px;width:17.5px;height:5px;border-radius:2.5px;background:#FF780A"></div>
<div class="t" style="left:408.00px;top:585.30px;font-size:15px;line-height:15px;letter-spacing:0.091px;color:#ccccdc;font-weight:400;-webkit-text-stroke:0.2px currentColor;">Busy IRQs</div>
<div class="a" style="left:494.3px;top:590.6px;width:17.5px;height:5px;border-radius:2.5px;background:#7A2170"></div>
<div class="t" style="left:521.50px;top:585.30px;font-size:15px;line-height:15px;letter-spacing:0.416px;color:#ccccdc;font-weight:400;-webkit-text-stroke:0.2px currentColor;">Busy Other</div>
<div class="a" style="left:614.3px;top:590.6px;width:17.5px;height:5px;border-radius:2.5px;background:#7EB26D"></div>
<div class="t" style="left:641.70px;top:585.30px;font-size:15px;line-height:15px;letter-spacing:0.278px;color:#ccccdc;font-weight:400;-webkit-text-stroke:0.2px currentColor;">Idle</div>
<svg class="a" style="left:760px;top:340px" width="757" height="230" viewBox="760 340 757 230"><line x1="818.0" x2="1477.5" y1="357.3" y2="357.3" stroke="rgba(204,204,220,0.10)" stroke-width="1.2"/><line x1="818.0" x2="1477.5" y1="421.2" y2="421.2" stroke="rgba(204,204,220,0.10)" stroke-width="1.2"/><line x1="818.0" x2="1477.5" y1="485.2" y2="485.2" stroke="rgba(204,204,220,0.10)" stroke-width="1.2"/><line x1="818.0" x2="1477.5" y1="549.1" y2="549.1" stroke="rgba(204,204,220,0.10)" stroke-width="1.2"/><line x1="843.7" x2="843.7" y1="357.3" y2="554.1" stroke="rgba(204,204,220,0.10)" stroke-width="1.2"/><line x1="926.1" x2="926.1" y1="357.3" y2="554.1" stroke="rgba(204,204,220,0.10)" stroke-width="1.2"/><line x1="1008.5" x2="1008.5" y1="357.3" y2="554.1" stroke="rgba(204,204,220,0.10)" stroke-width="1.2"/><line x1="1090.9" x2="1090.9" y1="357.3" y2="554.1" stroke="rgba(204,204,220,0.10)" stroke-width="1.2"/><line x1="1173.3" x2="1173.3" y1="357.3" y2="554.1" stroke="rgba(204,204,220,0.10)" stroke-width="1.2"/><line x1="1255.7" x2="1255.7" y1="357.3" y2="554.1" stroke="rgba(204,204,220,0.10)" stroke-width="1.2"/><line x1="1338.1" x2="1338.1" y1="357.3" y2="554.1" stroke="rgba(204,204,220,0.10)" stroke-width="1.2"/><line x1="1420.5" x2="1420.5" y1="357.3" y2="554.1" stroke="rgba(204,204,220,0.10)" stroke-width="1.2"/><polygon points="818.0,477.2 819.2,477.2 820.5,477.0 821.7,476.7 823.0,476.6 824.2,476.8 825.5,477.1 826.7,477.0 828.0,476.6 829.2,476.5 830.5,476.8 831.7,477.2 833.0,477.0 834.2,476.8 835.5,476.9 836.7,477.2 837.9,477.4 839.2,477.2 840.4,477.3 841.7,477.2 842.9,477.0 844.2,477.0 845.4,476.9 846.7,477.0 847.9,476.8 849.2,477.0 850.4,477.1 851.7,477.4 852.9,477.2 854.2,477.3 855.4,477.2 856.6,477.2 857.9,477.0 859.1,477.2 860.4,477.3 861.6,477.4 862.9,477.4 864.1,477.3 865.4,477.3 866.6,476.9 867.9,476.9 869.1,477.0 870.4,477.2 871.6,477.5 872.9,477.1 874.1,477.2 875.3,477.3 876.6,477.4 877.8,477.4 879.1,477.0 880.3,477.1 881.6,477.0 882.8,477.3 884.1,477.2 885.3,477.4 886.6,477.0 887.8,476.9 889.1,476.3 890.3,476.5 891.6,476.4 892.8,476.7 894.0,476.9 895.3,477.0 896.5,477.0 897.8,476.9 899.0,476.9 900.3,477.1 901.5,477.0 902.8,477.1 904.0,477.1 905.3,477.1 906.5,477.1 907.8,477.2 909.0,477.1 910.3,477.3 911.5,477.4 912.7,477.7 914.0,477.4 915.2,477.2 916.5,477.2 917.7,477.5 919.0,477.4 920.2,477.4 921.5,477.5 922.7,477.4 924.0,477.5 925.2,477.3 926.5,477.4 927.7,477.3 929.0,477.2 930.2,477.0 931.4,477.1 932.7,478.1 933.9,479.6 935.2,480.5 936.4,482.4 937.7,485.0 938.9,487.9 940.2,490.2 941.4,491.0 942.7,491.7 943.9,492.2 945.2,492.8 946.4,493.3 947.7,493.7 948.9,494.2 950.1,495.1 951.4,495.5 952.6,495.7 953.9,495.7 955.1,496.0 956.4,496.1 957.6,496.2 958.9,496.6 960.1,496.9 961.4,496.9 962.6,496.8 963.9,496.8 965.1,496.9 966.4,496.9 967.6,497.2 968.8,497.3 970.1,497.8 971.3,497.9 972.6,498.2 973.8,498.3 975.1,498.2 976.3,498.3 977.6,498.4 978.8,498.5 980.1,498.5 981.3,498.5 982.6,498.7 983.8,498.8 985.1,498.8 986.3,498.9 987.6,499.1 988.8,499.5 990.0,499.9 991.3,500.1 992.5,500.2 993.8,500.1 995.0,500.0 996.3,500.2 997.5,500.7 998.8,500.8 1000.0,500.8 1001.3,500.9 1002.5,501.1 1003.8,501.4 1005.0,501.7 1006.3,502.2 1007.5,502.4 1008.7,502.0 1010.0,502.2 1011.2,502.3 1012.5,502.8 1013.7,502.8 1015.0,503.1 1016.2,503.2 1017.5,503.0 1018.7,502.6 1020.0,502.8 1021.2,503.0 1022.5,503.0 1023.7,502.9 1025.0,502.8 1026.2,503.0 1027.4,502.5 1028.7,502.2 1029.9,502.0 1031.2,502.1 1032.4,502.0 1033.7,502.1 1034.9,502.3 1036.2,502.5 1037.4,501.9 1038.7,501.8 1039.9,501.7 1041.2,501.8 1042.4,501.4 1043.7,501.0 1044.9,501.0 1046.1,501.4 1047.4,501.3 1048.6,501.3 1049.9,501.2 1051.1,501.5 1052.4,501.2 1053.6,500.9 1054.9,500.8 1056.1,501.0 1057.4,501.0 1058.6,501.0 1059.9,500.5 1061.1,500.5 1062.4,500.7 1063.6,501.1 1064.8,500.8 1066.1,500.7 1067.3,500.8 1068.6,501.0 1069.8,500.9 1071.1,500.3 1072.3,500.3 1073.6,500.2 1074.8,500.2 1076.1,500.1 1077.3,500.2 1078.6,499.9 1079.8,499.5 1081.1,499.3 1082.3,499.5 1083.5,499.5 1084.8,499.6 1086.0,499.6 1087.3,499.9 1088.5,499.8 1089.8,499.8 1091.0,499.1 1092.3,499.1 1093.5,498.9 1094.8,499.1 1096.0,499.1 1097.3,499.1 1098.5,499.6 1099.8,499.5 1101.0,499.6 1102.2,499.6 1103.5,499.7 1104.7,499.7 1106.0,499.3 1107.2,499.3 1108.5,499.5 1109.7,499.5 1111.0,499.2 1112.2,499.0 1113.5,499.0 1114.7,499.2 1116.0,499.2 1117.2,498.9 1118.5,498.8 1119.7,498.6 1120.9,498.8 1122.2,499.1 1123.4,499.3 1124.7,499.1 1125.9,498.9 1127.2,498.9 1128.4,499.2 1129.7,499.2 1130.9,499.1 1132.2,498.8 1133.4,498.9 1134.7,498.8 1135.9,498.6 1137.2,498.4 1138.4,498.3 1139.6,498.1 1140.9,498.1 1142.1,498.3 1143.4,498.5 1144.6,498.5 1145.9,498.5 1147.1,498.3 1148.4,498.2 1149.6,498.3 1150.9,498.6 1152.1,498.6 1153.4,498.4 1154.6,498.0 1155.9,498.4 1157.1,498.1 1158.3,498.1 1159.6,497.8 1160.8,498.2 1162.1,498.2 1163.3,498.2 1164.6,498.2 1165.8,498.3 1167.1,498.1 1168.3,498.0 1169.6,497.8 1170.8,498.0 1172.1,498.3 1173.3,498.2 1174.6,498.3 1175.8,497.9 1177.0,497.9 1178.3,498.0 1179.5,497.8 1180.8,497.9 1182.0,497.8 1183.3,498.1 1184.5,497.9 1185.8,497.6 1187.0,497.5 1188.3,497.7 1189.5,497.6 1190.8,497.7 1192.0,497.2 1193.3,497.4 1194.5,497.3 1195.7,497.5 1197.0,497.4 1198.2,497.1 1199.5,497.0 1200.7,496.9 1202.0,496.7 1203.2,496.6 1204.5,496.9 1205.7,497.4 1207.0,497.5 1208.2,497.4 1209.5,497.3 1210.7,497.3 1212.0,497.1 1213.2,497.3 1214.4,497.3 1215.7,497.0 1216.9,496.4 1218.2,496.1 1219.4,496.3 1220.7,496.1 1221.9,496.1 1223.2,496.1 1224.4,496.6 1225.7,496.6 1226.9,496.7 1228.2,496.6 1229.4,496.7 1230.7,496.5 1231.9,496.4 1233.1,496.1 1234.4,496.3 1235.6,496.2 1236.9,496.0 1238.1,495.8 1239.4,495.5 1240.6,495.6 1241.9,495.4 1243.1,495.4 1244.4,495.8 1245.6,496.0 1246.9,496.1 1248.1,496.1 1249.4,496.1 1250.6,496.2 1251.8,496.2 1253.1,496.1 1254.3,495.8 1255.6,495.6 1256.8,495.8 1258.1,495.8 1259.3,495.8 1260.6,495.6 1261.8,495.5 1263.1,495.5 1264.3,495.3 1265.6,495.2 1266.8,495.0 1268.1,495.2 1269.3,495.3 1270.5,495.3 1271.8,495.1 1273.0,495.0 1274.3,495.5 1275.5,495.8 1276.8,495.7 1278.0,495.2 1279.3,494.5 1280.5,494.4 1281.8,494.4 1283.0,494.6 1284.3,469.4 1285.5,461.9 1286.8,460.8 1288.0,459.5 1289.2,459.5 1290.5,459.3 1291.7,459.2 1293.0,459.3 1294.2,459.3 1295.5,459.6 1296.7,473.7 1298.0,477.0 1299.2,476.8 1300.5,476.5 1301.7,476.5 1303.0,476.2 1304.2,476.2 1305.5,476.3 1306.7,476.3 1307.9,476.1 1309.2,475.9 1310.4,475.9 1311.7,476.1 1312.9,475.8 1314.2,475.9 1315.4,475.4 1316.7,475.4 1317.9,475.4 1319.2,475.3 1320.4,474.9 1321.7,474.5 1322.9,474.6 1324.2,474.7 1325.4,474.8 1326.7,474.8 1327.9,474.6 1329.1,474.4 1330.4,474.5 1331.6,474.8 1332.9,474.9 1334.1,474.8 1335.4,474.5 1336.6,474.6 1337.9,474.8 1339.1,474.9 1340.4,474.7 1341.6,474.6 1342.9,475.0 1344.1,475.2 1345.4,475.4 1346.6,475.1 1347.8,475.4 1349.1,475.1 1350.3,475.1 1351.6,474.8 1352.8,475.2 1354.1,475.2 1355.3,475.1 1356.6,475.2 1357.8,475.2 1359.1,475.3 1360.3,475.1 1361.6,475.1 1362.8,475.3 1364.1,475.0 1365.3,475.0 1366.5,475.0 1367.8,474.9 1369.0,474.9 1370.3,474.8 1371.5,475.3 1372.8,475.6 1374.0,475.7 1375.3,475.4 1376.5,475.4 1377.8,475.4 1379.0,475.8 1380.3,475.8 1381.5,476.1 1382.8,476.0 1384.0,476.1 1385.2,476.1 1386.5,476.2 1387.7,475.8 1389.0,475.9 1390.2,476.1 1391.5,476.2 1392.7,476.2 1394.0,475.9 1395.2,476.0 1396.5,476.0 1397.7,476.3 1399.0,476.1 1400.2,476.0 1401.5,476.0 1402.7,476.3 1403.9,476.7 1405.2,477.0 1406.4,476.8 1407.7,476.5 1408.9,476.3 1410.2,476.5 1411.4,476.8 1412.7,476.8 1413.9,477.1 1415.2,477.0 1416.4,477.2 1417.7,477.2 1418.9,477.2 1420.2,477.2 1421.4,477.1 1422.6,477.1 1423.9,477.1 1425.1,477.0 1426.4,477.4 1427.6,477.8 1428.9,477.9 1430.1,477.6 1431.4,477.1 1432.6,477.1 1433.9,477.2 1435.1,477.7 1436.4,477.8 1437.6,477.8 1438.9,477.9 1440.1,478.2 1441.3,478.4 1442.6,478.3 1443.8,478.6 1445.1,478.7 1446.3,478.7 1447.6,478.3 1448.8,478.4 1450.1,478.4 1451.3,478.6 1452.6,478.6 1453.8,478.8 1455.1,478.8 1456.3,478.9 1457.6,478.7 1458.8,478.8 1460.0,479.2 1461.3,479.7 1462.5,479.2 1463.8,479.1 1465.0,478.9 1466.3,479.3 1467.5,479.5 1468.8,479.9 1470.0,479.8 1471.3,479.6 1472.5,479.7 1473.8,479.9 1475.0,480.2 1476.3,480.0 1477.5,480.0 1477.5,549.1 1476.3,549.1 1475.0,549.1 1473.8,549.1 1472.5,549.1 1471.3,549.1 1470.0,549.1 1468.8,549.1 1467.5,549.1 1466.3,549.1 1465.0,549.1 1463.8,549.1 1462.5,549.1 1461.3,549.1 1460.0,549.1 1458.8,549.1 1457.6,549.1 1456.3,549.1 1455.1,549.1 1453.8,549.1 1452.6,549.1 1451.3,549.1 1450.1,549.1 1448.8,549.1 1447.6,549.1 1446.3,549.1 1445.1,549.1 1443.8,549.1 1442.6,549.1 1441.3,549.1 1440.1,549.1 1438.9,549.1 1437.6,549.1 1436.4,549.1 1435.1,549.1 1433.9,549.1 1432.6,549.1 1431.4,549.1 1430.1,549.1 1428.9,549.1 1427.6,549.1 1426.4,549.1 1425.1,549.1 1423.9,549.1 1422.6,549.1 1421.4,549.1 1420.2,549.1 1418.9,549.1 1417.7,549.1 1416.4,549.1 1415.2,549.1 1413.9,549.1 1412.7,549.1 1411.4,549.1 1410.2,549.1 1408.9,549.1 1407.7,549.1 1406.4,549.1 1405.2,549.1 1403.9,549.1 1402.7,549.1 1401.5,549.1 1400.2,549.1 1399.0,549.1 1397.7,549.1 1396.5,549.1 1395.2,549.1 1394.0,549.1 1392.7,549.1 1391.5,549.1 1390.2,549.1 1389.0,549.1 1387.7,549.1 1386.5,549.1 1385.2,549.1 1384.0,549.1 1382.8,549.1 1381.5,549.1 1380.3,549.1 1379.0,549.1 1377.8,549.1 1376.5,549.1 1375.3,549.1 1374.0,549.1 1372.8,549.1 1371.5,549.1 1370.3,549.1 1369.0,549.1 1367.8,549.1 1366.5,549.1 1365.3,549.1 1364.1,549.1 1362.8,549.1 1361.6,549.1 1360.3,549.1 1359.1,549.1 1357.8,549.1 1356.6,549.1 1355.3,549.1 1354.1,549.1 1352.8,549.1 1351.6,549.1 1350.3,549.1 1349.1,549.1 1347.8,549.1 1346.6,549.1 1345.4,549.1 1344.1,549.1 1342.9,549.1 1341.6,549.1 1340.4,549.1 1339.1,549.1 1337.9,549.1 1336.6,549.1 1335.4,549.1 1334.1,549.1 1332.9,549.1 1331.6,549.1 1330.4,549.1 1329.1,549.1 1327.9,549.1 1326.7,549.1 1325.4,549.1 1324.2,549.1 1322.9,549.1 1321.7,549.1 1320.4,549.1 1319.2,549.1 1317.9,549.1 1316.7,549.1 1315.4,549.1 1314.2,549.1 1312.9,549.1 1311.7,549.1 1310.4,549.1 1309.2,549.1 1307.9,549.1 1306.7,549.1 1305.5,549.1 1304.2,549.1 1303.0,549.1 1301.7,549.1 1300.5,549.1 1299.2,549.1 1298.0,549.1 1296.7,549.1 1295.5,549.1 1294.2,549.1 1293.0,549.1 1291.7,549.1 1290.5,549.1 1289.2,549.1 1288.0,549.1 1286.8,549.1 1285.5,549.1 1284.3,549.1 1283.0,549.1 1281.8,549.1 1280.5,549.1 1279.3,549.1 1278.0,549.1 1276.8,549.1 1275.5,549.1 1274.3,549.1 1273.0,549.1 1271.8,549.1 1270.5,549.1 1269.3,549.1 1268.1,549.1 1266.8,549.1 1265.6,549.1 1264.3,549.1 1263.1,549.1 1261.8,549.1 1260.6,549.1 1259.3,549.1 1258.1,549.1 1256.8,549.1 1255.6,549.1 1254.3,549.1 1253.1,549.1 1251.8,549.1 1250.6,549.1 1249.4,549.1 1248.1,549.1 1246.9,549.1 1245.6,549.1 1244.4,549.1 1243.1,549.1 1241.9,549.1 1240.6,549.1 1239.4,549.1 1238.1,549.1 1236.9,549.1 1235.6,549.1 1234.4,549.1 1233.1,549.1 1231.9,549.1 1230.7,549.1 1229.4,549.1 1228.2,549.1 1226.9,549.1 1225.7,549.1 1224.4,549.1 1223.2,549.1 1221.9,549.1 1220.7,549.1 1219.4,549.1 1218.2,549.1 1216.9,549.1 1215.7,549.1 1214.4,549.1 1213.2,549.1 1212.0,549.1 1210.7,549.1 1209.5,549.1 1208.2,549.1 1207.0,549.1 1205.7,549.1 1204.5,549.1 1203.2,549.1 1202.0,549.1 1200.7,549.1 1199.5,549.1 1198.2,549.1 1197.0,549.1 1195.7,549.1 1194.5,549.1 1193.3,549.1 1192.0,549.1 1190.8,549.1 1189.5,549.1 1188.3,549.1 1187.0,549.1 1185.8,549.1 1184.5,549.1 1183.3,549.1 1182.0,549.1 1180.8,549.1 1179.5,549.1 1178.3,549.1 1177.0,549.1 1175.8,549.1 1174.6,549.1 1173.3,549.1 1172.1,549.1 1170.8,549.1 1169.6,549.1 1168.3,549.1 1167.1,549.1 1165.8,549.1 1164.6,549.1 1163.3,549.1 1162.1,549.1 1160.8,549.1 1159.6,549.1 1158.3,549.1 1157.1,549.1 1155.9,549.1 1154.6,549.1 1153.4,549.1 1152.1,549.1 1150.9,549.1 1149.6,549.1 1148.4,549.1 1147.1,549.1 1145.9,549.1 1144.6,549.1 1143.4,549.1 1142.1,549.1 1140.9,549.1 1139.6,549.1 1138.4,549.1 1137.2,549.1 1135.9,549.1 1134.7,549.1 1133.4,549.1 1132.2,549.1 1130.9,549.1 1129.7,549.1 1128.4,549.1 1127.2,549.1 1125.9,549.1 1124.7,549.1 1123.4,549.1 1122.2,549.1 1120.9,549.1 1119.7,549.1 1118.5,549.1 1117.2,549.1 1116.0,549.1 1114.7,549.1 1113.5,549.1 1112.2,549.1 1111.0,549.1 1109.7,549.1 1108.5,549.1 1107.2,549.1 1106.0,549.1 1104.7,549.1 1103.5,549.1 1102.2,549.1 1101.0,549.1 1099.8,549.1 1098.5,549.1 1097.3,549.1 1096.0,549.1 1094.8,549.1 1093.5,549.1 1092.3,549.1 1091.0,549.1 1089.8,549.1 1088.5,549.1 1087.3,549.1 1086.0,549.1 1084.8,549.1 1083.5,549.1 1082.3,549.1 1081.1,549.1 1079.8,549.1 1078.6,549.1 1077.3,549.1 1076.1,549.1 1074.8,549.1 1073.6,549.1 1072.3,549.1 1071.1,549.1 1069.8,549.1 1068.6,549.1 1067.3,549.1 1066.1,549.1 1064.8,549.1 1063.6,549.1 1062.4,549.1 1061.1,549.1 1059.9,549.1 1058.6,549.1 1057.4,549.1 1056.1,549.1 1054.9,549.1 1053.6,549.1 1052.4,549.1 1051.1,549.1 1049.9,549.1 1048.6,549.1 1047.4,549.1 1046.1,549.1 1044.9,549.1 1043.7,549.1 1042.4,549.1 1041.2,549.1 1039.9,549.1 1038.7,549.1 1037.4,549.1 1036.2,549.1 1034.9,549.1 1033.7,549.1 1032.4,549.1 1031.2,549.1 1029.9,549.1 1028.7,549.1 1027.4,549.1 1026.2,549.1 1025.0,549.1 1023.7,549.1 1022.5,549.1 1021.2,549.1 1020.0,549.1 1018.7,549.1 1017.5,549.1 1016.2,549.1 1015.0,549.1 1013.7,549.1 1012.5,549.1 1011.2,549.1 1010.0,549.1 1008.7,549.1 1007.5,549.1 1006.3,549.1 1005.0,549.1 1003.8,549.1 1002.5,549.1 1001.3,549.1 1000.0,549.1 998.8,549.1 997.5,549.1 996.3,549.1 995.0,549.1 993.8,549.1 992.5,549.1 991.3,549.1 990.0,549.1 988.8,549.1 987.6,549.1 986.3,549.1 985.1,549.1 983.8,549.1 982.6,549.1 981.3,549.1 980.1,549.1 978.8,549.1 977.6,549.1 976.3,549.1 975.1,549.1 973.8,549.1 972.6,549.1 971.3,549.1 970.1,549.1 968.8,549.1 967.6,549.1 966.4,549.1 965.1,549.1 963.9,549.1 962.6,549.1 961.4,549.1 960.1,549.1 958.9,549.1 957.6,549.1 956.4,549.1 955.1,549.1 953.9,549.1 952.6,549.1 951.4,549.1 950.1,549.1 948.9,549.1 947.7,549.1 946.4,549.1 945.2,549.1 943.9,549.1 942.7,549.1 941.4,549.1 940.2,549.1 938.9,549.1 937.7,549.1 936.4,549.1 935.2,549.1 933.9,549.1 932.7,549.1 931.4,549.1 930.2,549.1 929.0,549.1 927.7,549.1 926.5,549.1 925.2,549.1 924.0,549.1 922.7,549.1 921.5,549.1 920.2,549.1 919.0,549.1 917.7,549.1 916.5,549.1 915.2,549.1 914.0,549.1 912.7,549.1 911.5,549.1 910.3,549.1 909.0,549.1 907.8,549.1 906.5,549.1 905.3,549.1 904.0,549.1 902.8,549.1 901.5,549.1 900.3,549.1 899.0,549.1 897.8,549.1 896.5,549.1 895.3,549.1 894.0,549.1 892.8,549.1 891.6,549.1 890.3,549.1 889.1,549.1 887.8,549.1 886.6,549.1 885.3,549.1 884.1,549.1 882.8,549.1 881.6,549.1 880.3,549.1 879.1,549.1 877.8,549.1 876.6,549.1 875.3,549.1 874.1,549.1 872.9,549.1 871.6,549.1 870.4,549.1 869.1,549.1 867.9,549.1 866.6,549.1 865.4,549.1 864.1,549.1 862.9,549.1 861.6,549.1 860.4,549.1 859.1,549.1 857.9,549.1 856.6,549.1 855.4,549.1 854.2,549.1 852.9,549.1 851.7,549.1 850.4,549.1 849.2,549.1 847.9,549.1 846.7,549.1 845.4,549.1 844.2,549.1 842.9,549.1 841.7,549.1 840.4,549.1 839.2,549.1 837.9,549.1 836.7,549.1 835.5,549.1 834.2,549.1 833.0,549.1 831.7,549.1 830.5,549.1 829.2,549.1 828.0,549.1 826.7,549.1 825.5,549.1 824.2,549.1 823.0,549.1 821.7,549.1 820.5,549.1 819.2,549.1 818.0,549.1" fill="#F2CC0C" fill-opacity="0.42"/><polygon points="818.0,436.3 819.2,436.1 820.5,436.1 821.7,436.1 823.0,436.4 824.2,436.6 825.5,436.6 826.7,436.5 828.0,436.4 829.2,436.8 830.5,437.0 831.7,437.0 833.0,436.7 834.2,436.6 835.5,436.7 836.7,437.0 837.9,436.9 839.2,436.8 840.4,436.4 841.7,436.5 842.9,436.6 844.2,436.9 845.4,436.8 846.7,436.7 847.9,436.6 849.2,436.7 850.4,436.9 851.7,436.9 852.9,437.3 854.2,437.3 855.4,437.2 856.6,437.1 857.9,437.2 859.1,437.6 860.4,437.4 861.6,437.2 862.9,436.9 864.1,437.1 865.4,437.2 866.6,437.3 867.9,437.3 869.1,437.3 870.4,437.3 871.6,437.3 872.9,437.1 874.1,437.4 875.3,437.4 876.6,437.7 877.8,437.7 879.1,438.1 880.3,438.0 881.6,438.1 882.8,438.0 884.1,438.1 885.3,438.1 886.6,438.1 887.8,438.2 889.1,438.1 890.3,438.1 891.6,438.2 892.8,438.3 894.0,438.5 895.3,438.4 896.5,438.6 897.8,438.6 899.0,438.8 900.3,438.8 901.5,438.9 902.8,438.8 904.0,438.7 905.3,439.0 906.5,439.0 907.8,439.3 909.0,439.4 910.3,439.6 911.5,439.7 912.7,439.7 914.0,439.7 915.2,439.4 916.5,437.3 917.7,435.4 919.0,435.2 920.2,435.4 921.5,435.2 922.7,435.0 924.0,434.9 925.2,434.9 926.5,435.1 927.7,435.5 929.0,435.5 930.2,435.6 931.4,435.3 932.7,435.4 933.9,435.2 935.2,435.0 936.4,434.9 937.7,434.9 938.9,435.2 940.2,435.2 941.4,435.3 942.7,435.4 943.9,435.2 945.2,435.4 946.4,435.4 947.7,435.4 948.9,435.1 950.1,435.1 951.4,435.3 952.6,435.2 953.9,435.1 955.1,435.3 956.4,435.7 957.6,435.5 958.9,435.2 960.1,435.1 961.4,435.2 962.6,435.2 963.9,435.3 965.1,435.6 966.4,435.6 967.6,435.7 968.8,435.6 970.1,435.4 971.3,435.2 972.6,435.2 973.8,435.4 975.1,435.4 976.3,435.3 977.6,435.5 978.8,435.5 980.1,435.4 981.3,435.2 982.6,435.3 983.8,435.6 985.1,435.9 986.3,435.9 987.6,435.7 988.8,435.5 990.0,435.5 991.3,435.7 992.5,435.7 993.8,435.6 995.0,435.6 996.3,435.7 997.5,435.6 998.8,435.4 1000.0,435.4 1001.3,435.5 1002.5,435.6 1003.8,435.7 1005.0,435.7 1006.3,435.9 1007.5,435.7 1008.7,435.7 1010.0,435.7 1011.2,435.7 1012.5,442.3 1013.7,448.9 1015.0,440.2 1016.2,438.6 1017.5,442.5 1018.7,446.1 1020.0,452.1 1021.2,461.2 1022.5,469.3 1023.7,471.1 1025.0,472.7 1026.2,471.8 1027.4,470.9 1028.7,469.7 1029.9,468.8 1031.2,467.4 1032.4,466.5 1033.7,465.6 1034.9,465.4 1036.2,464.9 1037.4,464.5 1038.7,464.3 1039.9,464.1 1041.2,463.5 1042.4,462.9 1043.7,462.4 1044.9,462.1 1046.1,461.7 1047.4,461.2 1048.6,460.6 1049.9,460.1 1051.1,460.1 1052.4,460.0 1053.6,459.7 1054.9,459.4 1056.1,459.0 1057.4,458.8 1058.6,458.7 1059.9,458.7 1061.1,458.5 1062.4,458.1 1063.6,457.7 1064.8,457.6 1066.1,457.5 1067.3,457.4 1068.6,457.0 1069.8,456.6 1071.1,456.6 1072.3,456.5 1073.6,456.4 1074.8,456.1 1076.1,455.7 1077.3,455.2 1078.6,455.1 1079.8,455.1 1081.1,455.1 1082.3,455.0 1083.5,454.9 1084.8,454.7 1086.0,454.6 1087.3,454.5 1088.5,454.3 1089.8,454.2 1091.0,454.0 1092.3,453.9 1093.5,453.8 1094.8,453.3 1096.0,453.2 1097.3,453.0 1098.5,453.1 1099.8,453.1 1101.0,452.8 1102.2,452.7 1103.5,452.4 1104.7,452.6 1106.0,452.3 1107.2,452.2 1108.5,451.8 1109.7,451.7 1111.0,451.5 1112.2,451.5 1113.5,451.4 1114.7,451.4 1116.0,451.0 1117.2,450.7 1118.5,450.6 1119.7,450.6 1120.9,450.5 1122.2,450.5 1123.4,450.7 1124.7,450.8 1125.9,450.7 1127.2,450.3 1128.4,450.2 1129.7,450.1 1130.9,449.9 1132.2,449.6 1133.4,449.4 1134.7,449.2 1135.9,449.1 1137.2,449.0 1138.4,449.0 1139.6,448.9 1140.9,449.0 1142.1,448.9 1143.4,448.6 1144.6,448.2 1145.9,448.2 1147.1,448.0 1148.4,448.0 1149.6,448.0 1150.9,448.1 1152.1,447.9 1153.4,447.8 1154.6,447.6 1155.9,447.4 1157.1,447.0 1158.3,447.0 1159.6,446.9 1160.8,447.0 1162.1,446.6 1163.3,446.7 1164.6,446.6 1165.8,446.5 1167.1,446.3 1168.3,446.4 1169.6,446.3 1170.8,446.1 1172.1,445.9 1173.3,445.5 1174.6,445.6 1175.8,445.5 1177.0,445.6 1178.3,445.4 1179.5,445.4 1180.8,445.3 1182.0,445.4 1183.3,445.4 1184.5,445.2 1185.8,444.8 1187.0,444.5 1188.3,444.5 1189.5,444.6 1190.8,444.6 1192.0,444.4 1193.3,444.2 1194.5,444.0 1195.7,443.9 1197.0,443.9 1198.2,444.1 1199.5,444.0 1200.7,444.0 1202.0,443.7 1203.2,443.5 1204.5,443.4 1205.7,443.3 1207.0,443.3 1208.2,442.8 1209.5,442.6 1210.7,442.7 1212.0,442.7 1213.2,442.6 1214.4,442.4 1215.7,442.3 1216.9,442.2 1218.2,442.0 1219.4,441.8 1220.7,441.9 1221.9,441.9 1223.2,442.0 1224.4,441.9 1225.7,441.8 1226.9,441.7 1228.2,441.5 1229.4,441.0 1230.7,440.8 1231.9,440.7 1233.1,441.1 1234.4,441.1 1235.6,441.1 1236.9,441.0 1238.1,440.7 1239.4,440.5 1240.6,440.1 1241.9,439.7 1243.1,439.5 1244.4,439.4 1245.6,439.6 1246.9,439.6 1248.1,439.6 1249.4,439.5 1250.6,439.2 1251.8,439.1 1253.1,439.1 1254.3,439.2 1255.6,439.2 1256.8,438.9 1258.1,438.6 1259.3,438.4 1260.6,438.1 1261.8,438.1 1263.1,437.9 1264.3,437.9 1265.6,437.7 1266.8,437.9 1268.1,437.7 1269.3,437.8 1270.5,437.6 1271.8,437.6 1273.0,437.4 1274.3,437.0 1275.5,437.0 1276.8,437.0 1278.0,437.1 1279.3,437.1 1280.5,436.8 1281.8,437.2 1283.0,437.7 1284.3,438.5 1285.5,437.6 1286.8,436.2 1288.0,435.6 1289.2,435.7 1290.5,435.7 1291.7,435.5 1293.0,435.5 1294.2,435.6 1295.5,435.9 1296.7,441.0 1298.0,450.9 1299.2,452.1 1300.5,450.9 1301.7,449.6 1303.0,448.0 1304.2,446.8 1305.5,445.9 1306.7,444.9 1307.9,443.9 1309.2,442.9 1310.4,442.4 1311.7,442.0 1312.9,441.6 1314.2,441.0 1315.4,440.8 1316.7,440.2 1317.9,439.7 1319.2,439.1 1320.4,438.9 1321.7,438.7 1322.9,438.4 1324.2,438.2 1325.4,437.9 1326.7,438.0 1327.9,437.7 1329.1,437.7 1330.4,437.5 1331.6,437.4 1332.9,437.1 1334.1,437.1 1335.4,437.3 1336.6,437.4 1337.9,437.4 1339.1,437.1 1340.4,437.1 1341.6,437.0 1342.9,436.9 1344.1,436.6 1345.4,436.6 1346.6,436.4 1347.8,436.3 1349.1,436.5 1350.3,436.5 1351.6,436.5 1352.8,436.4 1354.1,436.5 1355.3,436.5 1356.6,436.4 1357.8,436.4 1359.1,436.2 1360.3,436.2 1361.6,436.3 1362.8,436.5 1364.1,436.5 1365.3,436.5 1366.5,436.4 1367.8,436.5 1369.0,436.3 1370.3,436.3 1371.5,436.2 1372.8,436.3 1374.0,436.3 1375.3,436.5 1376.5,436.5 1377.8,436.5 1379.0,436.6 1380.3,436.9 1381.5,436.8 1382.8,436.7 1384.0,436.4 1385.2,436.6 1386.5,436.6 1387.7,436.6 1389.0,436.5 1390.2,436.4 1391.5,436.4 1392.7,436.5 1394.0,436.6 1395.2,436.7 1396.5,436.6 1397.7,436.8 1399.0,436.8 1400.2,436.8 1401.5,436.6 1402.7,436.6 1403.9,436.6 1405.2,436.5 1406.4,436.4 1407.7,436.5 1408.9,436.5 1410.2,436.7 1411.4,436.9 1412.7,437.0 1413.9,437.0 1415.2,436.8 1416.4,436.5 1417.7,436.6 1418.9,436.5 1420.2,436.6 1421.4,436.6 1422.6,436.4 1423.9,436.6 1425.1,436.6 1426.4,436.7 1427.6,436.5 1428.9,436.4 1430.1,436.4 1431.4,436.5 1432.6,436.7 1433.9,436.7 1435.1,436.7 1436.4,436.5 1437.6,436.5 1438.9,436.5 1440.1,436.7 1441.3,436.8 1442.6,436.8 1443.8,436.7 1445.1,436.6 1446.3,436.6 1447.6,436.6 1448.8,436.8 1450.1,436.8 1451.3,436.7 1452.6,436.7 1453.8,436.7 1455.1,436.9 1456.3,436.8 1457.6,437.0 1458.8,436.9 1460.0,436.9 1461.3,436.6 1462.5,436.6 1463.8,436.6 1465.0,437.0 1466.3,436.9 1467.5,436.9 1468.8,436.9 1470.0,437.1 1471.3,437.2 1472.5,437.1 1473.8,436.9 1475.0,436.8 1476.3,436.7 1477.5,436.8 1477.5,480.0 1476.3,480.0 1475.0,480.2 1473.8,479.9 1472.5,479.7 1471.3,479.6 1470.0,479.8 1468.8,479.9 1467.5,479.5 1466.3,479.3 1465.0,478.9 1463.8,479.1 1462.5,479.2 1461.3,479.7 1460.0,479.2 1458.8,478.8 1457.6,478.7 1456.3,478.9 1455.1,478.8 1453.8,478.8 1452.6,478.6 1451.3,478.6 1450.1,478.4 1448.8,478.4 1447.6,478.3 1446.3,478.7 1445.1,478.7 1443.8,478.6 1442.6,478.3 1441.3,478.4 1440.1,478.2 1438.9,477.9 1437.6,477.8 1436.4,477.8 1435.1,477.7 1433.9,477.2 1432.6,477.1 1431.4,477.1 1430.1,477.6 1428.9,477.9 1427.6,477.8 1426.4,477.4 1425.1,477.0 1423.9,477.1 1422.6,477.1 1421.4,477.1 1420.2,477.2 1418.9,477.2 1417.7,477.2 1416.4,477.2 1415.2,477.0 1413.9,477.1 1412.7,476.8 1411.4,476.8 1410.2,476.5 1408.9,476.3 1407.7,476.5 1406.4,476.8 1405.2,477.0 1403.9,476.7 1402.7,476.3 1401.5,476.0 1400.2,476.0 1399.0,476.1 1397.7,476.3 1396.5,476.0 1395.2,476.0 1394.0,475.9 1392.7,476.2 1391.5,476.2 1390.2,476.1 1389.0,475.9 1387.7,475.8 1386.5,476.2 1385.2,476.1 1384.0,476.1 1382.8,476.0 1381.5,476.1 1380.3,475.8 1379.0,475.8 1377.8,475.4 1376.5,475.4 1375.3,475.4 1374.0,475.7 1372.8,475.6 1371.5,475.3 1370.3,474.8 1369.0,474.9 1367.8,474.9 1366.5,475.0 1365.3,475.0 1364.1,475.0 1362.8,475.3 1361.6,475.1 1360.3,475.1 1359.1,475.3 1357.8,475.2 1356.6,475.2 1355.3,475.1 1354.1,475.2 1352.8,475.2 1351.6,474.8 1350.3,475.1 1349.1,475.1 1347.8,475.4 1346.6,475.1 1345.4,475.4 1344.1,475.2 1342.9,475.0 1341.6,474.6 1340.4,474.7 1339.1,474.9 1337.9,474.8 1336.6,474.6 1335.4,474.5 1334.1,474.8 1332.9,474.9 1331.6,474.8 1330.4,474.5 1329.1,474.4 1327.9,474.6 1326.7,474.8 1325.4,474.8 1324.2,474.7 1322.9,474.6 1321.7,474.5 1320.4,474.9 1319.2,475.3 1317.9,475.4 1316.7,475.4 1315.4,475.4 1314.2,475.9 1312.9,475.8 1311.7,476.1 1310.4,475.9 1309.2,475.9 1307.9,476.1 1306.7,476.3 1305.5,476.3 1304.2,476.2 1303.0,476.2 1301.7,476.5 1300.5,476.5 1299.2,476.8 1298.0,477.0 1296.7,473.7 1295.5,459.6 1294.2,459.3 1293.0,459.3 1291.7,459.2 1290.5,459.3 1289.2,459.5 1288.0,459.5 1286.8,460.8 1285.5,461.9 1284.3,469.4 1283.0,494.6 1281.8,494.4 1280.5,494.4 1279.3,494.5 1278.0,495.2 1276.8,495.7 1275.5,495.8 1274.3,495.5 1273.0,495.0 1271.8,495.1 1270.5,495.3 1269.3,495.3 1268.1,495.2 1266.8,495.0 1265.6,495.2 1264.3,495.3 1263.1,495.5 1261.8,495.5 1260.6,495.6 1259.3,495.8 1258.1,495.8 1256.8,495.8 1255.6,495.6 1254.3,495.8 1253.1,496.1 1251.8,496.2 1250.6,496.2 1249.4,496.1 1248.1,496.1 1246.9,496.1 1245.6,496.0 1244.4,495.8 1243.1,495.4 1241.9,495.4 1240.6,495.6 1239.4,495.5 1238.1,495.8 1236.9,496.0 1235.6,496.2 1234.4,496.3 1233.1,496.1 1231.9,496.4 1230.7,496.5 1229.4,496.7 1228.2,496.6 1226.9,496.7 1225.7,496.6 1224.4,496.6 1223.2,496.1 1221.9,496.1 1220.7,496.1 1219.4,496.3 1218.2,496.1 1216.9,496.4 1215.7,497.0 1214.4,497.3 1213.2,497.3 1212.0,497.1 1210.7,497.3 1209.5,497.3 1208.2,497.4 1207.0,497.5 1205.7,497.4 1204.5,496.9 1203.2,496.6 1202.0,496.7 1200.7,496.9 1199.5,497.0 1198.2,497.1 1197.0,497.4 1195.7,497.5 1194.5,497.3 1193.3,497.4 1192.0,497.2 1190.8,497.7 1189.5,497.6 1188.3,497.7 1187.0,497.5 1185.8,497.6 1184.5,497.9 1183.3,498.1 1182.0,497.8 1180.8,497.9 1179.5,497.8 1178.3,498.0 1177.0,497.9 1175.8,497.9 1174.6,498.3 1173.3,498.2 1172.1,498.3 1170.8,498.0 1169.6,497.8 1168.3,498.0 1167.1,498.1 1165.8,498.3 1164.6,498.2 1163.3,498.2 1162.1,498.2 1160.8,498.2 1159.6,497.8 1158.3,498.1 1157.1,498.1 1155.9,498.4 1154.6,498.0 1153.4,498.4 1152.1,498.6 1150.9,498.6 1149.6,498.3 1148.4,498.2 1147.1,498.3 1145.9,498.5 1144.6,498.5 1143.4,498.5 1142.1,498.3 1140.9,498.1 1139.6,498.1 1138.4,498.3 1137.2,498.4 1135.9,498.6 1134.7,498.8 1133.4,498.9 1132.2,498.8 1130.9,499.1 1129.7,499.2 1128.4,499.2 1127.2,498.9 1125.9,498.9 1124.7,499.1 1123.4,499.3 1122.2,499.1 1120.9,498.8 1119.7,498.6 1118.5,498.8 1117.2,498.9 1116.0,499.2 1114.7,499.2 1113.5,499.0 1112.2,499.0 1111.0,499.2 1109.7,499.5 1108.5,499.5 1107.2,499.3 1106.0,499.3 1104.7,499.7 1103.5,499.7 1102.2,499.6 1101.0,499.6 1099.8,499.5 1098.5,499.6 1097.3,499.1 1096.0,499.1 1094.8,499.1 1093.5,498.9 1092.3,499.1 1091.0,499.1 1089.8,499.8 1088.5,499.8 1087.3,499.9 1086.0,499.6 1084.8,499.6 1083.5,499.5 1082.3,499.5 1081.1,499.3 1079.8,499.5 1078.6,499.9 1077.3,500.2 1076.1,500.1 1074.8,500.2 1073.6,500.2 1072.3,500.3 1071.1,500.3 1069.8,500.9 1068.6,501.0 1067.3,500.8 1066.1,500.7 1064.8,500.8 1063.6,501.1 1062.4,500.7 1061.1,500.5 1059.9,500.5 1058.6,501.0 1057.4,501.0 1056.1,501.0 1054.9,500.8 1053.6,500.9 1052.4,501.2 1051.1,501.5 1049.9,501.2 1048.6,501.3 1047.4,501.3 1046.1,501.4 1044.9,501.0 1043.7,501.0 1042.4,501.4 1041.2,501.8 1039.9,501.7 1038.7,501.8 1037.4,501.9 1036.2,502.5 1034.9,502.3 1033.7,502.1 1032.4,502.0 1031.2,502.1 1029.9,502.0 1028.7,502.2 1027.4,502.5 1026.2,503.0 1025.0,502.8 1023.7,502.9 1022.5,503.0 1021.2,503.0 1020.0,502.8 1018.7,502.6 1017.5,503.0 1016.2,503.2 1015.0,503.1 1013.7,502.8 1012.5,502.8 1011.2,502.3 1010.0,502.2 1008.7,502.0 1007.5,502.4 1006.3,502.2 1005.0,501.7 1003.8,501.4 1002.5,501.1 1001.3,500.9 1000.0,500.8 998.8,500.8 997.5,500.7 996.3,500.2 995.0,500.0 993.8,500.1 992.5,500.2 991.3,500.1 990.0,499.9 988.8,499.5 987.6,499.1 986.3,498.9 985.1,498.8 983.8,498.8 982.6,498.7 981.3,498.5 980.1,498.5 978.8,498.5 977.6,498.4 976.3,498.3 975.1,498.2 973.8,498.3 972.6,498.2 971.3,497.9 970.1,497.8 968.8,497.3 967.6,497.2 966.4,496.9 965.1,496.9 963.9,496.8 962.6,496.8 961.4,496.9 960.1,496.9 958.9,496.6 957.6,496.2 956.4,496.1 955.1,496.0 953.9,495.7 952.6,495.7 951.4,495.5 950.1,495.1 948.9,494.2 947.7,493.7 946.4,493.3 945.2,492.8 943.9,492.2 942.7,491.7 941.4,491.0 940.2,490.2 938.9,487.9 937.7,485.0 936.4,482.4 935.2,480.5 933.9,479.6 932.7,478.1 931.4,477.1 930.2,477.0 929.0,477.2 927.7,477.3 926.5,477.4 925.2,477.3 924.0,477.5 922.7,477.4 921.5,477.5 920.2,477.4 919.0,477.4 917.7,477.5 916.5,477.2 915.2,477.2 914.0,477.4 912.7,477.7 911.5,477.4 910.3,477.3 909.0,477.1 907.8,477.2 906.5,477.1 905.3,477.1 904.0,477.1 902.8,477.1 901.5,477.0 900.3,477.1 899.0,476.9 897.8,476.9 896.5,477.0 895.3,477.0 894.0,476.9 892.8,476.7 891.6,476.4 890.3,476.5 889.1,476.3 887.8,476.9 886.6,477.0 885.3,477.4 884.1,477.2 882.8,477.3 881.6,477.0 880.3,477.1 879.1,477.0 877.8,477.4 876.6,477.4 875.3,477.3 874.1,477.2 872.9,477.1 871.6,477.5 870.4,477.2 869.1,477.0 867.9,476.9 866.6,476.9 865.4,477.3 864.1,477.3 862.9,477.4 861.6,477.4 860.4,477.3 859.1,477.2 857.9,477.0 856.6,477.2 855.4,477.2 854.2,477.3 852.9,477.2 851.7,477.4 850.4,477.1 849.2,477.0 847.9,476.8 846.7,477.0 845.4,476.9 844.2,477.0 842.9,477.0 841.7,477.2 840.4,477.3 839.2,477.2 837.9,477.4 836.7,477.2 835.5,476.9 834.2,476.8 833.0,477.0 831.7,477.2 830.5,476.8 829.2,476.5 828.0,476.6 826.7,477.0 825.5,477.1 824.2,476.8 823.0,476.6 821.7,476.7 820.5,477.0 819.2,477.2 818.0,477.2" fill="#052B51" fill-opacity="0.42"/><polygon points="818.0,433.5 819.2,433.5 820.5,433.5 821.7,433.5 823.0,433.5 824.2,433.5 825.5,433.5 826.7,433.5 828.0,433.5 829.2,433.5 830.5,433.5 831.7,433.5 833.0,433.5 834.2,433.5 835.5,433.5 836.7,433.5 837.9,433.5 839.2,433.5 840.4,433.5 841.7,433.5 842.9,433.5 844.2,433.5 845.4,433.5 846.7,433.5 847.9,433.5 849.2,433.5 850.4,433.5 851.7,433.5 852.9,433.5 854.2,433.5 855.4,433.5 856.6,433.5 857.9,433.5 859.1,433.5 860.4,433.5 861.6,433.5 862.9,433.5 864.1,433.5 865.4,433.5 866.6,433.5 867.9,433.5 869.1,433.5 870.4,433.5 871.6,433.5 872.9,433.5 874.1,433.5 875.3,433.5 876.6,433.5 877.8,433.5 879.1,433.5 880.3,433.5 881.6,433.5 882.8,433.5 884.1,433.5 885.3,433.5 886.6,433.5 887.8,433.5 889.1,433.5 890.3,433.5 891.6,433.5 892.8,433.5 894.0,433.5 895.3,433.5 896.5,433.5 897.8,433.5 899.0,433.5 900.3,433.5 901.5,433.5 902.8,433.5 904.0,433.5 905.3,433.5 906.5,433.5 907.8,433.5 909.0,433.5 910.3,433.5 911.5,433.5 912.7,433.5 914.0,433.5 915.2,433.5 916.5,433.5 917.7,433.5 919.0,433.5 920.2,433.5 921.5,433.5 922.7,433.5 924.0,433.5 925.2,433.5 926.5,433.5 927.7,433.5 929.0,433.5 930.2,433.5 931.4,433.5 932.7,433.5 933.9,433.5 935.2,433.5 936.4,433.5 937.7,433.5 938.9,433.5 940.2,433.5 941.4,433.5 942.7,433.5 943.9,433.5 945.2,433.5 946.4,433.5 947.7,433.5 948.9,433.5 950.1,433.5 951.4,433.5 952.6,433.5 953.9,433.5 955.1,433.5 956.4,433.5 957.6,433.5 958.9,433.5 960.1,433.5 961.4,433.5 962.6,433.5 963.9,433.5 965.1,433.5 966.4,433.5 967.6,433.5 968.8,433.5 970.1,433.5 971.3,433.5 972.6,433.5 973.8,433.5 975.1,433.5 976.3,433.5 977.6,433.5 978.8,433.5 980.1,433.5 981.3,433.5 982.6,433.5 983.8,433.5 985.1,433.5 986.3,433.5 987.6,433.5 988.8,433.5 990.0,433.5 991.3,433.5 992.5,433.5 993.8,433.5 995.0,433.5 996.3,433.5 997.5,433.5 998.8,433.5 1000.0,433.5 1001.3,433.5 1002.5,433.5 1003.8,433.5 1005.0,433.5 1006.3,433.5 1007.5,433.5 1008.7,433.5 1010.0,433.5 1011.2,433.5 1012.5,433.5 1013.7,433.5 1015.0,433.5 1016.2,433.5 1017.5,433.5 1018.7,433.5 1020.0,433.5 1021.2,433.5 1022.5,433.5 1023.7,433.5 1025.0,433.5 1026.2,433.5 1027.4,433.5 1028.7,433.5 1029.9,433.5 1031.2,433.5 1032.4,433.5 1033.7,433.5 1034.9,433.5 1036.2,433.5 1037.4,433.5 1038.7,433.5 1039.9,433.5 1041.2,433.5 1042.4,433.5 1043.7,433.5 1044.9,433.5 1046.1,433.5 1047.4,433.5 1048.6,433.5 1049.9,433.5 1051.1,433.5 1052.4,433.5 1053.6,433.5 1054.9,433.5 1056.1,433.5 1057.4,433.5 1058.6,433.5 1059.9,433.5 1061.1,433.5 1062.4,433.5 1063.6,433.5 1064.8,433.5 1066.1,433.5 1067.3,433.5 1068.6,433.5 1069.8,433.5 1071.1,433.5 1072.3,433.5 1073.6,433.5 1074.8,433.5 1076.1,433.5 1077.3,433.5 1078.6,433.5 1079.8,433.5 1081.1,433.5 1082.3,433.5 1083.5,433.5 1084.8,433.5 1086.0,433.5 1087.3,433.5 1088.5,433.5 1089.8,433.5 1091.0,433.5 1092.3,433.5 1093.5,433.5 1094.8,433.5 1096.0,433.5 1097.3,433.5 1098.5,433.5 1099.8,433.5 1101.0,433.5 1102.2,433.5 1103.5,433.5 1104.7,433.5 1106.0,433.5 1107.2,433.5 1108.5,433.5 1109.7,433.5 1111.0,433.5 1112.2,433.5 1113.5,433.5 1114.7,433.5 1116.0,433.5 1117.2,433.5 1118.5,433.5 1119.7,433.5 1120.9,433.5 1122.2,433.5 1123.4,433.5 1124.7,433.5 1125.9,433.5 1127.2,433.5 1128.4,433.5 1129.7,433.5 1130.9,433.5 1132.2,433.5 1133.4,433.5 1134.7,433.5 1135.9,433.5 1137.2,433.5 1138.4,433.5 1139.6,433.5 1140.9,433.5 1142.1,433.5 1143.4,433.5 1144.6,433.5 1145.9,433.5 1147.1,433.5 1148.4,433.5 1149.6,433.5 1150.9,433.5 1152.1,433.5 1153.4,433.5 1154.6,433.5 1155.9,433.5 1157.1,433.5 1158.3,433.5 1159.6,433.5 1160.8,433.5 1162.1,433.5 1163.3,433.5 1164.6,433.5 1165.8,433.5 1167.1,433.5 1168.3,433.5 1169.6,433.5 1170.8,433.5 1172.1,433.5 1173.3,433.5 1174.6,433.5 1175.8,433.5 1177.0,433.5 1178.3,433.5 1179.5,433.5 1180.8,433.5 1182.0,433.5 1183.3,433.5 1184.5,433.5 1185.8,433.5 1187.0,433.5 1188.3,433.5 1189.5,433.5 1190.8,433.5 1192.0,433.5 1193.3,433.5 1194.5,433.5 1195.7,433.5 1197.0,433.5 1198.2,433.5 1199.5,433.5 1200.7,433.5 1202.0,433.5 1203.2,433.5 1204.5,433.5 1205.7,433.5 1207.0,433.5 1208.2,433.5 1209.5,433.5 1210.7,433.5 1212.0,433.5 1213.2,433.5 1214.4,433.5 1215.7,433.5 1216.9,433.5 1218.2,433.5 1219.4,433.5 1220.7,433.5 1221.9,433.5 1223.2,433.5 1224.4,433.5 1225.7,433.5 1226.9,433.5 1228.2,433.5 1229.4,433.5 1230.7,433.5 1231.9,433.5 1233.1,433.5 1234.4,433.5 1235.6,433.5 1236.9,433.5 1238.1,433.5 1239.4,433.5 1240.6,433.5 1241.9,433.5 1243.1,433.5 1244.4,433.5 1245.6,433.5 1246.9,433.5 1248.1,433.5 1249.4,433.5 1250.6,433.5 1251.8,433.5 1253.1,433.5 1254.3,433.5 1255.6,433.5 1256.8,433.5 1258.1,433.5 1259.3,433.5 1260.6,433.5 1261.8,433.5 1263.1,433.5 1264.3,433.5 1265.6,433.5 1266.8,433.5 1268.1,433.5 1269.3,433.5 1270.5,433.5 1271.8,433.5 1273.0,433.5 1274.3,433.5 1275.5,433.5 1276.8,433.5 1278.0,433.5 1279.3,433.5 1280.5,433.5 1281.8,433.5 1283.0,433.5 1284.3,433.5 1285.5,433.5 1286.8,433.5 1288.0,433.5 1289.2,433.5 1290.5,433.5 1291.7,433.5 1293.0,433.5 1294.2,433.5 1295.5,433.5 1296.7,433.5 1298.0,433.5 1299.2,433.5 1300.5,433.5 1301.7,433.5 1303.0,433.5 1304.2,433.5 1305.5,433.5 1306.7,433.5 1307.9,433.5 1309.2,433.5 1310.4,433.5 1311.7,433.5 1312.9,433.5 1314.2,433.5 1315.4,433.5 1316.7,433.5 1317.9,433.5 1319.2,433.5 1320.4,433.5 1321.7,433.5 1322.9,433.5 1324.2,433.5 1325.4,433.5 1326.7,433.5 1327.9,433.5 1329.1,433.5 1330.4,433.5 1331.6,433.5 1332.9,433.5 1334.1,433.5 1335.4,433.5 1336.6,433.5 1337.9,433.5 1339.1,433.5 1340.4,433.5 1341.6,433.5 1342.9,433.5 1344.1,433.5 1345.4,433.5 1346.6,433.5 1347.8,433.5 1349.1,433.5 1350.3,433.5 1351.6,433.5 1352.8,433.5 1354.1,433.5 1355.3,433.5 1356.6,433.5 1357.8,433.5 1359.1,433.5 1360.3,433.5 1361.6,433.5 1362.8,433.5 1364.1,433.5 1365.3,433.5 1366.5,433.5 1367.8,433.5 1369.0,433.5 1370.3,433.5 1371.5,433.5 1372.8,433.5 1374.0,433.5 1375.3,433.5 1376.5,433.5 1377.8,433.5 1379.0,433.5 1380.3,433.5 1381.5,433.5 1382.8,433.5 1384.0,433.5 1385.2,433.5 1386.5,433.5 1387.7,433.5 1389.0,433.5 1390.2,433.5 1391.5,433.5 1392.7,433.5 1394.0,433.5 1395.2,433.5 1396.5,433.5 1397.7,433.5 1399.0,433.5 1400.2,433.5 1401.5,433.5 1402.7,433.5 1403.9,433.5 1405.2,433.5 1406.4,433.5 1407.7,433.5 1408.9,433.5 1410.2,433.5 1411.4,433.5 1412.7,433.5 1413.9,433.5 1415.2,433.5 1416.4,433.5 1417.7,433.5 1418.9,433.5 1420.2,433.5 1421.4,433.5 1422.6,433.5 1423.9,433.5 1425.1,433.5 1426.4,433.5 1427.6,433.5 1428.9,433.5 1430.1,433.5 1431.4,433.5 1432.6,433.5 1433.9,433.5 1435.1,433.5 1436.4,433.5 1437.6,433.5 1438.9,433.5 1440.1,433.5 1441.3,433.5 1442.6,433.5 1443.8,433.5 1445.1,433.5 1446.3,433.5 1447.6,433.5 1448.8,433.5 1450.1,433.5 1451.3,433.5 1452.6,433.5 1453.8,433.5 1455.1,433.5 1456.3,433.5 1457.6,433.5 1458.8,433.5 1460.0,433.5 1461.3,433.5 1462.5,433.5 1463.8,433.5 1465.0,433.5 1466.3,433.5 1467.5,433.5 1468.8,433.5 1470.0,433.5 1471.3,433.5 1472.5,433.5 1473.8,433.5 1475.0,433.5 1476.3,433.5 1477.5,433.5 1477.5,436.8 1476.3,436.7 1475.0,436.8 1473.8,436.9 1472.5,437.1 1471.3,437.2 1470.0,437.1 1468.8,436.9 1467.5,436.9 1466.3,436.9 1465.0,437.0 1463.8,436.6 1462.5,436.6 1461.3,436.6 1460.0,436.9 1458.8,436.9 1457.6,437.0 1456.3,436.8 1455.1,436.9 1453.8,436.7 1452.6,436.7 1451.3,436.7 1450.1,436.8 1448.8,436.8 1447.6,436.6 1446.3,436.6 1445.1,436.6 1443.8,436.7 1442.6,436.8 1441.3,436.8 1440.1,436.7 1438.9,436.5 1437.6,436.5 1436.4,436.5 1435.1,436.7 1433.9,436.7 1432.6,436.7 1431.4,436.5 1430.1,436.4 1428.9,436.4 1427.6,436.5 1426.4,436.7 1425.1,436.6 1423.9,436.6 1422.6,436.4 1421.4,436.6 1420.2,436.6 1418.9,436.5 1417.7,436.6 1416.4,436.5 1415.2,436.8 1413.9,437.0 1412.7,437.0 1411.4,436.9 1410.2,436.7 1408.9,436.5 1407.7,436.5 1406.4,436.4 1405.2,436.5 1403.9,436.6 1402.7,436.6 1401.5,436.6 1400.2,436.8 1399.0,436.8 1397.7,436.8 1396.5,436.6 1395.2,436.7 1394.0,436.6 1392.7,436.5 1391.5,436.4 1390.2,436.4 1389.0,436.5 1387.7,436.6 1386.5,436.6 1385.2,436.6 1384.0,436.4 1382.8,436.7 1381.5,436.8 1380.3,436.9 1379.0,436.6 1377.8,436.5 1376.5,436.5 1375.3,436.5 1374.0,436.3 1372.8,436.3 1371.5,436.2 1370.3,436.3 1369.0,436.3 1367.8,436.5 1366.5,436.4 1365.3,436.5 1364.1,436.5 1362.8,436.5 1361.6,436.3 1360.3,436.2 1359.1,436.2 1357.8,436.4 1356.6,436.4 1355.3,436.5 1354.1,436.5 1352.8,436.4 1351.6,436.5 1350.3,436.5 1349.1,436.5 1347.8,436.3 1346.6,436.4 1345.4,436.6 1344.1,436.6 1342.9,436.9 1341.6,437.0 1340.4,437.1 1339.1,437.1 1337.9,437.4 1336.6,437.4 1335.4,437.3 1334.1,437.1 1332.9,437.1 1331.6,437.4 1330.4,437.5 1329.1,437.7 1327.9,437.7 1326.7,438.0 1325.4,437.9 1324.2,438.2 1322.9,438.4 1321.7,438.7 1320.4,438.9 1319.2,439.1 1317.9,439.7 1316.7,440.2 1315.4,440.8 1314.2,441.0 1312.9,441.6 1311.7,442.0 1310.4,442.4 1309.2,442.9 1307.9,443.9 1306.7,444.9 1305.5,445.9 1304.2,446.8 1303.0,448.0 1301.7,449.6 1300.5,450.9 1299.2,452.1 1298.0,450.9 1296.7,441.0 1295.5,435.9 1294.2,435.6 1293.0,435.5 1291.7,435.5 1290.5,435.7 1289.2,435.7 1288.0,435.6 1286.8,436.2 1285.5,437.6 1284.3,438.5 1283.0,437.7 1281.8,437.2 1280.5,436.8 1279.3,437.1 1278.0,437.1 1276.8,437.0 1275.5,437.0 1274.3,437.0 1273.0,437.4 1271.8,437.6 1270.5,437.6 1269.3,437.8 1268.1,437.7 1266.8,437.9 1265.6,437.7 1264.3,437.9 1263.1,437.9 1261.8,438.1 1260.6,438.1 1259.3,438.4 1258.1,438.6 1256.8,438.9 1255.6,439.2 1254.3,439.2 1253.1,439.1 1251.8,439.1 1250.6,439.2 1249.4,439.5 1248.1,439.6 1246.9,439.6 1245.6,439.6 1244.4,439.4 1243.1,439.5 1241.9,439.7 1240.6,440.1 1239.4,440.5 1238.1,440.7 1236.9,441.0 1235.6,441.1 1234.4,441.1 1233.1,441.1 1231.9,440.7 1230.7,440.8 1229.4,441.0 1228.2,441.5 1226.9,441.7 1225.7,441.8 1224.4,441.9 1223.2,442.0 1221.9,441.9 1220.7,441.9 1219.4,441.8 1218.2,442.0 1216.9,442.2 1215.7,442.3 1214.4,442.4 1213.2,442.6 1212.0,442.7 1210.7,442.7 1209.5,442.6 1208.2,442.8 1207.0,443.3 1205.7,443.3 1204.5,443.4 1203.2,443.5 1202.0,443.7 1200.7,444.0 1199.5,444.0 1198.2,444.1 1197.0,443.9 1195.7,443.9 1194.5,444.0 1193.3,444.2 1192.0,444.4 1190.8,444.6 1189.5,444.6 1188.3,444.5 1187.0,444.5 1185.8,444.8 1184.5,445.2 1183.3,445.4 1182.0,445.4 1180.8,445.3 1179.5,445.4 1178.3,445.4 1177.0,445.6 1175.8,445.5 1174.6,445.6 1173.3,445.5 1172.1,445.9 1170.8,446.1 1169.6,446.3 1168.3,446.4 1167.1,446.3 1165.8,446.5 1164.6,446.6 1163.3,446.7 1162.1,446.6 1160.8,447.0 1159.6,446.9 1158.3,447.0 1157.1,447.0 1155.9,447.4 1154.6,447.6 1153.4,447.8 1152.1,447.9 1150.9,448.1 1149.6,448.0 1148.4,448.0 1147.1,448.0 1145.9,448.2 1144.6,448.2 1143.4,448.6 1142.1,448.9 1140.9,449.0 1139.6,448.9 1138.4,449.0 1137.2,449.0 1135.9,449.1 1134.7,449.2 1133.4,449.4 1132.2,449.6 1130.9,449.9 1129.7,450.1 1128.4,450.2 1127.2,450.3 1125.9,450.7 1124.7,450.8 1123.4,450.7 1122.2,450.5 1120.9,450.5 1119.7,450.6 1118.5,450.6 1117.2,450.7 1116.0,451.0 1114.7,451.4 1113.5,451.4 1112.2,451.5 1111.0,451.5 1109.7,451.7 1108.5,451.8 1107.2,452.2 1106.0,452.3 1104.7,452.6 1103.5,452.4 1102.2,452.7 1101.0,452.8 1099.8,453.1 1098.5,453.1 1097.3,453.0 1096.0,453.2 1094.8,453.3 1093.5,453.8 1092.3,453.9 1091.0,454.0 1089.8,454.2 1088.5,454.3 1087.3,454.5 1086.0,454.6 1084.8,454.7 1083.5,454.9 1082.3,455.0 1081.1,455.1 1079.8,455.1 1078.6,455.1 1077.3,455.2 1076.1,455.7 1074.8,456.1 1073.6,456.4 1072.3,456.5 1071.1,456.6 1069.8,456.6 1068.6,457.0 1067.3,457.4 1066.1,457.5 1064.8,457.6 1063.6,457.7 1062.4,458.1 1061.1,458.5 1059.9,458.7 1058.6,458.7 1057.4,458.8 1056.1,459.0 1054.9,459.4 1053.6,459.7 1052.4,460.0 1051.1,460.1 1049.9,460.1 1048.6,460.6 1047.4,461.2 1046.1,461.7 1044.9,462.1 1043.7,462.4 1042.4,462.9 1041.2,463.5 1039.9,464.1 1038.7,464.3 1037.4,464.5 1036.2,464.9 1034.9,465.4 1033.7,465.6 1032.4,466.5 1031.2,467.4 1029.9,468.8 1028.7,469.7 1027.4,470.9 1026.2,471.8 1025.0,472.7 1023.7,471.1 1022.5,469.3 1021.2,461.2 1020.0,452.1 1018.7,446.1 1017.5,442.5 1016.2,438.6 1015.0,440.2 1013.7,448.9 1012.5,442.3 1011.2,435.7 1010.0,435.7 1008.7,435.7 1007.5,435.7 1006.3,435.9 1005.0,435.7 1003.8,435.7 1002.5,435.6 1001.3,435.5 1000.0,435.4 998.8,435.4 997.5,435.6 996.3,435.7 995.0,435.6 993.8,435.6 992.5,435.7 991.3,435.7 990.0,435.5 988.8,435.5 987.6,435.7 986.3,435.9 985.1,435.9 983.8,435.6 982.6,435.3 981.3,435.2 980.1,435.4 978.8,435.5 977.6,435.5 976.3,435.3 975.1,435.4 973.8,435.4 972.6,435.2 971.3,435.2 970.1,435.4 968.8,435.6 967.6,435.7 966.4,435.6 965.1,435.6 963.9,435.3 962.6,435.2 961.4,435.2 960.1,435.1 958.9,435.2 957.6,435.5 956.4,435.7 955.1,435.3 953.9,435.1 952.6,435.2 951.4,435.3 950.1,435.1 948.9,435.1 947.7,435.4 946.4,435.4 945.2,435.4 943.9,435.2 942.7,435.4 941.4,435.3 940.2,435.2 938.9,435.2 937.7,434.9 936.4,434.9 935.2,435.0 933.9,435.2 932.7,435.4 931.4,435.3 930.2,435.6 929.0,435.5 927.7,435.5 926.5,435.1 925.2,434.9 924.0,434.9 922.7,435.0 921.5,435.2 920.2,435.4 919.0,435.2 917.7,435.4 916.5,437.3 915.2,439.4 914.0,439.7 912.7,439.7 911.5,439.7 910.3,439.6 909.0,439.4 907.8,439.3 906.5,439.0 905.3,439.0 904.0,438.7 902.8,438.8 901.5,438.9 900.3,438.8 899.0,438.8 897.8,438.6 896.5,438.6 895.3,438.4 894.0,438.5 892.8,438.3 891.6,438.2 890.3,438.1 889.1,438.1 887.8,438.2 886.6,438.1 885.3,438.1 884.1,438.1 882.8,438.0 881.6,438.1 880.3,438.0 879.1,438.1 877.8,437.7 876.6,437.7 875.3,437.4 874.1,437.4 872.9,437.1 871.6,437.3 870.4,437.3 869.1,437.3 867.9,437.3 866.6,437.3 865.4,437.2 864.1,437.1 862.9,436.9 861.6,437.2 860.4,437.4 859.1,437.6 857.9,437.2 856.6,437.1 855.4,437.2 854.2,437.3 852.9,437.3 851.7,436.9 850.4,436.9 849.2,436.7 847.9,436.6 846.7,436.7 845.4,436.8 844.2,436.9 842.9,436.6 841.7,436.5 840.4,436.4 839.2,436.8 837.9,436.9 836.7,437.0 835.5,436.7 834.2,436.6 833.0,436.7 831.7,437.0 830.5,437.0 829.2,436.8 828.0,436.4 826.7,436.5 825.5,436.6 824.2,436.6 823.0,436.4 821.7,436.1 820.5,436.1 819.2,436.1 818.0,436.3" fill="#7EB26D" fill-opacity="0.42"/><polygon points="818.0,402.6 819.2,402.6 820.5,402.6 821.7,402.5 823.0,402.5 824.2,402.5 825.5,402.5 826.7,402.4 828.0,402.5 829.2,402.5 830.5,402.5 831.7,402.5 833.0,402.4 834.2,402.5 835.5,402.5 836.7,402.6 837.9,402.5 839.2,402.5 840.4,402.5 841.7,402.5 842.9,402.5 844.2,402.5 845.4,402.6 846.7,402.6 847.9,402.6 849.2,402.5 850.4,402.5 851.7,402.4 852.9,402.5 854.2,402.6 855.4,402.6 856.6,402.6 857.9,402.5 859.1,402.5 860.4,402.5 861.6,402.5 862.9,402.5 864.1,402.5 865.4,402.6 866.6,402.6 867.9,402.7 869.1,402.6 870.4,402.6 871.6,402.6 872.9,402.6 874.1,402.6 875.3,402.5 876.6,402.5 877.8,402.5 879.1,402.6 880.3,402.6 881.6,402.6 882.8,402.5 884.1,402.5 885.3,402.5 886.6,402.5 887.8,402.4 889.1,402.5 890.3,402.5 891.6,402.5 892.8,402.4 894.0,402.4 895.3,402.4 896.5,402.5 897.8,402.5 899.0,402.6 900.3,402.6 901.5,402.6 902.8,402.5 904.0,402.5 905.3,402.5 906.5,402.5 907.8,402.5 909.0,402.5 910.3,402.5 911.5,402.5 912.7,402.5 914.0,402.5 915.2,402.5 916.5,402.6 917.7,402.5 919.0,402.5 920.2,402.5 921.5,402.5 922.7,402.5 924.0,402.5 925.2,402.5 926.5,402.6 927.7,402.6 929.0,402.5 930.2,401.6 931.4,400.7 932.7,399.9 933.9,399.0 935.2,397.6 936.4,395.6 937.7,393.6 938.9,391.7 940.2,389.8 941.4,387.9 942.7,386.0 943.9,385.3 945.2,384.6 946.4,383.9 947.7,383.2 948.9,382.4 950.1,381.6 951.4,381.1 952.6,381.1 953.9,381.0 955.1,380.8 956.4,380.7 957.6,380.6 958.9,380.5 960.1,380.4 961.4,380.3 962.6,380.2 963.9,380.1 965.1,379.9 966.4,379.7 967.6,379.6 968.8,379.5 970.1,379.5 971.3,379.4 972.6,379.3 973.8,379.2 975.1,379.2 976.3,379.1 977.6,379.1 978.8,379.0 980.1,378.9 981.3,378.8 982.6,378.7 983.8,378.6 985.1,378.5 986.3,378.5 987.6,378.5 988.8,378.5 990.0,378.4 991.3,378.3 992.5,378.3 993.8,378.2 995.0,378.1 996.3,377.8 997.5,377.7 998.8,377.5 1000.0,377.4 1001.3,377.2 1002.5,377.0 1003.8,376.8 1005.0,376.7 1006.3,376.6 1007.5,376.5 1008.7,376.4 1010.0,376.1 1011.2,375.9 1012.5,375.6 1013.7,375.5 1015.0,375.4 1016.2,375.3 1017.5,375.2 1018.7,375.2 1020.0,375.2 1021.2,375.4 1022.5,375.4 1023.7,375.5 1025.0,375.5 1026.2,375.5 1027.4,375.5 1028.7,375.5 1029.9,375.6 1031.2,375.5 1032.4,375.6 1033.7,375.6 1034.9,375.7 1036.2,375.7 1037.4,375.7 1038.7,375.8 1039.9,375.9 1041.2,375.9 1042.4,375.9 1043.7,375.9 1044.9,376.0 1046.1,376.0 1047.4,376.1 1048.6,376.1 1049.9,376.2 1051.1,376.3 1052.4,376.3 1053.6,376.3 1054.9,376.4 1056.1,376.5 1057.4,376.5 1058.6,376.6 1059.9,376.6 1061.1,376.7 1062.4,376.7 1063.6,376.8 1064.8,376.8 1066.1,376.8 1067.3,376.8 1068.6,376.9 1069.8,377.0 1071.1,377.0 1072.3,377.1 1073.6,377.1 1074.8,377.1 1076.1,377.1 1077.3,377.2 1078.6,377.3 1079.8,377.4 1081.1,377.4 1082.3,377.5 1083.5,377.5 1084.8,377.5 1086.0,377.5 1087.3,377.6 1088.5,377.6 1089.8,377.7 1091.0,377.8 1092.3,377.8 1093.5,377.8 1094.8,377.9 1096.0,377.9 1097.3,378.0 1098.5,377.9 1099.8,378.0 1101.0,378.1 1102.2,378.1 1103.5,378.1 1104.7,378.0 1106.0,378.0 1107.2,378.0 1108.5,378.0 1109.7,378.1 1111.0,378.1 1112.2,378.2 1113.5,378.2 1114.7,378.3 1116.0,378.3 1117.2,378.3 1118.5,378.2 1119.7,378.3 1120.9,378.4 1122.2,378.5 1123.4,378.4 1124.7,378.4 1125.9,378.4 1127.2,378.4 1128.4,378.4 1129.7,378.4 1130.9,378.5 1132.2,378.5 1133.4,378.6 1134.7,378.6 1135.9,378.7 1137.2,378.7 1138.4,378.7 1139.6,378.7 1140.9,378.6 1142.1,378.7 1143.4,378.7 1144.6,378.8 1145.9,378.8 1147.1,378.8 1148.4,378.8 1149.6,378.9 1150.9,378.8 1152.1,378.9 1153.4,378.9 1154.6,379.0 1155.9,379.0 1157.1,379.0 1158.3,379.0 1159.6,379.1 1160.8,379.1 1162.1,379.1 1163.3,379.2 1164.6,379.2 1165.8,379.2 1167.1,379.2 1168.3,379.3 1169.6,379.3 1170.8,379.3 1172.1,379.4 1173.3,379.4 1174.6,379.4 1175.8,379.4 1177.0,379.4 1178.3,379.4 1179.5,379.5 1180.8,379.5 1182.0,379.5 1183.3,379.5 1184.5,379.6 1185.8,379.6 1187.0,379.7 1188.3,379.7 1189.5,379.8 1190.8,379.8 1192.0,379.7 1193.3,379.7 1194.5,379.7 1195.7,379.8 1197.0,379.8 1198.2,379.9 1199.5,380.0 1200.7,380.0 1202.0,380.0 1203.2,380.0 1204.5,380.1 1205.7,380.1 1207.0,380.2 1208.2,380.3 1209.5,380.3 1210.7,380.3 1212.0,380.2 1213.2,380.2 1214.4,380.3 1215.7,380.3 1216.9,380.4 1218.2,380.3 1219.4,380.4 1220.7,380.5 1221.9,380.6 1223.2,380.6 1224.4,380.6 1225.7,380.7 1226.9,380.7 1228.2,380.7 1229.4,380.7 1230.7,380.7 1231.9,380.7 1233.1,380.7 1234.4,380.8 1235.6,380.9 1236.9,380.9 1238.1,381.0 1239.4,381.0 1240.6,381.0 1241.9,381.0 1243.1,381.0 1244.4,381.0 1245.6,381.0 1246.9,381.0 1248.1,381.1 1249.4,381.1 1250.6,381.1 1251.8,381.2 1253.1,381.2 1254.3,381.2 1255.6,381.3 1256.8,381.3 1258.1,381.3 1259.3,381.4 1260.6,381.5 1261.8,381.5 1263.1,381.5 1264.3,381.5 1265.6,381.6 1266.8,381.6 1268.1,381.6 1269.3,381.7 1270.5,381.7 1271.8,381.8 1273.0,381.8 1274.3,381.8 1275.5,381.9 1276.8,381.8 1278.0,381.8 1279.3,381.8 1280.5,381.9 1281.8,381.9 1283.0,382.0 1284.3,384.0 1285.5,386.2 1286.8,388.3 1288.0,389.9 1289.2,391.1 1290.5,392.3 1291.7,393.5 1293.0,394.6 1294.2,395.6 1295.5,396.0 1296.7,396.3 1298.0,396.7 1299.2,397.1 1300.5,397.5 1301.7,397.9 1303.0,398.3 1304.2,398.6 1305.5,398.9 1306.7,399.3 1307.9,399.7 1309.2,399.8 1310.4,399.8 1311.7,399.9 1312.9,400.0 1314.2,400.1 1315.4,400.2 1316.7,400.2 1317.9,400.3 1319.2,400.4 1320.4,400.5 1321.7,400.6 1322.9,400.7 1324.2,400.9 1325.4,400.8 1326.7,400.8 1327.9,400.7 1329.1,400.9 1330.4,400.8 1331.6,400.8 1332.9,400.8 1334.1,400.9 1335.4,400.9 1336.6,400.8 1337.9,400.7 1339.1,400.8 1340.4,400.8 1341.6,400.9 1342.9,400.8 1344.1,400.7 1345.4,400.8 1346.6,400.8 1347.8,400.8 1349.1,400.8 1350.3,400.9 1351.6,400.9 1352.8,400.9 1354.1,400.8 1355.3,400.8 1356.6,400.8 1357.8,400.9 1359.1,401.0 1360.3,400.9 1361.6,400.9 1362.8,400.9 1364.1,400.8 1365.3,400.8 1366.5,400.8 1367.8,400.8 1369.0,400.8 1370.3,400.8 1371.5,400.8 1372.8,400.8 1374.0,400.8 1375.3,400.9 1376.5,400.9 1377.8,401.0 1379.0,400.9 1380.3,401.0 1381.5,400.9 1382.8,400.9 1384.0,400.9 1385.2,400.8 1386.5,400.8 1387.7,400.9 1389.0,401.0 1390.2,401.1 1391.5,401.0 1392.7,401.0 1394.0,400.9 1395.2,400.9 1396.5,400.9 1397.7,400.9 1399.0,400.9 1400.2,400.9 1401.5,400.8 1402.7,400.7 1403.9,400.7 1405.2,400.9 1406.4,400.8 1407.7,400.8 1408.9,400.7 1410.2,400.6 1411.4,400.6 1412.7,400.6 1413.9,400.7 1415.2,400.6 1416.4,400.5 1417.7,400.6 1418.9,400.5 1420.2,400.5 1421.4,400.4 1422.6,400.5 1423.9,400.6 1425.1,400.5 1426.4,400.4 1427.6,400.4 1428.9,400.4 1430.1,400.4 1431.4,400.4 1432.6,400.4 1433.9,400.4 1435.1,400.4 1436.4,400.3 1437.6,400.2 1438.9,400.2 1440.1,400.3 1441.3,400.2 1442.6,400.3 1443.8,400.2 1445.1,400.3 1446.3,400.2 1447.6,400.2 1448.8,400.1 1450.1,400.1 1451.3,400.1 1452.6,400.1 1453.8,400.0 1455.1,400.0 1456.3,400.0 1457.6,400.0 1458.8,400.0 1460.0,400.0 1461.3,400.0 1462.5,399.9 1463.8,399.9 1465.0,399.8 1466.3,399.8 1467.5,399.8 1468.8,399.8 1470.0,399.7 1471.3,399.8 1472.5,399.7 1473.8,399.8 1475.0,399.7 1476.3,399.7 1477.5,399.6 1477.5,433.5 1476.3,433.5 1475.0,433.5 1473.8,433.5 1472.5,433.5 1471.3,433.5 1470.0,433.5 1468.8,433.5 1467.5,433.5 1466.3,433.5 1465.0,433.5 1463.8,433.5 1462.5,433.5 1461.3,433.5 1460.0,433.5 1458.8,433.5 1457.6,433.5 1456.3,433.5 1455.1,433.5 1453.8,433.5 1452.6,433.5 1451.3,433.5 1450.1,433.5 1448.8,433.5 1447.6,433.5 1446.3,433.5 1445.1,433.5 1443.8,433.5 1442.6,433.5 1441.3,433.5 1440.1,433.5 1438.9,433.5 1437.6,433.5 1436.4,433.5 1435.1,433.5 1433.9,433.5 1432.6,433.5 1431.4,433.5 1430.1,433.5 1428.9,433.5 1427.6,433.5 1426.4,433.5 1425.1,433.5 1423.9,433.5 1422.6,433.5 1421.4,433.5 1420.2,433.5 1418.9,433.5 1417.7,433.5 1416.4,433.5 1415.2,433.5 1413.9,433.5 1412.7,433.5 1411.4,433.5 1410.2,433.5 1408.9,433.5 1407.7,433.5 1406.4,433.5 1405.2,433.5 1403.9,433.5 1402.7,433.5 1401.5,433.5 1400.2,433.5 1399.0,433.5 1397.7,433.5 1396.5,433.5 1395.2,433.5 1394.0,433.5 1392.7,433.5 1391.5,433.5 1390.2,433.5 1389.0,433.5 1387.7,433.5 1386.5,433.5 1385.2,433.5 1384.0,433.5 1382.8,433.5 1381.5,433.5 1380.3,433.5 1379.0,433.5 1377.8,433.5 1376.5,433.5 1375.3,433.5 1374.0,433.5 1372.8,433.5 1371.5,433.5 1370.3,433.5 1369.0,433.5 1367.8,433.5 1366.5,433.5 1365.3,433.5 1364.1,433.5 1362.8,433.5 1361.6,433.5 1360.3,433.5 1359.1,433.5 1357.8,433.5 1356.6,433.5 1355.3,433.5 1354.1,433.5 1352.8,433.5 1351.6,433.5 1350.3,433.5 1349.1,433.5 1347.8,433.5 1346.6,433.5 1345.4,433.5 1344.1,433.5 1342.9,433.5 1341.6,433.5 1340.4,433.5 1339.1,433.5 1337.9,433.5 1336.6,433.5 1335.4,433.5 1334.1,433.5 1332.9,433.5 1331.6,433.5 1330.4,433.5 1329.1,433.5 1327.9,433.5 1326.7,433.5 1325.4,433.5 1324.2,433.5 1322.9,433.5 1321.7,433.5 1320.4,433.5 1319.2,433.5 1317.9,433.5 1316.7,433.5 1315.4,433.5 1314.2,433.5 1312.9,433.5 1311.7,433.5 1310.4,433.5 1309.2,433.5 1307.9,433.5 1306.7,433.5 1305.5,433.5 1304.2,433.5 1303.0,433.5 1301.7,433.5 1300.5,433.5 1299.2,433.5 1298.0,433.5 1296.7,433.5 1295.5,433.5 1294.2,433.5 1293.0,433.5 1291.7,433.5 1290.5,433.5 1289.2,433.5 1288.0,433.5 1286.8,433.5 1285.5,433.5 1284.3,433.5 1283.0,433.5 1281.8,433.5 1280.5,433.5 1279.3,433.5 1278.0,433.5 1276.8,433.5 1275.5,433.5 1274.3,433.5 1273.0,433.5 1271.8,433.5 1270.5,433.5 1269.3,433.5 1268.1,433.5 1266.8,433.5 1265.6,433.5 1264.3,433.5 1263.1,433.5 1261.8,433.5 1260.6,433.5 1259.3,433.5 1258.1,433.5 1256.8,433.5 1255.6,433.5 1254.3,433.5 1253.1,433.5 1251.8,433.5 1250.6,433.5 1249.4,433.5 1248.1,433.5 1246.9,433.5 1245.6,433.5 1244.4,433.5 1243.1,433.5 1241.9,433.5 1240.6,433.5 1239.4,433.5 1238.1,433.5 1236.9,433.5 1235.6,433.5 1234.4,433.5 1233.1,433.5 1231.9,433.5 1230.7,433.5 1229.4,433.5 1228.2,433.5 1226.9,433.5 1225.7,433.5 1224.4,433.5 1223.2,433.5 1221.9,433.5 1220.7,433.5 1219.4,433.5 1218.2,433.5 1216.9,433.5 1215.7,433.5 1214.4,433.5 1213.2,433.5 1212.0,433.5 1210.7,433.5 1209.5,433.5 1208.2,433.5 1207.0,433.5 1205.7,433.5 1204.5,433.5 1203.2,433.5 1202.0,433.5 1200.7,433.5 1199.5,433.5 1198.2,433.5 1197.0,433.5 1195.7,433.5 1194.5,433.5 1193.3,433.5 1192.0,433.5 1190.8,433.5 1189.5,433.5 1188.3,433.5 1187.0,433.5 1185.8,433.5 1184.5,433.5 1183.3,433.5 1182.0,433.5 1180.8,433.5 1179.5,433.5 1178.3,433.5 1177.0,433.5 1175.8,433.5 1174.6,433.5 1173.3,433.5 1172.1,433.5 1170.8,433.5 1169.6,433.5 1168.3,433.5 1167.1,433.5 1165.8,433.5 1164.6,433.5 1163.3,433.5 1162.1,433.5 1160.8,433.5 1159.6,433.5 1158.3,433.5 1157.1,433.5 1155.9,433.5 1154.6,433.5 1153.4,433.5 1152.1,433.5 1150.9,433.5 1149.6,433.5 1148.4,433.5 1147.1,433.5 1145.9,433.5 1144.6,433.5 1143.4,433.5 1142.1,433.5 1140.9,433.5 1139.6,433.5 1138.4,433.5 1137.2,433.5 1135.9,433.5 1134.7,433.5 1133.4,433.5 1132.2,433.5 1130.9,433.5 1129.7,433.5 1128.4,433.5 1127.2,433.5 1125.9,433.5 1124.7,433.5 1123.4,433.5 1122.2,433.5 1120.9,433.5 1119.7,433.5 1118.5,433.5 1117.2,433.5 1116.0,433.5 1114.7,433.5 1113.5,433.5 1112.2,433.5 1111.0,433.5 1109.7,433.5 1108.5,433.5 1107.2,433.5 1106.0,433.5 1104.7,433.5 1103.5,433.5 1102.2,433.5 1101.0,433.5 1099.8,433.5 1098.5,433.5 1097.3,433.5 1096.0,433.5 1094.8,433.5 1093.5,433.5 1092.3,433.5 1091.0,433.5 1089.8,433.5 1088.5,433.5 1087.3,433.5 1086.0,433.5 1084.8,433.5 1083.5,433.5 1082.3,433.5 1081.1,433.5 1079.8,433.5 1078.6,433.5 1077.3,433.5 1076.1,433.5 1074.8,433.5 1073.6,433.5 1072.3,433.5 1071.1,433.5 1069.8,433.5 1068.6,433.5 1067.3,433.5 1066.1,433.5 1064.8,433.5 1063.6,433.5 1062.4,433.5 1061.1,433.5 1059.9,433.5 1058.6,433.5 1057.4,433.5 1056.1,433.5 1054.9,433.5 1053.6,433.5 1052.4,433.5 1051.1,433.5 1049.9,433.5 1048.6,433.5 1047.4,433.5 1046.1,433.5 1044.9,433.5 1043.7,433.5 1042.4,433.5 1041.2,433.5 1039.9,433.5 1038.7,433.5 1037.4,433.5 1036.2,433.5 1034.9,433.5 1033.7,433.5 1032.4,433.5 1031.2,433.5 1029.9,433.5 1028.7,433.5 1027.4,433.5 1026.2,433.5 1025.0,433.5 1023.7,433.5 1022.5,433.5 1021.2,433.5 1020.0,433.5 1018.7,433.5 1017.5,433.5 1016.2,433.5 1015.0,433.5 1013.7,433.5 1012.5,433.5 1011.2,433.5 1010.0,433.5 1008.7,433.5 1007.5,433.5 1006.3,433.5 1005.0,433.5 1003.8,433.5 1002.5,433.5 1001.3,433.5 1000.0,433.5 998.8,433.5 997.5,433.5 996.3,433.5 995.0,433.5 993.8,433.5 992.5,433.5 991.3,433.5 990.0,433.5 988.8,433.5 987.6,433.5 986.3,433.5 985.1,433.5 983.8,433.5 982.6,433.5 981.3,433.5 980.1,433.5 978.8,433.5 977.6,433.5 976.3,433.5 975.1,433.5 973.8,433.5 972.6,433.5 971.3,433.5 970.1,433.5 968.8,433.5 967.6,433.5 966.4,433.5 965.1,433.5 963.9,433.5 962.6,433.5 961.4,433.5 960.1,433.5 958.9,433.5 957.6,433.5 956.4,433.5 955.1,433.5 953.9,433.5 952.6,433.5 951.4,433.5 950.1,433.5 948.9,433.5 947.7,433.5 946.4,433.5 945.2,433.5 943.9,433.5 942.7,433.5 941.4,433.5 940.2,433.5 938.9,433.5 937.7,433.5 936.4,433.5 935.2,433.5 933.9,433.5 932.7,433.5 931.4,433.5 930.2,433.5 929.0,433.5 927.7,433.5 926.5,433.5 925.2,433.5 924.0,433.5 922.7,433.5 921.5,433.5 920.2,433.5 919.0,433.5 917.7,433.5 916.5,433.5 915.2,433.5 914.0,433.5 912.7,433.5 911.5,433.5 910.3,433.5 909.0,433.5 907.8,433.5 906.5,433.5 905.3,433.5 904.0,433.5 902.8,433.5 901.5,433.5 900.3,433.5 899.0,433.5 897.8,433.5 896.5,433.5 895.3,433.5 894.0,433.5 892.8,433.5 891.6,433.5 890.3,433.5 889.1,433.5 887.8,433.5 886.6,433.5 885.3,433.5 884.1,433.5 882.8,433.5 881.6,433.5 880.3,433.5 879.1,433.5 877.8,433.5 876.6,433.5 875.3,433.5 874.1,433.5 872.9,433.5 871.6,433.5 870.4,433.5 869.1,433.5 867.9,433.5 866.6,433.5 865.4,433.5 864.1,433.5 862.9,433.5 861.6,433.5 860.4,433.5 859.1,433.5 857.9,433.5 856.6,433.5 855.4,433.5 854.2,433.5 852.9,433.5 851.7,433.5 850.4,433.5 849.2,433.5 847.9,433.5 846.7,433.5 845.4,433.5 844.2,433.5 842.9,433.5 841.7,433.5 840.4,433.5 839.2,433.5 837.9,433.5 836.7,433.5 835.5,433.5 834.2,433.5 833.0,433.5 831.7,433.5 830.5,433.5 829.2,433.5 828.0,433.5 826.7,433.5 825.5,433.5 824.2,433.5 823.0,433.5 821.7,433.5 820.5,433.5 819.2,433.5 818.0,433.5" fill="#BF1B00" fill-opacity="0.42"/><polyline points="818.0,477.2 819.2,477.2 820.5,477.0 821.7,476.7 823.0,476.6 824.2,476.8 825.5,477.1 826.7,477.0 828.0,476.6 829.2,476.5 830.5,476.8 831.7,477.2 833.0,477.0 834.2,476.8 835.5,476.9 836.7,477.2 837.9,477.4 839.2,477.2 840.4,477.3 841.7,477.2 842.9,477.0 844.2,477.0 845.4,476.9 846.7,477.0 847.9,476.8 849.2,477.0 850.4,477.1 851.7,477.4 852.9,477.2 854.2,477.3 855.4,477.2 856.6,477.2 857.9,477.0 859.1,477.2 860.4,477.3 861.6,477.4 862.9,477.4 864.1,477.3 865.4,477.3 866.6,476.9 867.9,476.9 869.1,477.0 870.4,477.2 871.6,477.5 872.9,477.1 874.1,477.2 875.3,477.3 876.6,477.4 877.8,477.4 879.1,477.0 880.3,477.1 881.6,477.0 882.8,477.3 884.1,477.2 885.3,477.4 886.6,477.0 887.8,476.9 889.1,476.3 890.3,476.5 891.6,476.4 892.8,476.7 894.0,476.9 895.3,477.0 896.5,477.0 897.8,476.9 899.0,476.9 900.3,477.1 901.5,477.0 902.8,477.1 904.0,477.1 905.3,477.1 906.5,477.1 907.8,477.2 909.0,477.1 910.3,477.3 911.5,477.4 912.7,477.7 914.0,477.4 915.2,477.2 916.5,477.2 917.7,477.5 919.0,477.4 920.2,477.4 921.5,477.5 922.7,477.4 924.0,477.5 925.2,477.3 926.5,477.4 927.7,477.3 929.0,477.2 930.2,477.0 931.4,477.1 932.7,478.1 933.9,479.6 935.2,480.5 936.4,482.4 937.7,485.0 938.9,487.9 940.2,490.2 941.4,491.0 942.7,491.7 943.9,492.2 945.2,492.8 946.4,493.3 947.7,493.7 948.9,494.2 950.1,495.1 951.4,495.5 952.6,495.7 953.9,495.7 955.1,496.0 956.4,496.1 957.6,496.2 958.9,496.6 960.1,496.9 961.4,496.9 962.6,496.8 963.9,496.8 965.1,496.9 966.4,496.9 967.6,497.2 968.8,497.3 970.1,497.8 971.3,497.9 972.6,498.2 973.8,498.3 975.1,498.2 976.3,498.3 977.6,498.4 978.8,498.5 980.1,498.5 981.3,498.5 982.6,498.7 983.8,498.8 985.1,498.8 986.3,498.9 987.6,499.1 988.8,499.5 990.0,499.9 991.3,500.1 992.5,500.2 993.8,500.1 995.0,500.0 996.3,500.2 997.5,500.7 998.8,500.8 1000.0,500.8 1001.3,500.9 1002.5,501.1 1003.8,501.4 1005.0,501.7 1006.3,502.2 1007.5,502.4 1008.7,502.0 1010.0,502.2 1011.2,502.3 1012.5,502.8 1013.7,502.8 1015.0,503.1 1016.2,503.2 1017.5,503.0 1018.7,502.6 1020.0,502.8 1021.2,503.0 1022.5,503.0 1023.7,502.9 1025.0,502.8 1026.2,503.0 1027.4,502.5 1028.7,502.2 1029.9,502.0 1031.2,502.1 1032.4,502.0 1033.7,502.1 1034.9,502.3 1036.2,502.5 1037.4,501.9 1038.7,501.8 1039.9,501.7 1041.2,501.8 1042.4,501.4 1043.7,501.0 1044.9,501.0 1046.1,501.4 1047.4,501.3 1048.6,501.3 1049.9,501.2 1051.1,501.5 1052.4,501.2 1053.6,500.9 1054.9,500.8 1056.1,501.0 1057.4,501.0 1058.6,501.0 1059.9,500.5 1061.1,500.5 1062.4,500.7 1063.6,501.1 1064.8,500.8 1066.1,500.7 1067.3,500.8 1068.6,501.0 1069.8,500.9 1071.1,500.3 1072.3,500.3 1073.6,500.2 1074.8,500.2 1076.1,500.1 1077.3,500.2 1078.6,499.9 1079.8,499.5 1081.1,499.3 1082.3,499.5 1083.5,499.5 1084.8,499.6 1086.0,499.6 1087.3,499.9 1088.5,499.8 1089.8,499.8 1091.0,499.1 1092.3,499.1 1093.5,498.9 1094.8,499.1 1096.0,499.1 1097.3,499.1 1098.5,499.6 1099.8,499.5 1101.0,499.6 1102.2,499.6 1103.5,499.7 1104.7,499.7 1106.0,499.3 1107.2,499.3 1108.5,499.5 1109.7,499.5 1111.0,499.2 1112.2,499.0 1113.5,499.0 1114.7,499.2 1116.0,499.2 1117.2,498.9 1118.5,498.8 1119.7,498.6 1120.9,498.8 1122.2,499.1 1123.4,499.3 1124.7,499.1 1125.9,498.9 1127.2,498.9 1128.4,499.2 1129.7,499.2 1130.9,499.1 1132.2,498.8 1133.4,498.9 1134.7,498.8 1135.9,498.6 1137.2,498.4 1138.4,498.3 1139.6,498.1 1140.9,498.1 1142.1,498.3 1143.4,498.5 1144.6,498.5 1145.9,498.5 1147.1,498.3 1148.4,498.2 1149.6,498.3 1150.9,498.6 1152.1,498.6 1153.4,498.4 1154.6,498.0 1155.9,498.4 1157.1,498.1 1158.3,498.1 1159.6,497.8 1160.8,498.2 1162.1,498.2 1163.3,498.2 1164.6,498.2 1165.8,498.3 1167.1,498.1 1168.3,498.0 1169.6,497.8 1170.8,498.0 1172.1,498.3 1173.3,498.2 1174.6,498.3 1175.8,497.9 1177.0,497.9 1178.3,498.0 1179.5,497.8 1180.8,497.9 1182.0,497.8 1183.3,498.1 1184.5,497.9 1185.8,497.6 1187.0,497.5 1188.3,497.7 1189.5,497.6 1190.8,497.7 1192.0,497.2 1193.3,497.4 1194.5,497.3 1195.7,497.5 1197.0,497.4 1198.2,497.1 1199.5,497.0 1200.7,496.9 1202.0,496.7 1203.2,496.6 1204.5,496.9 1205.7,497.4 1207.0,497.5 1208.2,497.4 1209.5,497.3 1210.7,497.3 1212.0,497.1 1213.2,497.3 1214.4,497.3 1215.7,497.0 1216.9,496.4 1218.2,496.1 1219.4,496.3 1220.7,496.1 1221.9,496.1 1223.2,496.1 1224.4,496.6 1225.7,496.6 1226.9,496.7 1228.2,496.6 1229.4,496.7 1230.7,496.5 1231.9,496.4 1233.1,496.1 1234.4,496.3 1235.6,496.2 1236.9,496.0 1238.1,495.8 1239.4,495.5 1240.6,495.6 1241.9,495.4 1243.1,495.4 1244.4,495.8 1245.6,496.0 1246.9,496.1 1248.1,496.1 1249.4,496.1 1250.6,496.2 1251.8,496.2 1253.1,496.1 1254.3,495.8 1255.6,495.6 1256.8,495.8 1258.1,495.8 1259.3,495.8 1260.6,495.6 1261.8,495.5 1263.1,495.5 1264.3,495.3 1265.6,495.2 1266.8,495.0 1268.1,495.2 1269.3,495.3 1270.5,495.3 1271.8,495.1 1273.0,495.0 1274.3,495.5 1275.5,495.8 1276.8,495.7 1278.0,495.2 1279.3,494.5 1280.5,494.4 1281.8,494.4 1283.0,494.6 1284.3,469.4 1285.5,461.9 1286.8,460.8 1288.0,459.5 1289.2,459.5 1290.5,459.3 1291.7,459.2 1293.0,459.3 1294.2,459.3 1295.5,459.6 1296.7,473.7 1298.0,477.0 1299.2,476.8 1300.5,476.5 1301.7,476.5 1303.0,476.2 1304.2,476.2 1305.5,476.3 1306.7,476.3 1307.9,476.1 1309.2,475.9 1310.4,475.9 1311.7,476.1 1312.9,475.8 1314.2,475.9 1315.4,475.4 1316.7,475.4 1317.9,475.4 1319.2,475.3 1320.4,474.9 1321.7,474.5 1322.9,474.6 1324.2,474.7 1325.4,474.8 1326.7,474.8 1327.9,474.6 1329.1,474.4 1330.4,474.5 1331.6,474.8 1332.9,474.9 1334.1,474.8 1335.4,474.5 1336.6,474.6 1337.9,474.8 1339.1,474.9 1340.4,474.7 1341.6,474.6 1342.9,475.0 1344.1,475.2 1345.4,475.4 1346.6,475.1 1347.8,475.4 1349.1,475.1 1350.3,475.1 1351.6,474.8 1352.8,475.2 1354.1,475.2 1355.3,475.1 1356.6,475.2 1357.8,475.2 1359.1,475.3 1360.3,475.1 1361.6,475.1 1362.8,475.3 1364.1,475.0 1365.3,475.0 1366.5,475.0 1367.8,474.9 1369.0,474.9 1370.3,474.8 1371.5,475.3 1372.8,475.6 1374.0,475.7 1375.3,475.4 1376.5,475.4 1377.8,475.4 1379.0,475.8 1380.3,475.8 1381.5,476.1 1382.8,476.0 1384.0,476.1 1385.2,476.1 1386.5,476.2 1387.7,475.8 1389.0,475.9 1390.2,476.1 1391.5,476.2 1392.7,476.2 1394.0,475.9 1395.2,476.0 1396.5,476.0 1397.7,476.3 1399.0,476.1 1400.2,476.0 1401.5,476.0 1402.7,476.3 1403.9,476.7 1405.2,477.0 1406.4,476.8 1407.7,476.5 1408.9,476.3 1410.2,476.5 1411.4,476.8 1412.7,476.8 1413.9,477.1 1415.2,477.0 1416.4,477.2 1417.7,477.2 1418.9,477.2 1420.2,477.2 1421.4,477.1 1422.6,477.1 1423.9,477.1 1425.1,477.0 1426.4,477.4 1427.6,477.8 1428.9,477.9 1430.1,477.6 1431.4,477.1 1432.6,477.1 1433.9,477.2 1435.1,477.7 1436.4,477.8 1437.6,477.8 1438.9,477.9 1440.1,478.2 1441.3,478.4 1442.6,478.3 1443.8,478.6 1445.1,478.7 1446.3,478.7 1447.6,478.3 1448.8,478.4 1450.1,478.4 1451.3,478.6 1452.6,478.6 1453.8,478.8 1455.1,478.8 1456.3,478.9 1457.6,478.7 1458.8,478.8 1460.0,479.2 1461.3,479.7 1462.5,479.2 1463.8,479.1 1465.0,478.9 1466.3,479.3 1467.5,479.5 1468.8,479.9 1470.0,479.8 1471.3,479.6 1472.5,479.7 1473.8,479.9 1475.0,480.2 1476.3,480.0 1477.5,480.0" fill="none" stroke="#dcb22c" stroke-width="1.25" stroke-linejoin="round"/><polyline points="818.0,436.3 819.2,436.1 820.5,436.1 821.7,436.1 823.0,436.4 824.2,436.6 825.5,436.6 826.7,436.5 828.0,436.4 829.2,436.8 830.5,437.0 831.7,437.0 833.0,436.7 834.2,436.6 835.5,436.7 836.7,437.0 837.9,436.9 839.2,436.8 840.4,436.4 841.7,436.5 842.9,436.6 844.2,436.9 845.4,436.8 846.7,436.7 847.9,436.6 849.2,436.7 850.4,436.9 851.7,436.9 852.9,437.3 854.2,437.3 855.4,437.2 856.6,437.1 857.9,437.2 859.1,437.6 860.4,437.4 861.6,437.2 862.9,436.9 864.1,437.1 865.4,437.2 866.6,437.3 867.9,437.3 869.1,437.3 870.4,437.3 871.6,437.3 872.9,437.1 874.1,437.4 875.3,437.4 876.6,437.7 877.8,437.7 879.1,438.1 880.3,438.0 881.6,438.1 882.8,438.0 884.1,438.1 885.3,438.1 886.6,438.1 887.8,438.2 889.1,438.1 890.3,438.1 891.6,438.2 892.8,438.3 894.0,438.5 895.3,438.4 896.5,438.6 897.8,438.6 899.0,438.8 900.3,438.8 901.5,438.9 902.8,438.8 904.0,438.7 905.3,439.0 906.5,439.0 907.8,439.3 909.0,439.4 910.3,439.6 911.5,439.7 912.7,439.7 914.0,439.7 915.2,439.4 916.5,437.3 917.7,435.4 919.0,435.2 920.2,435.4 921.5,435.2 922.7,435.0 924.0,434.9 925.2,434.9 926.5,435.1 927.7,435.5 929.0,435.5 930.2,435.6 931.4,435.3 932.7,435.4 933.9,435.2 935.2,435.0 936.4,434.9 937.7,434.9 938.9,435.2 940.2,435.2 941.4,435.3 942.7,435.4 943.9,435.2 945.2,435.4 946.4,435.4 947.7,435.4 948.9,435.1 950.1,435.1 951.4,435.3 952.6,435.2 953.9,435.1 955.1,435.3 956.4,435.7 957.6,435.5 958.9,435.2 960.1,435.1 961.4,435.2 962.6,435.2 963.9,435.3 965.1,435.6 966.4,435.6 967.6,435.7 968.8,435.6 970.1,435.4 971.3,435.2 972.6,435.2 973.8,435.4 975.1,435.4 976.3,435.3 977.6,435.5 978.8,435.5 980.1,435.4 981.3,435.2 982.6,435.3 983.8,435.6 985.1,435.9 986.3,435.9 987.6,435.7 988.8,435.5 990.0,435.5 991.3,435.7 992.5,435.7 993.8,435.6 995.0,435.6 996.3,435.7 997.5,435.6 998.8,435.4 1000.0,435.4 1001.3,435.5 1002.5,435.6 1003.8,435.7 1005.0,435.7 1006.3,435.9 1007.5,435.7 1008.7,435.7 1010.0,435.7 1011.2,435.7 1012.5,442.3 1013.7,448.9 1015.0,440.2 1016.2,438.6 1017.5,442.5 1018.7,446.1 1020.0,452.1 1021.2,461.2 1022.5,469.3 1023.7,471.1 1025.0,472.7 1026.2,471.8 1027.4,470.9 1028.7,469.7 1029.9,468.8 1031.2,467.4 1032.4,466.5 1033.7,465.6 1034.9,465.4 1036.2,464.9 1037.4,464.5 1038.7,464.3 1039.9,464.1 1041.2,463.5 1042.4,462.9 1043.7,462.4 1044.9,462.1 1046.1,461.7 1047.4,461.2 1048.6,460.6 1049.9,460.1 1051.1,460.1 1052.4,460.0 1053.6,459.7 1054.9,459.4 1056.1,459.0 1057.4,458.8 1058.6,458.7 1059.9,458.7 1061.1,458.5 1062.4,458.1 1063.6,457.7 1064.8,457.6 1066.1,457.5 1067.3,457.4 1068.6,457.0 1069.8,456.6 1071.1,456.6 1072.3,456.5 1073.6,456.4 1074.8,456.1 1076.1,455.7 1077.3,455.2 1078.6,455.1 1079.8,455.1 1081.1,455.1 1082.3,455.0 1083.5,454.9 1084.8,454.7 1086.0,454.6 1087.3,454.5 1088.5,454.3 1089.8,454.2 1091.0,454.0 1092.3,453.9 1093.5,453.8 1094.8,453.3 1096.0,453.2 1097.3,453.0 1098.5,453.1 1099.8,453.1 1101.0,452.8 1102.2,452.7 1103.5,452.4 1104.7,452.6 1106.0,452.3 1107.2,452.2 1108.5,451.8 1109.7,451.7 1111.0,451.5 1112.2,451.5 1113.5,451.4 1114.7,451.4 1116.0,451.0 1117.2,450.7 1118.5,450.6 1119.7,450.6 1120.9,450.5 1122.2,450.5 1123.4,450.7 1124.7,450.8 1125.9,450.7 1127.2,450.3 1128.4,450.2 1129.7,450.1 1130.9,449.9 1132.2,449.6 1133.4,449.4 1134.7,449.2 1135.9,449.1 1137.2,449.0 1138.4,449.0 1139.6,448.9 1140.9,449.0 1142.1,448.9 1143.4,448.6 1144.6,448.2 1145.9,448.2 1147.1,448.0 1148.4,448.0 1149.6,448.0 1150.9,448.1 1152.1,447.9 1153.4,447.8 1154.6,447.6 1155.9,447.4 1157.1,447.0 1158.3,447.0 1159.6,446.9 1160.8,447.0 1162.1,446.6 1163.3,446.7 1164.6,446.6 1165.8,446.5 1167.1,446.3 1168.3,446.4 1169.6,446.3 1170.8,446.1 1172.1,445.9 1173.3,445.5 1174.6,445.6 1175.8,445.5 1177.0,445.6 1178.3,445.4 1179.5,445.4 1180.8,445.3 1182.0,445.4 1183.3,445.4 1184.5,445.2 1185.8,444.8 1187.0,444.5 1188.3,444.5 1189.5,444.6 1190.8,444.6 1192.0,444.4 1193.3,444.2 1194.5,444.0 1195.7,443.9 1197.0,443.9 1198.2,444.1 1199.5,444.0 1200.7,444.0 1202.0,443.7 1203.2,443.5 1204.5,443.4 1205.7,443.3 1207.0,443.3 1208.2,442.8 1209.5,442.6 1210.7,442.7 1212.0,442.7 1213.2,442.6 1214.4,442.4 1215.7,442.3 1216.9,442.2 1218.2,442.0 1219.4,441.8 1220.7,441.9 1221.9,441.9 1223.2,442.0 1224.4,441.9 1225.7,441.8 1226.9,441.7 1228.2,441.5 1229.4,441.0 1230.7,440.8 1231.9,440.7 1233.1,441.1 1234.4,441.1 1235.6,441.1 1236.9,441.0 1238.1,440.7 1239.4,440.5 1240.6,440.1 1241.9,439.7 1243.1,439.5 1244.4,439.4 1245.6,439.6 1246.9,439.6 1248.1,439.6 1249.4,439.5 1250.6,439.2 1251.8,439.1 1253.1,439.1 1254.3,439.2 1255.6,439.2 1256.8,438.9 1258.1,438.6 1259.3,438.4 1260.6,438.1 1261.8,438.1 1263.1,437.9 1264.3,437.9 1265.6,437.7 1266.8,437.9 1268.1,437.7 1269.3,437.8 1270.5,437.6 1271.8,437.6 1273.0,437.4 1274.3,437.0 1275.5,437.0 1276.8,437.0 1278.0,437.1 1279.3,437.1 1280.5,436.8 1281.8,437.2 1283.0,437.7 1284.3,438.5 1285.5,437.6 1286.8,436.2 1288.0,435.6 1289.2,435.7 1290.5,435.7 1291.7,435.5 1293.0,435.5 1294.2,435.6 1295.5,435.9 1296.7,441.0 1298.0,450.9 1299.2,452.1 1300.5,450.9 1301.7,449.6 1303.0,448.0 1304.2,446.8 1305.5,445.9 1306.7,444.9 1307.9,443.9 1309.2,442.9 1310.4,442.4 1311.7,442.0 1312.9,441.6 1314.2,441.0 1315.4,440.8 1316.7,440.2 1317.9,439.7 1319.2,439.1 1320.4,438.9 1321.7,438.7 1322.9,438.4 1324.2,438.2 1325.4,437.9 1326.7,438.0 1327.9,437.7 1329.1,437.7 1330.4,437.5 1331.6,437.4 1332.9,437.1 1334.1,437.1 1335.4,437.3 1336.6,437.4 1337.9,437.4 1339.1,437.1 1340.4,437.1 1341.6,437.0 1342.9,436.9 1344.1,436.6 1345.4,436.6 1346.6,436.4 1347.8,436.3 1349.1,436.5 1350.3,436.5 1351.6,436.5 1352.8,436.4 1354.1,436.5 1355.3,436.5 1356.6,436.4 1357.8,436.4 1359.1,436.2 1360.3,436.2 1361.6,436.3 1362.8,436.5 1364.1,436.5 1365.3,436.5 1366.5,436.4 1367.8,436.5 1369.0,436.3 1370.3,436.3 1371.5,436.2 1372.8,436.3 1374.0,436.3 1375.3,436.5 1376.5,436.5 1377.8,436.5 1379.0,436.6 1380.3,436.9 1381.5,436.8 1382.8,436.7 1384.0,436.4 1385.2,436.6 1386.5,436.6 1387.7,436.6 1389.0,436.5 1390.2,436.4 1391.5,436.4 1392.7,436.5 1394.0,436.6 1395.2,436.7 1396.5,436.6 1397.7,436.8 1399.0,436.8 1400.2,436.8 1401.5,436.6 1402.7,436.6 1403.9,436.6 1405.2,436.5 1406.4,436.4 1407.7,436.5 1408.9,436.5 1410.2,436.7 1411.4,436.9 1412.7,437.0 1413.9,437.0 1415.2,436.8 1416.4,436.5 1417.7,436.6 1418.9,436.5 1420.2,436.6 1421.4,436.6 1422.6,436.4 1423.9,436.6 1425.1,436.6 1426.4,436.7 1427.6,436.5 1428.9,436.4 1430.1,436.4 1431.4,436.5 1432.6,436.7 1433.9,436.7 1435.1,436.7 1436.4,436.5 1437.6,436.5 1438.9,436.5 1440.1,436.7 1441.3,436.8 1442.6,436.8 1443.8,436.7 1445.1,436.6 1446.3,436.6 1447.6,436.6 1448.8,436.8 1450.1,436.8 1451.3,436.7 1452.6,436.7 1453.8,436.7 1455.1,436.9 1456.3,436.8 1457.6,437.0 1458.8,436.9 1460.0,436.9 1461.3,436.6 1462.5,436.6 1463.8,436.6 1465.0,437.0 1466.3,436.9 1467.5,436.9 1468.8,436.9 1470.0,437.1 1471.3,437.2 1472.5,437.1 1473.8,436.9 1475.0,436.8 1476.3,436.7 1477.5,436.8" fill="none" stroke="#0a2d50" stroke-width="1.25" stroke-linejoin="round"/><polyline points="818.0,433.5 819.2,433.5 820.5,433.5 821.7,433.5 823.0,433.5 824.2,433.5 825.5,433.5 826.7,433.5 828.0,433.5 829.2,433.5 830.5,433.5 831.7,433.5 833.0,433.5 834.2,433.5 835.5,433.5 836.7,433.5 837.9,433.5 839.2,433.5 840.4,433.5 841.7,433.5 842.9,433.5 844.2,433.5 845.4,433.5 846.7,433.5 847.9,433.5 849.2,433.5 850.4,433.5 851.7,433.5 852.9,433.5 854.2,433.5 855.4,433.5 856.6,433.5 857.9,433.5 859.1,433.5 860.4,433.5 861.6,433.5 862.9,433.5 864.1,433.5 865.4,433.5 866.6,433.5 867.9,433.5 869.1,433.5 870.4,433.5 871.6,433.5 872.9,433.5 874.1,433.5 875.3,433.5 876.6,433.5 877.8,433.5 879.1,433.5 880.3,433.5 881.6,433.5 882.8,433.5 884.1,433.5 885.3,433.5 886.6,433.5 887.8,433.5 889.1,433.5 890.3,433.5 891.6,433.5 892.8,433.5 894.0,433.5 895.3,433.5 896.5,433.5 897.8,433.5 899.0,433.5 900.3,433.5 901.5,433.5 902.8,433.5 904.0,433.5 905.3,433.5 906.5,433.5 907.8,433.5 909.0,433.5 910.3,433.5 911.5,433.5 912.7,433.5 914.0,433.5 915.2,433.5 916.5,433.5 917.7,433.5 919.0,433.5 920.2,433.5 921.5,433.5 922.7,433.5 924.0,433.5 925.2,433.5 926.5,433.5 927.7,433.5 929.0,433.5 930.2,433.5 931.4,433.5 932.7,433.5 933.9,433.5 935.2,433.5 936.4,433.5 937.7,433.5 938.9,433.5 940.2,433.5 941.4,433.5 942.7,433.5 943.9,433.5 945.2,433.5 946.4,433.5 947.7,433.5 948.9,433.5 950.1,433.5 951.4,433.5 952.6,433.5 953.9,433.5 955.1,433.5 956.4,433.5 957.6,433.5 958.9,433.5 960.1,433.5 961.4,433.5 962.6,433.5 963.9,433.5 965.1,433.5 966.4,433.5 967.6,433.5 968.8,433.5 970.1,433.5 971.3,433.5 972.6,433.5 973.8,433.5 975.1,433.5 976.3,433.5 977.6,433.5 978.8,433.5 980.1,433.5 981.3,433.5 982.6,433.5 983.8,433.5 985.1,433.5 986.3,433.5 987.6,433.5 988.8,433.5 990.0,433.5 991.3,433.5 992.5,433.5 993.8,433.5 995.0,433.5 996.3,433.5 997.5,433.5 998.8,433.5 1000.0,433.5 1001.3,433.5 1002.5,433.5 1003.8,433.5 1005.0,433.5 1006.3,433.5 1007.5,433.5 1008.7,433.5 1010.0,433.5 1011.2,433.5 1012.5,433.5 1013.7,433.5 1015.0,433.5 1016.2,433.5 1017.5,433.5 1018.7,433.5 1020.0,433.5 1021.2,433.5 1022.5,433.5 1023.7,433.5 1025.0,433.5 1026.2,433.5 1027.4,433.5 1028.7,433.5 1029.9,433.5 1031.2,433.5 1032.4,433.5 1033.7,433.5 1034.9,433.5 1036.2,433.5 1037.4,433.5 1038.7,433.5 1039.9,433.5 1041.2,433.5 1042.4,433.5 1043.7,433.5 1044.9,433.5 1046.1,433.5 1047.4,433.5 1048.6,433.5 1049.9,433.5 1051.1,433.5 1052.4,433.5 1053.6,433.5 1054.9,433.5 1056.1,433.5 1057.4,433.5 1058.6,433.5 1059.9,433.5 1061.1,433.5 1062.4,433.5 1063.6,433.5 1064.8,433.5 1066.1,433.5 1067.3,433.5 1068.6,433.5 1069.8,433.5 1071.1,433.5 1072.3,433.5 1073.6,433.5 1074.8,433.5 1076.1,433.5 1077.3,433.5 1078.6,433.5 1079.8,433.5 1081.1,433.5 1082.3,433.5 1083.5,433.5 1084.8,433.5 1086.0,433.5 1087.3,433.5 1088.5,433.5 1089.8,433.5 1091.0,433.5 1092.3,433.5 1093.5,433.5 1094.8,433.5 1096.0,433.5 1097.3,433.5 1098.5,433.5 1099.8,433.5 1101.0,433.5 1102.2,433.5 1103.5,433.5 1104.7,433.5 1106.0,433.5 1107.2,433.5 1108.5,433.5 1109.7,433.5 1111.0,433.5 1112.2,433.5 1113.5,433.5 1114.7,433.5 1116.0,433.5 1117.2,433.5 1118.5,433.5 1119.7,433.5 1120.9,433.5 1122.2,433.5 1123.4,433.5 1124.7,433.5 1125.9,433.5 1127.2,433.5 1128.4,433.5 1129.7,433.5 1130.9,433.5 1132.2,433.5 1133.4,433.5 1134.7,433.5 1135.9,433.5 1137.2,433.5 1138.4,433.5 1139.6,433.5 1140.9,433.5 1142.1,433.5 1143.4,433.5 1144.6,433.5 1145.9,433.5 1147.1,433.5 1148.4,433.5 1149.6,433.5 1150.9,433.5 1152.1,433.5 1153.4,433.5 1154.6,433.5 1155.9,433.5 1157.1,433.5 1158.3,433.5 1159.6,433.5 1160.8,433.5 1162.1,433.5 1163.3,433.5 1164.6,433.5 1165.8,433.5 1167.1,433.5 1168.3,433.5 1169.6,433.5 1170.8,433.5 1172.1,433.5 1173.3,433.5 1174.6,433.5 1175.8,433.5 1177.0,433.5 1178.3,433.5 1179.5,433.5 1180.8,433.5 1182.0,433.5 1183.3,433.5 1184.5,433.5 1185.8,433.5 1187.0,433.5 1188.3,433.5 1189.5,433.5 1190.8,433.5 1192.0,433.5 1193.3,433.5 1194.5,433.5 1195.7,433.5 1197.0,433.5 1198.2,433.5 1199.5,433.5 1200.7,433.5 1202.0,433.5 1203.2,433.5 1204.5,433.5 1205.7,433.5 1207.0,433.5 1208.2,433.5 1209.5,433.5 1210.7,433.5 1212.0,433.5 1213.2,433.5 1214.4,433.5 1215.7,433.5 1216.9,433.5 1218.2,433.5 1219.4,433.5 1220.7,433.5 1221.9,433.5 1223.2,433.5 1224.4,433.5 1225.7,433.5 1226.9,433.5 1228.2,433.5 1229.4,433.5 1230.7,433.5 1231.9,433.5 1233.1,433.5 1234.4,433.5 1235.6,433.5 1236.9,433.5 1238.1,433.5 1239.4,433.5 1240.6,433.5 1241.9,433.5 1243.1,433.5 1244.4,433.5 1245.6,433.5 1246.9,433.5 1248.1,433.5 1249.4,433.5 1250.6,433.5 1251.8,433.5 1253.1,433.5 1254.3,433.5 1255.6,433.5 1256.8,433.5 1258.1,433.5 1259.3,433.5 1260.6,433.5 1261.8,433.5 1263.1,433.5 1264.3,433.5 1265.6,433.5 1266.8,433.5 1268.1,433.5 1269.3,433.5 1270.5,433.5 1271.8,433.5 1273.0,433.5 1274.3,433.5 1275.5,433.5 1276.8,433.5 1278.0,433.5 1279.3,433.5 1280.5,433.5 1281.8,433.5 1283.0,433.5 1284.3,433.5 1285.5,433.5 1286.8,433.5 1288.0,433.5 1289.2,433.5 1290.5,433.5 1291.7,433.5 1293.0,433.5 1294.2,433.5 1295.5,433.5 1296.7,433.5 1298.0,433.5 1299.2,433.5 1300.5,433.5 1301.7,433.5 1303.0,433.5 1304.2,433.5 1305.5,433.5 1306.7,433.5 1307.9,433.5 1309.2,433.5 1310.4,433.5 1311.7,433.5 1312.9,433.5 1314.2,433.5 1315.4,433.5 1316.7,433.5 1317.9,433.5 1319.2,433.5 1320.4,433.5 1321.7,433.5 1322.9,433.5 1324.2,433.5 1325.4,433.5 1326.7,433.5 1327.9,433.5 1329.1,433.5 1330.4,433.5 1331.6,433.5 1332.9,433.5 1334.1,433.5 1335.4,433.5 1336.6,433.5 1337.9,433.5 1339.1,433.5 1340.4,433.5 1341.6,433.5 1342.9,433.5 1344.1,433.5 1345.4,433.5 1346.6,433.5 1347.8,433.5 1349.1,433.5 1350.3,433.5 1351.6,433.5 1352.8,433.5 1354.1,433.5 1355.3,433.5 1356.6,433.5 1357.8,433.5 1359.1,433.5 1360.3,433.5 1361.6,433.5 1362.8,433.5 1364.1,433.5 1365.3,433.5 1366.5,433.5 1367.8,433.5 1369.0,433.5 1370.3,433.5 1371.5,433.5 1372.8,433.5 1374.0,433.5 1375.3,433.5 1376.5,433.5 1377.8,433.5 1379.0,433.5 1380.3,433.5 1381.5,433.5 1382.8,433.5 1384.0,433.5 1385.2,433.5 1386.5,433.5 1387.7,433.5 1389.0,433.5 1390.2,433.5 1391.5,433.5 1392.7,433.5 1394.0,433.5 1395.2,433.5 1396.5,433.5 1397.7,433.5 1399.0,433.5 1400.2,433.5 1401.5,433.5 1402.7,433.5 1403.9,433.5 1405.2,433.5 1406.4,433.5 1407.7,433.5 1408.9,433.5 1410.2,433.5 1411.4,433.5 1412.7,433.5 1413.9,433.5 1415.2,433.5 1416.4,433.5 1417.7,433.5 1418.9,433.5 1420.2,433.5 1421.4,433.5 1422.6,433.5 1423.9,433.5 1425.1,433.5 1426.4,433.5 1427.6,433.5 1428.9,433.5 1430.1,433.5 1431.4,433.5 1432.6,433.5 1433.9,433.5 1435.1,433.5 1436.4,433.5 1437.6,433.5 1438.9,433.5 1440.1,433.5 1441.3,433.5 1442.6,433.5 1443.8,433.5 1445.1,433.5 1446.3,433.5 1447.6,433.5 1448.8,433.5 1450.1,433.5 1451.3,433.5 1452.6,433.5 1453.8,433.5 1455.1,433.5 1456.3,433.5 1457.6,433.5 1458.8,433.5 1460.0,433.5 1461.3,433.5 1462.5,433.5 1463.8,433.5 1465.0,433.5 1466.3,433.5 1467.5,433.5 1468.8,433.5 1470.0,433.5 1471.3,433.5 1472.5,433.5 1473.8,433.5 1475.0,433.5 1476.3,433.5 1477.5,433.5" fill="none" stroke="#7EB26D" stroke-width="1.25" stroke-linejoin="round"/><polyline points="818.0,402.6 819.2,402.6 820.5,402.6 821.7,402.5 823.0,402.5 824.2,402.5 825.5,402.5 826.7,402.4 828.0,402.5 829.2,402.5 830.5,402.5 831.7,402.5 833.0,402.4 834.2,402.5 835.5,402.5 836.7,402.6 837.9,402.5 839.2,402.5 840.4,402.5 841.7,402.5 842.9,402.5 844.2,402.5 845.4,402.6 846.7,402.6 847.9,402.6 849.2,402.5 850.4,402.5 851.7,402.4 852.9,402.5 854.2,402.6 855.4,402.6 856.6,402.6 857.9,402.5 859.1,402.5 860.4,402.5 861.6,402.5 862.9,402.5 864.1,402.5 865.4,402.6 866.6,402.6 867.9,402.7 869.1,402.6 870.4,402.6 871.6,402.6 872.9,402.6 874.1,402.6 875.3,402.5 876.6,402.5 877.8,402.5 879.1,402.6 880.3,402.6 881.6,402.6 882.8,402.5 884.1,402.5 885.3,402.5 886.6,402.5 887.8,402.4 889.1,402.5 890.3,402.5 891.6,402.5 892.8,402.4 894.0,402.4 895.3,402.4 896.5,402.5 897.8,402.5 899.0,402.6 900.3,402.6 901.5,402.6 902.8,402.5 904.0,402.5 905.3,402.5 906.5,402.5 907.8,402.5 909.0,402.5 910.3,402.5 911.5,402.5 912.7,402.5 914.0,402.5 915.2,402.5 916.5,402.6 917.7,402.5 919.0,402.5 920.2,402.5 921.5,402.5 922.7,402.5 924.0,402.5 925.2,402.5 926.5,402.6 927.7,402.6 929.0,402.5 930.2,401.6 931.4,400.7 932.7,399.9 933.9,399.0 935.2,397.6 936.4,395.6 937.7,393.6 938.9,391.7 940.2,389.8 941.4,387.9 942.7,386.0 943.9,385.3 945.2,384.6 946.4,383.9 947.7,383.2 948.9,382.4 950.1,381.6 951.4,381.1 952.6,381.1 953.9,381.0 955.1,380.8 956.4,380.7 957.6,380.6 958.9,380.5 960.1,380.4 961.4,380.3 962.6,380.2 963.9,380.1 965.1,379.9 966.4,379.7 967.6,379.6 968.8,379.5 970.1,379.5 971.3,379.4 972.6,379.3 973.8,379.2 975.1,379.2 976.3,379.1 977.6,379.1 978.8,379.0 980.1,378.9 981.3,378.8 982.6,378.7 983.8,378.6 985.1,378.5 986.3,378.5 987.6,378.5 988.8,378.5 990.0,378.4 991.3,378.3 992.5,378.3 993.8,378.2 995.0,378.1 996.3,377.8 997.5,377.7 998.8,377.5 1000.0,377.4 1001.3,377.2 1002.5,377.0 1003.8,376.8 1005.0,376.7 1006.3,376.6 1007.5,376.5 1008.7,376.4 1010.0,376.1 1011.2,375.9 1012.5,375.6 1013.7,375.5 1015.0,375.4 1016.2,375.3 1017.5,375.2 1018.7,375.2 1020.0,375.2 1021.2,375.4 1022.5,375.4 1023.7,375.5 1025.0,375.5 1026.2,375.5 1027.4,375.5 1028.7,375.5 1029.9,375.6 1031.2,375.5 1032.4,375.6 1033.7,375.6 1034.9,375.7 1036.2,375.7 1037.4,375.7 1038.7,375.8 1039.9,375.9 1041.2,375.9 1042.4,375.9 1043.7,375.9 1044.9,376.0 1046.1,376.0 1047.4,376.1 1048.6,376.1 1049.9,376.2 1051.1,376.3 1052.4,376.3 1053.6,376.3 1054.9,376.4 1056.1,376.5 1057.4,376.5 1058.6,376.6 1059.9,376.6 1061.1,376.7 1062.4,376.7 1063.6,376.8 1064.8,376.8 1066.1,376.8 1067.3,376.8 1068.6,376.9 1069.8,377.0 1071.1,377.0 1072.3,377.1 1073.6,377.1 1074.8,377.1 1076.1,377.1 1077.3,377.2 1078.6,377.3 1079.8,377.4 1081.1,377.4 1082.3,377.5 1083.5,377.5 1084.8,377.5 1086.0,377.5 1087.3,377.6 1088.5,377.6 1089.8,377.7 1091.0,377.8 1092.3,377.8 1093.5,377.8 1094.8,377.9 1096.0,377.9 1097.3,378.0 1098.5,377.9 1099.8,378.0 1101.0,378.1 1102.2,378.1 1103.5,378.1 1104.7,378.0 1106.0,378.0 1107.2,378.0 1108.5,378.0 1109.7,378.1 1111.0,378.1 1112.2,378.2 1113.5,378.2 1114.7,378.3 1116.0,378.3 1117.2,378.3 1118.5,378.2 1119.7,378.3 1120.9,378.4 1122.2,378.5 1123.4,378.4 1124.7,378.4 1125.9,378.4 1127.2,378.4 1128.4,378.4 1129.7,378.4 1130.9,378.5 1132.2,378.5 1133.4,378.6 1134.7,378.6 1135.9,378.7 1137.2,378.7 1138.4,378.7 1139.6,378.7 1140.9,378.6 1142.1,378.7 1143.4,378.7 1144.6,378.8 1145.9,378.8 1147.1,378.8 1148.4,378.8 1149.6,378.9 1150.9,378.8 1152.1,378.9 1153.4,378.9 1154.6,379.0 1155.9,379.0 1157.1,379.0 1158.3,379.0 1159.6,379.1 1160.8,379.1 1162.1,379.1 1163.3,379.2 1164.6,379.2 1165.8,379.2 1167.1,379.2 1168.3,379.3 1169.6,379.3 1170.8,379.3 1172.1,379.4 1173.3,379.4 1174.6,379.4 1175.8,379.4 1177.0,379.4 1178.3,379.4 1179.5,379.5 1180.8,379.5 1182.0,379.5 1183.3,379.5 1184.5,379.6 1185.8,379.6 1187.0,379.7 1188.3,379.7 1189.5,379.8 1190.8,379.8 1192.0,379.7 1193.3,379.7 1194.5,379.7 1195.7,379.8 1197.0,379.8 1198.2,379.9 1199.5,380.0 1200.7,380.0 1202.0,380.0 1203.2,380.0 1204.5,380.1 1205.7,380.1 1207.0,380.2 1208.2,380.3 1209.5,380.3 1210.7,380.3 1212.0,380.2 1213.2,380.2 1214.4,380.3 1215.7,380.3 1216.9,380.4 1218.2,380.3 1219.4,380.4 1220.7,380.5 1221.9,380.6 1223.2,380.6 1224.4,380.6 1225.7,380.7 1226.9,380.7 1228.2,380.7 1229.4,380.7 1230.7,380.7 1231.9,380.7 1233.1,380.7 1234.4,380.8 1235.6,380.9 1236.9,380.9 1238.1,381.0 1239.4,381.0 1240.6,381.0 1241.9,381.0 1243.1,381.0 1244.4,381.0 1245.6,381.0 1246.9,381.0 1248.1,381.1 1249.4,381.1 1250.6,381.1 1251.8,381.2 1253.1,381.2 1254.3,381.2 1255.6,381.3 1256.8,381.3 1258.1,381.3 1259.3,381.4 1260.6,381.5 1261.8,381.5 1263.1,381.5 1264.3,381.5 1265.6,381.6 1266.8,381.6 1268.1,381.6 1269.3,381.7 1270.5,381.7 1271.8,381.8 1273.0,381.8 1274.3,381.8 1275.5,381.9 1276.8,381.8 1278.0,381.8 1279.3,381.8 1280.5,381.9 1281.8,381.9 1283.0,382.0 1284.3,384.0 1285.5,386.2 1286.8,388.3 1288.0,389.9 1289.2,391.1 1290.5,392.3 1291.7,393.5 1293.0,394.6 1294.2,395.6 1295.5,396.0 1296.7,396.3 1298.0,396.7 1299.2,397.1 1300.5,397.5 1301.7,397.9 1303.0,398.3 1304.2,398.6 1305.5,398.9 1306.7,399.3 1307.9,399.7 1309.2,399.8 1310.4,399.8 1311.7,399.9 1312.9,400.0 1314.2,400.1 1315.4,400.2 1316.7,400.2 1317.9,400.3 1319.2,400.4 1320.4,400.5 1321.7,400.6 1322.9,400.7 1324.2,400.9 1325.4,400.8 1326.7,400.8 1327.9,400.7 1329.1,400.9 1330.4,400.8 1331.6,400.8 1332.9,400.8 1334.1,400.9 1335.4,400.9 1336.6,400.8 1337.9,400.7 1339.1,400.8 1340.4,400.8 1341.6,400.9 1342.9,400.8 1344.1,400.7 1345.4,400.8 1346.6,400.8 1347.8,400.8 1349.1,400.8 1350.3,400.9 1351.6,400.9 1352.8,400.9 1354.1,400.8 1355.3,400.8 1356.6,400.8 1357.8,400.9 1359.1,401.0 1360.3,400.9 1361.6,400.9 1362.8,400.9 1364.1,400.8 1365.3,400.8 1366.5,400.8 1367.8,400.8 1369.0,400.8 1370.3,400.8 1371.5,400.8 1372.8,400.8 1374.0,400.8 1375.3,400.9 1376.5,400.9 1377.8,401.0 1379.0,400.9 1380.3,401.0 1381.5,400.9 1382.8,400.9 1384.0,400.9 1385.2,400.8 1386.5,400.8 1387.7,400.9 1389.0,401.0 1390.2,401.1 1391.5,401.0 1392.7,401.0 1394.0,400.9 1395.2,400.9 1396.5,400.9 1397.7,400.9 1399.0,400.9 1400.2,400.9 1401.5,400.8 1402.7,400.7 1403.9,400.7 1405.2,400.9 1406.4,400.8 1407.7,400.8 1408.9,400.7 1410.2,400.6 1411.4,400.6 1412.7,400.6 1413.9,400.7 1415.2,400.6 1416.4,400.5 1417.7,400.6 1418.9,400.5 1420.2,400.5 1421.4,400.4 1422.6,400.5 1423.9,400.6 1425.1,400.5 1426.4,400.4 1427.6,400.4 1428.9,400.4 1430.1,400.4 1431.4,400.4 1432.6,400.4 1433.9,400.4 1435.1,400.4 1436.4,400.3 1437.6,400.2 1438.9,400.2 1440.1,400.3 1441.3,400.2 1442.6,400.3 1443.8,400.2 1445.1,400.3 1446.3,400.2 1447.6,400.2 1448.8,400.1 1450.1,400.1 1451.3,400.1 1452.6,400.1 1453.8,400.0 1455.1,400.0 1456.3,400.0 1457.6,400.0 1458.8,400.0 1460.0,400.0 1461.3,400.0 1462.5,399.9 1463.8,399.9 1465.0,399.8 1466.3,399.8 1467.5,399.8 1468.8,399.8 1470.0,399.7 1471.3,399.8 1472.5,399.7 1473.8,399.8 1475.0,399.7 1476.3,399.7 1477.5,399.6" fill="none" stroke="#C4200a" stroke-width="1.25" stroke-linejoin="round"/><line x1="818.0" x2="1477.5" y1="433.5" y2="433.5" stroke="#b9c6a0" stroke-width="1.2"/></svg>
<div class="t" style="left:766.49px;top:349.60px;font-size:15px;line-height:15px;letter-spacing:-0.210px;color:#b9bac6;font-weight:400;-webkit-text-stroke:0.2px currentColor;">12 GiB</div>
<div class="t" style="left:772.84px;top:413.54px;font-size:15px;line-height:15px;letter-spacing:0.237px;color:#b9bac6;font-weight:400;-webkit-text-stroke:0.2px currentColor;">8 GiB</div>
<div class="t" style="left:772.84px;top:477.47px;font-size:15px;line-height:15px;letter-spacing:0.237px;color:#b9bac6;font-weight:400;-webkit-text-stroke:0.2px currentColor;">4 GiB</div>
<div class="t" style="left:788.13px;top:541.40px;font-size:15px;line-height:15px;letter-spacing:0.328px;color:#b9bac6;font-weight:400;-webkit-text-stroke:0.2px currentColor;">0 B</div>
<div class="t" style="left:823.75px;top:559.10px;font-size:15px;line-height:15px;letter-spacing:0.391px;color:#b9bac6;font-weight:400;-webkit-text-stroke:0.2px currentColor;">21:00</div>
<div class="t" style="left:904.55px;top:559.10px;font-size:15px;line-height:15px;letter-spacing:1.191px;color:#b9bac6;font-weight:400;-webkit-text-stroke:0.2px currentColor;">00:00</div>
<div class="t" style="left:986.95px;top:559.10px;font-size:15px;line-height:15px;letter-spacing:1.191px;color:#b9bac6;font-weight:400;-webkit-text-stroke:0.2px currentColor;">03:00</div>
<div class="t" style="left:1069.35px;top:559.10px;font-size:15px;line-height:15px;letter-spacing:1.191px;color:#b9bac6;font-weight:400;-webkit-text-stroke:0.2px currentColor;">06:00</div>
<div class="t" style="left:1151.75px;top:559.10px;font-size:15px;line-height:15px;letter-spacing:1.191px;color:#b9bac6;font-weight:400;-webkit-text-stroke:0.2px currentColor;">09:00</div>
<div class="t" style="left:1235.75px;top:559.10px;font-size:15px;line-height:15px;letter-spacing:0.391px;color:#b9bac6;font-weight:400;-webkit-text-stroke:0.2px currentColor;">12:00</div>
<div class="t" style="left:1318.15px;top:559.10px;font-size:15px;line-height:15px;letter-spacing:0.391px;color:#b9bac6;font-weight:400;-webkit-text-stroke:0.2px currentColor;">15:00</div>
<div class="t" style="left:1400.55px;top:559.10px;font-size:15px;line-height:15px;letter-spacing:0.391px;color:#b9bac6;font-weight:400;-webkit-text-stroke:0.2px currentColor;">18:00</div>
<div class="a" style="left:766.3px;top:590.6px;width:17.5px;height:5px;border-radius:2.5px;background:#E0F9D7"></div>
<div class="t" style="left:794.60px;top:585.30px;font-size:15px;line-height:15px;letter-spacing:0.409px;color:#ccccdc;font-weight:400;-webkit-text-stroke:0.2px currentColor;">RAM Total</div>
<div class="a" style="left:880.3px;top:590.6px;width:17.5px;height:5px;border-radius:2.5px;background:#F2CC0C"></div>
<div class="t" style="left:908.30px;top:585.30px;font-size:15px;line-height:15px;letter-spacing:0.273px;color:#ccccdc;font-weight:400;-webkit-text-stroke:0.2px currentColor;">RAM Used</div>
<div class="a" style="left:996.7px;top:590.6px;width:17.5px;height:5px;border-radius:2.5px;background:#0a3768"></div>
<div class="t" style="left:1024.30px;top:585.30px;font-size:15px;line-height:15px;letter-spacing:0.499px;color:#ccccdc;font-weight:400;-webkit-text-stroke:0.2px currentColor;">RAM Cache + Buffer</div>
<div class="a" style="left:1185.0px;top:590.6px;width:17.5px;height:5px;border-radius:2.5px;background:#7EB26D"></div>
<div class="t" style="left:1211.50px;top:585.30px;font-size:15px;line-height:15px;letter-spacing:0.144px;color:#ccccdc;font-weight:400;-webkit-text-stroke:0.2px currentColor;">RAM Free</div>
<div class="a" style="left:1296.0px;top:590.6px;width:17.5px;height:5px;border-radius:2.5px;background:#C4200A"></div>
<div class="t" style="left:1322.50px;top:585.30px;font-size:15px;line-height:15px;letter-spacing:0.330px;color:#ccccdc;font-weight:400;-webkit-text-stroke:0.2px currentColor;">SWAP Used</div>
<svg class="a" style="left:0;top:680px" width="745" height="72" viewBox="0 680 745 72"><line x1="108.5" x2="108.5" y1="687.5" y2="752" stroke="rgba(204,204,220,0.10)" stroke-width="1.2"/><line x1="188.1" x2="188.1" y1="687.5" y2="752" stroke="rgba(204,204,220,0.10)" stroke-width="1.2"/><line x1="267.7" x2="267.7" y1="687.5" y2="752" stroke="rgba(204,204,220,0.10)" stroke-width="1.2"/><line x1="347.3" x2="347.3" y1="687.5" y2="752" stroke="rgba(204,204,220,0.10)" stroke-width="1.2"/><line x1="426.9" x2="426.9" y1="687.5" y2="752" stroke="rgba(204,204,220,0.10)" stroke-width="1.2"/><line x1="506.5" x2="506.5" y1="687.5" y2="752" stroke="rgba(204,204,220,0.10)" stroke-width="1.2"/><line x1="586.1" x2="586.1" y1="687.5" y2="752" stroke="rgba(204,204,220,0.10)" stroke-width="1.2"/><line x1="665.7" x2="665.7" y1="687.5" y2="752" stroke="rgba(204,204,220,0.10)" stroke-width="1.2"/><polygon points="82.8,709.3 82.8,712.9 84.0,715.4 85.3,711.4 86.5,710.6 87.7,710.5 88.9,727.5 90.2,711.4 91.4,710.8 92.6,711.3 93.8,721.5 95.1,712.1 96.3,721.5 97.5,711.6 98.8,713.2 100.0,713.1 101.2,710.9 102.4,719.5 103.7,712.0 104.9,711.0 106.1,724.5 107.3,711.3 108.6,711.2 109.8,712.6 111.0,717.5 112.2,711.4 113.5,711.6 114.7,711.6 115.9,711.4 117.2,712.0 118.4,719.1 119.6,710.5 120.8,711.5 122.1,712.0 123.3,713.0 124.5,713.0 125.7,719.5 127.0,712.4 128.2,711.7 129.4,712.1 130.7,718.5 131.9,712.2 133.1,712.2 134.3,718.6 135.6,718.2 136.8,710.9 138.0,713.3 139.2,711.7 140.5,711.1 141.7,710.9 142.9,711.0 144.1,711.4 145.4,743.5 146.6,712.1 147.8,710.6 149.1,711.9 150.3,711.8 151.5,711.0 152.7,713.4 154.0,713.9 155.2,713.5 156.4,714.1 157.6,749.5 158.9,712.6 160.1,712.5 161.3,711.5 162.6,711.3 163.8,713.8 165.0,717.5 166.2,710.7 167.5,716.9 168.7,712.2 169.9,711.6 171.1,711.3 172.4,711.3 173.6,711.2 174.8,711.0 176.1,711.0 177.3,711.7 178.5,713.5 179.7,713.5 181.0,712.1 182.2,769.5 183.4,727.2 184.6,711.3 185.9,729.5 187.1,714.2 188.3,715.9 189.5,769.5 190.8,711.7 192.0,712.1 193.2,769.5 194.5,713.6 195.7,719.5 196.9,710.6 198.1,711.7 199.4,712.6 200.6,711.9 201.8,711.4 203.0,711.8 204.3,712.3 205.5,712.7 206.7,711.9 208.0,710.8 209.2,711.1 210.4,711.3 211.6,711.2 212.9,712.0 214.1,712.1 215.3,711.7 216.5,710.8 217.8,711.6 219.0,711.6 220.2,710.9 221.4,711.4 222.7,711.6 223.9,710.8 225.1,711.2 226.4,711.2 227.6,713.5 228.8,723.5 230.0,711.4 231.3,711.1 232.5,711.2 233.7,712.6 234.9,710.9 236.2,710.9 237.4,712.9 238.6,712.3 239.9,712.4 241.1,712.4 242.3,711.9 243.5,712.4 244.8,712.2 246.0,713.0 247.2,713.1 248.4,712.3 249.7,712.6 250.9,711.3 252.1,719.0 253.3,711.8 254.6,718.5 255.8,711.1 257.0,711.3 258.3,711.1 259.5,710.7 260.7,711.2 261.9,712.2 263.2,712.7 264.4,712.1 265.6,710.9 266.8,711.6 268.1,712.4 269.3,711.9 270.5,711.4 271.8,710.7 273.0,710.5 274.2,711.4 275.4,715.5 276.7,714.7 277.9,712.5 279.1,712.4 280.3,712.8 281.6,713.2 282.8,712.2 284.0,710.6 285.3,717.7 286.5,712.6 287.7,711.9 288.9,712.4 290.2,714.3 291.4,717.5 292.6,720.8 293.8,711.3 295.1,711.2 296.3,712.4 297.5,769.5 298.7,769.5 300.0,711.3 301.2,711.1 302.4,711.2 303.7,711.3 304.9,711.4 306.1,711.7 307.3,712.8 308.6,713.3 309.8,712.4 311.0,718.8 312.2,711.6 313.5,711.3 314.7,711.0 315.9,712.3 317.2,712.3 318.4,711.1 319.6,711.6 320.8,712.9 322.1,713.3 323.3,720.4 324.5,712.3 325.7,712.0 327.0,713.2 328.2,714.7 329.4,713.9 330.6,711.7 331.9,711.7 333.1,711.6 334.3,711.9 335.6,712.2 336.8,711.5 338.0,711.1 339.2,711.0 340.5,711.2 341.7,711.4 342.9,711.4 344.1,711.7 345.4,712.3 346.6,711.3 347.8,710.7 349.1,711.0 350.3,711.1 351.5,712.1 352.7,711.9 354.0,712.1 355.2,713.3 356.4,718.2 357.6,711.1 358.9,711.7 360.1,711.8 361.3,712.9 362.6,712.9 363.8,711.3 365.0,711.9 366.2,711.8 367.5,710.8 368.7,711.7 369.9,711.7 371.1,717.5 372.4,711.2 373.6,711.1 374.8,711.5 376.0,712.7 377.3,713.3 378.5,712.7 379.7,712.5 381.0,713.4 382.2,713.1 383.4,718.5 384.6,712.8 385.9,711.0 387.1,711.2 388.3,713.2 389.5,713.2 390.8,711.1 392.0,724.6 393.2,711.5 394.5,711.5 395.7,711.9 396.9,711.8 398.1,711.5 399.4,711.4 400.6,711.1 401.8,769.5 403.0,713.2 404.3,712.2 405.5,713.3 406.7,713.8 407.9,712.2 409.2,711.8 410.4,711.8 411.6,735.5 412.9,711.2 414.1,712.7 415.3,735.5 416.5,710.9 417.8,724.4 419.0,711.7 420.2,710.8 421.4,711.5 422.7,712.3 423.9,712.4 425.1,720.4 426.4,731.5 427.6,712.8 428.8,712.1 430.0,769.5 431.3,716.6 432.5,711.8 433.7,712.1 434.9,735.5 436.2,712.7 437.4,712.4 438.6,711.5 439.8,717.1 441.1,712.4 442.3,719.5 443.5,710.9 444.8,710.9 446.0,711.2 447.2,711.1 448.4,711.4 449.7,717.7 450.9,712.5 452.1,714.2 453.3,713.7 454.6,710.9 455.8,769.5 457.0,711.0 458.3,711.1 459.5,711.6 460.7,731.5 461.9,711.4 463.2,730.5 464.4,713.4 465.6,712.4 466.8,711.3 468.1,711.1 469.3,711.3 470.5,710.7 471.8,710.8 473.0,715.1 474.2,711.0 475.4,717.5 476.7,713.8 477.9,712.1 479.1,711.0 480.3,710.9 481.6,712.6 482.8,712.5 484.0,716.0 485.2,711.0 486.5,728.5 487.7,713.7 488.9,712.8 490.2,713.0 491.4,711.3 492.6,717.0 493.8,710.9 495.1,711.5 496.3,716.1 497.5,713.1 498.7,769.5 500.0,710.8 501.2,710.8 502.4,712.4 503.7,712.0 504.9,711.0 506.1,711.0 507.3,711.3 508.6,721.5 509.8,713.0 511.0,712.8 512.2,769.5 513.5,710.9 514.7,710.5 515.9,711.0 517.1,714.4 518.4,711.7 519.6,710.9 520.8,730.5 522.1,720.8 523.3,710.9 524.5,711.1 525.7,711.2 527.0,711.9 528.2,712.0 529.4,711.0 530.6,710.5 531.9,710.4 533.1,718.5 534.3,712.5 535.6,713.2 536.8,711.7 538.0,710.7 539.2,726.5 540.5,712.6 541.7,710.9 542.9,710.7 544.1,710.8 545.4,711.1 546.6,711.0 547.8,744.5 549.1,711.3 550.3,769.5 551.5,711.3 552.7,711.7 554.0,712.3 555.2,711.8 556.4,721.5 557.6,711.2 558.9,710.9 560.1,710.5 561.3,726.5 562.5,711.7 563.8,711.6 565.0,711.1 566.2,711.5 567.5,727.5 568.7,748.5 569.9,731.5 571.1,718.5 572.4,711.7 573.6,719.5 574.8,713.8 576.0,711.9 577.3,711.8 578.5,712.7 579.7,712.3 581.0,710.5 582.2,710.5 583.4,711.4 584.6,711.3 585.9,710.4 587.1,710.8 588.3,711.1 589.5,712.3 590.8,725.5 592.0,713.6 593.2,710.7 594.4,719.5 595.7,710.9 596.9,711.0 598.1,711.1 599.4,710.9 600.6,718.5 601.8,711.2 603.0,711.8 604.3,712.9 605.5,717.5 606.7,719.9 607.9,711.0 609.2,710.6 610.4,714.4 611.6,710.8 612.9,711.1 614.1,711.0 615.3,721.5 616.5,712.3 617.8,711.9 619.0,740.5 620.2,712.6 621.4,713.6 622.7,736.5 623.9,713.4 625.1,711.6 626.3,710.6 627.6,710.7 628.8,711.0 630.0,711.5 631.3,711.2 632.5,713.2 633.7,713.5 634.9,726.5 636.2,711.5 637.4,716.9 638.6,712.7 639.8,712.1 641.1,712.1 642.3,721.5 643.5,711.4 644.8,712.6 646.0,712.0 647.2,711.0 648.4,711.2 649.7,711.2 650.9,712.2 652.1,722.5 653.3,711.6 654.6,711.8 655.8,711.2 657.0,711.2 658.3,710.9 659.5,725.5 660.7,713.5 661.9,713.5 663.2,712.8 664.4,711.3 665.6,722.5 666.8,711.4 668.1,711.2 669.3,713.5 670.5,769.5 671.7,769.5 673.0,712.1 674.2,711.1 675.4,727.5 676.7,711.5 677.9,716.0 679.1,716.2 680.3,721.5 681.6,712.6 682.8,714.0 684.0,712.0 685.2,712.0 686.5,711.0 687.7,711.2 688.9,711.6 690.2,711.8 691.4,711.7 692.6,712.6 693.8,710.8 695.1,711.6 696.3,712.3 697.5,712.8 698.7,712.6 700.0,711.1 701.2,710.5 702.4,721.5 703.6,711.6 704.9,712.3 706.1,712.5 707.3,711.6 708.6,711.3 709.8,710.9 711.0,710.5 712.2,712.0 713.5,741.5 714.7,711.6 715.9,712.5 717.1,713.1 718.4,719.5 719.6,711.8 719.6,709.3" fill="#8AB8FF" fill-opacity="0.7"/><polyline points="82.8,712.9 84.0,715.4 85.3,711.4 86.5,710.6 87.7,710.5 88.9,727.5 90.2,711.4 91.4,710.8 92.6,711.3 93.8,721.5 95.1,712.1 96.3,721.5 97.5,711.6 98.8,713.2 100.0,713.1 101.2,710.9 102.4,719.5 103.7,712.0 104.9,711.0 106.1,724.5 107.3,711.3 108.6,711.2 109.8,712.6 111.0,717.5 112.2,711.4 113.5,711.6 114.7,711.6 115.9,711.4 117.2,712.0 118.4,719.1 119.6,710.5 120.8,711.5 122.1,712.0 123.3,713.0 124.5,713.0 125.7,719.5 127.0,712.4 128.2,711.7 129.4,712.1 130.7,718.5 131.9,712.2 133.1,712.2 134.3,718.6 135.6,718.2 136.8,710.9 138.0,713.3 139.2,711.7 140.5,711.1 141.7,710.9 142.9,711.0 144.1,711.4 145.4,743.5 146.6,712.1 147.8,710.6 149.1,711.9 150.3,711.8 151.5,711.0 152.7,713.4 154.0,713.9 155.2,713.5 156.4,714.1 157.6,749.5 158.9,712.6 160.1,712.5 161.3,711.5 162.6,711.3 163.8,713.8 165.0,717.5 166.2,710.7 167.5,716.9 168.7,712.2 169.9,711.6 171.1,711.3 172.4,711.3 173.6,711.2 174.8,711.0 176.1,711.0 177.3,711.7 178.5,713.5 179.7,713.5 181.0,712.1 182.2,769.5 183.4,727.2 184.6,711.3 185.9,729.5 187.1,714.2 188.3,715.9 189.5,769.5 190.8,711.7 192.0,712.1 193.2,769.5 194.5,713.6 195.7,719.5 196.9,710.6 198.1,711.7 199.4,712.6 200.6,711.9 201.8,711.4 203.0,711.8 204.3,712.3 205.5,712.7 206.7,711.9 208.0,710.8 209.2,711.1 210.4,711.3 211.6,711.2 212.9,712.0 214.1,712.1 215.3,711.7 216.5,710.8 217.8,711.6 219.0,711.6 220.2,710.9 221.4,711.4 222.7,711.6 223.9,710.8 225.1,711.2 226.4,711.2 227.6,713.5 228.8,723.5 230.0,711.4 231.3,711.1 232.5,711.2 233.7,712.6 234.9,710.9 236.2,710.9 237.4,712.9 238.6,712.3 239.9,712.4 241.1,712.4 242.3,711.9 243.5,712.4 244.8,712.2 246.0,713.0 247.2,713.1 248.4,712.3 249.7,712.6 250.9,711.3 252.1,719.0 253.3,711.8 254.6,718.5 255.8,711.1 257.0,711.3 258.3,711.1 259.5,710.7 260.7,711.2 261.9,712.2 263.2,712.7 264.4,712.1 265.6,710.9 266.8,711.6 268.1,712.4 269.3,711.9 270.5,711.4 271.8,710.7 273.0,710.5 274.2,711.4 275.4,715.5 276.7,714.7 277.9,712.5 279.1,712.4 280.3,712.8 281.6,713.2 282.8,712.2 284.0,710.6 285.3,717.7 286.5,712.6 287.7,711.9 288.9,712.4 290.2,714.3 291.4,717.5 292.6,720.8 293.8,711.3 295.1,711.2 296.3,712.4 297.5,769.5 298.7,769.5 300.0,711.3 301.2,711.1 302.4,711.2 303.7,711.3 304.9,711.4 306.1,711.7 307.3,712.8 308.6,713.3 309.8,712.4 311.0,718.8 312.2,711.6 313.5,711.3 314.7,711.0 315.9,712.3 317.2,712.3 318.4,711.1 319.6,711.6 320.8,712.9 322.1,713.3 323.3,720.4 324.5,712.3 325.7,712.0 327.0,713.2 328.2,714.7 329.4,713.9 330.6,711.7 331.9,711.7 333.1,711.6 334.3,711.9 335.6,712.2 336.8,711.5 338.0,711.1 339.2,711.0 340.5,711.2 341.7,711.4 342.9,711.4 344.1,711.7 345.4,712.3 346.6,711.3 347.8,710.7 349.1,711.0 350.3,711.1 351.5,712.1 352.7,711.9 354.0,712.1 355.2,713.3 356.4,718.2 357.6,711.1 358.9,711.7 360.1,711.8 361.3,712.9 362.6,712.9 363.8,711.3 365.0,711.9 366.2,711.8 367.5,710.8 368.7,711.7 369.9,711.7 371.1,717.5 372.4,711.2 373.6,711.1 374.8,711.5 376.0,712.7 377.3,713.3 378.5,712.7 379.7,712.5 381.0,713.4 382.2,713.1 383.4,718.5 384.6,712.8 385.9,711.0 387.1,711.2 388.3,713.2 389.5,713.2 390.8,711.1 392.0,724.6 393.2,711.5 394.5,711.5 395.7,711.9 396.9,711.8 398.1,711.5 399.4,711.4 400.6,711.1 401.8,769.5 403.0,713.2 404.3,712.2 405.5,713.3 406.7,713.8 407.9,712.2 409.2,711.8 410.4,711.8 411.6,735.5 412.9,711.2 414.1,712.7 415.3,735.5 416.5,710.9 417.8,724.4 419.0,711.7 420.2,710.8 421.4,711.5 422.7,712.3 423.9,712.4 425.1,720.4 426.4,731.5 427.6,712.8 428.8,712.1 430.0,769.5 431.3,716.6 432.5,711.8 433.7,712.1 434.9,735.5 436.2,712.7 437.4,712.4 438.6,711.5 439.8,717.1 441.1,712.4 442.3,719.5 443.5,710.9 444.8,710.9 446.0,711.2 447.2,711.1 448.4,711.4 449.7,717.7 450.9,712.5 452.1,714.2 453.3,713.7 454.6,710.9 455.8,769.5 457.0,711.0 458.3,711.1 459.5,711.6 460.7,731.5 461.9,711.4 463.2,730.5 464.4,713.4 465.6,712.4 466.8,711.3 468.1,711.1 469.3,711.3 470.5,710.7 471.8,710.8 473.0,715.1 474.2,711.0 475.4,717.5 476.7,713.8 477.9,712.1 479.1,711.0 480.3,710.9 481.6,712.6 482.8,712.5 484.0,716.0 485.2,711.0 486.5,728.5 487.7,713.7 488.9,712.8 490.2,713.0 491.4,711.3 492.6,717.0 493.8,710.9 495.1,711.5 496.3,716.1 497.5,713.1 498.7,769.5 500.0,710.8 501.2,710.8 502.4,712.4 503.7,712.0 504.9,711.0 506.1,711.0 507.3,711.3 508.6,721.5 509.8,713.0 511.0,712.8 512.2,769.5 513.5,710.9 514.7,710.5 515.9,711.0 517.1,714.4 518.4,711.7 519.6,710.9 520.8,730.5 522.1,720.8 523.3,710.9 524.5,711.1 525.7,711.2 527.0,711.9 528.2,712.0 529.4,711.0 530.6,710.5 531.9,710.4 533.1,718.5 534.3,712.5 535.6,713.2 536.8,711.7 538.0,710.7 539.2,726.5 540.5,712.6 541.7,710.9 542.9,710.7 544.1,710.8 545.4,711.1 546.6,711.0 547.8,744.5 549.1,711.3 550.3,769.5 551.5,711.3 552.7,711.7 554.0,712.3 555.2,711.8 556.4,721.5 557.6,711.2 558.9,710.9 560.1,710.5 561.3,726.5 562.5,711.7 563.8,711.6 565.0,711.1 566.2,711.5 567.5,727.5 568.7,748.5 569.9,731.5 571.1,718.5 572.4,711.7 573.6,719.5 574.8,713.8 576.0,711.9 577.3,711.8 578.5,712.7 579.7,712.3 581.0,710.5 582.2,710.5 583.4,711.4 584.6,711.3 585.9,710.4 587.1,710.8 588.3,711.1 589.5,712.3 590.8,725.5 592.0,713.6 593.2,710.7 594.4,719.5 595.7,710.9 596.9,711.0 598.1,711.1 599.4,710.9 600.6,718.5 601.8,711.2 603.0,711.8 604.3,712.9 605.5,717.5 606.7,719.9 607.9,711.0 609.2,710.6 610.4,714.4 611.6,710.8 612.9,711.1 614.1,711.0 615.3,721.5 616.5,712.3 617.8,711.9 619.0,740.5 620.2,712.6 621.4,713.6 622.7,736.5 623.9,713.4 625.1,711.6 626.3,710.6 627.6,710.7 628.8,711.0 630.0,711.5 631.3,711.2 632.5,713.2 633.7,713.5 634.9,726.5 636.2,711.5 637.4,716.9 638.6,712.7 639.8,712.1 641.1,712.1 642.3,721.5 643.5,711.4 644.8,712.6 646.0,712.0 647.2,711.0 648.4,711.2 649.7,711.2 650.9,712.2 652.1,722.5 653.3,711.6 654.6,711.8 655.8,711.2 657.0,711.2 658.3,710.9 659.5,725.5 660.7,713.5 661.9,713.5 663.2,712.8 664.4,711.3 665.6,722.5 666.8,711.4 668.1,711.2 669.3,713.5 670.5,769.5 671.7,769.5 673.0,712.1 674.2,711.1 675.4,727.5 676.7,711.5 677.9,716.0 679.1,716.2 680.3,721.5 681.6,712.6 682.8,714.0 684.0,712.0 685.2,712.0 686.5,711.0 687.7,711.2 688.9,711.6 690.2,711.8 691.4,711.7 692.6,712.6 693.8,710.8 695.1,711.6 696.3,712.3 697.5,712.8 698.7,712.6 700.0,711.1 701.2,710.5 702.4,721.5 703.6,711.6 704.9,712.3 706.1,712.5 707.3,711.6 708.6,711.3 709.8,710.9 711.0,710.5 712.2,712.0 713.5,741.5 714.7,711.6 715.9,712.5 717.1,713.1 718.4,719.5 719.6,711.8" fill="none" stroke="#8AB8FF" stroke-width="1.25" stroke-linejoin="round"/><rect x="82.8" y="708.1" width="636.8" height="1.9" fill="#a8927a" fill-opacity="0.9"/><polyline points="82.8,707.7 84.0,707.7 85.3,707.7 86.5,707.7 87.7,707.7 88.9,707.7 90.2,707.7 91.4,707.7 92.6,707.7 93.8,707.7 95.1,707.7 96.3,707.7 97.5,707.7 98.8,707.7 100.0,707.7 101.2,707.7 102.4,707.7 103.7,707.7 104.9,707.7 106.1,707.7 107.3,707.7 108.6,707.7 109.8,707.7 111.0,707.7 112.2,707.7 113.5,707.7 114.7,707.7 115.9,707.7 117.2,707.7 118.4,707.7 119.6,707.7 120.8,707.7 122.1,707.7 123.3,707.7 124.5,707.7 125.7,707.7 127.0,707.7 128.2,707.7 129.4,707.7 130.7,707.7 131.9,707.7 133.1,706.9 134.3,706.6 135.6,707.7 136.8,707.7 138.0,707.7 139.2,707.1 140.5,707.7 141.7,707.7 142.9,707.7 144.1,707.7 145.4,707.7 146.6,707.7 147.8,707.7 149.1,707.7 150.3,707.7 151.5,707.7 152.7,707.7 154.0,707.7 155.2,707.7 156.4,707.7 157.6,707.7 158.9,707.7 160.1,707.7 161.3,707.7 162.6,707.7 163.8,707.7 165.0,706.0 166.2,707.7 167.5,707.7 168.7,707.7 169.9,707.7 171.1,707.7 172.4,707.7 173.6,707.7 174.8,706.2 176.1,707.7 177.3,707.7 178.5,707.7 179.7,707.7 181.0,707.7 182.2,707.7 183.4,707.7 184.6,707.7 185.9,707.7 187.1,707.7 188.3,707.7 189.5,707.7 190.8,707.7 192.0,707.7 193.2,707.7 194.5,707.7 195.7,707.7 196.9,707.7 198.1,707.7 199.4,707.7 200.6,707.7 201.8,707.7 203.0,707.7 204.3,706.5 205.5,707.7 206.7,707.7 208.0,707.7 209.2,707.7 210.4,707.7 211.6,707.7 212.9,707.7 214.1,707.7 215.3,707.7 216.5,707.7 217.8,707.7 219.0,707.7 220.2,707.7 221.4,707.7 222.7,707.7 223.9,707.7 225.1,707.7 226.4,707.7 227.6,707.7 228.8,707.7 230.0,707.7 231.3,707.7 232.5,707.7 233.7,707.7 234.9,707.7 236.2,707.7 237.4,707.7 238.6,707.7 239.9,707.7 241.1,707.7 242.3,707.7 243.5,707.7 244.8,707.7 246.0,707.7 247.2,707.7 248.4,707.7 249.7,707.7 250.9,707.7 252.1,707.7 253.3,707.7 254.6,707.7 255.8,707.7 257.0,707.7 258.3,707.7 259.5,707.7 260.7,707.7 261.9,707.7 263.2,707.7 264.4,707.7 265.6,707.7 266.8,707.7 268.1,707.7 269.3,707.7 270.5,707.7 271.8,707.7 273.0,707.1 274.2,707.7 275.4,707.7 276.7,707.7 277.9,707.7 279.1,707.7 280.3,707.7 281.6,707.7 282.8,707.7 284.0,707.7 285.3,707.7 286.5,707.7 287.7,707.7 288.9,707.7 290.2,707.7 291.4,707.7 292.6,707.7 293.8,707.7 295.1,707.7 296.3,707.7 297.5,704.5 298.7,707.7 300.0,707.7 301.2,707.7 302.4,707.7 303.7,707.7 304.9,707.7 306.1,707.7 307.3,707.7 308.6,707.7 309.8,707.7 311.0,707.7 312.2,707.7 313.5,707.7 314.7,707.7 315.9,707.7 317.2,707.7 318.4,707.7 319.6,707.7 320.8,707.7 322.1,707.7 323.3,707.7 324.5,707.7 325.7,707.7 327.0,707.7 328.2,707.7 329.4,707.7 330.6,707.7 331.9,707.2 333.1,707.7 334.3,707.7 335.6,707.7 336.8,707.7 338.0,707.7 339.2,707.7 340.5,707.7 341.7,707.7 342.9,707.7 344.1,707.7 345.4,707.7 346.6,707.7 347.8,705.0 349.1,707.7 350.3,707.7 351.5,705.6 352.7,707.7 354.0,707.7 355.2,707.7 356.4,707.7 357.6,707.7 358.9,707.7 360.1,707.7 361.3,706.3 362.6,707.7 363.8,707.7 365.0,707.7 366.2,707.7 367.5,707.7 368.7,707.7 369.9,707.7 371.1,707.7 372.4,707.7 373.6,707.7 374.8,707.7 376.0,707.7 377.3,707.7 378.5,707.7 379.7,707.7 381.0,707.7 382.2,707.7 383.4,707.7 384.6,707.7 385.9,707.7 387.1,707.7 388.3,707.7 389.5,707.7 390.8,707.7 392.0,707.7 393.2,707.7 394.5,707.7 395.7,707.7 396.9,707.7 398.1,707.7 399.4,707.7 400.6,707.7 401.8,707.7 403.0,707.7 404.3,707.7 405.5,707.7 406.7,707.7 407.9,707.7 409.2,707.7 410.4,707.7 411.6,707.7 412.9,707.7 414.1,707.7 415.3,707.7 416.5,707.7 417.8,707.7 419.0,707.7 420.2,707.7 421.4,707.7 422.7,707.7 423.9,707.7 425.1,707.7 426.4,707.7 427.6,707.7 428.8,707.7 430.0,707.7 431.3,705.1 432.5,707.7 433.7,707.7 434.9,706.2 436.2,707.7 437.4,707.7 438.6,707.7 439.8,707.7 441.1,707.7 442.3,705.2 443.5,707.7 444.8,707.7 446.0,707.7 447.2,707.7 448.4,707.7 449.7,707.7 450.9,707.7 452.1,707.7 453.3,707.7 454.6,707.4 455.8,707.7 457.0,707.7 458.3,707.7 459.5,707.7 460.7,707.7 461.9,707.7 463.2,707.7 464.4,707.7 465.6,707.7 466.8,707.7 468.1,707.7 469.3,707.7 470.5,706.7 471.8,707.7 473.0,707.7 474.2,707.7 475.4,707.7 476.7,707.7 477.9,707.7 479.1,707.7 480.3,707.7 481.6,707.7 482.8,707.7 484.0,707.7 485.2,706.5 486.5,707.7 487.7,707.7 488.9,707.7 490.2,707.7 491.4,707.7 492.6,707.7 493.8,707.7 495.1,707.7 496.3,707.7 497.5,707.7 498.7,707.7 500.0,704.5 501.2,707.5 502.4,707.7 503.7,707.7 504.9,707.7 506.1,707.7 507.3,707.7 508.6,707.7 509.8,707.7 511.0,707.7 512.2,707.7 513.5,707.7 514.7,704.1 515.9,707.3 517.1,707.7 518.4,707.7 519.6,707.7 520.8,707.7 522.1,707.7 523.3,707.7 524.5,707.7 525.7,707.7 527.0,707.7 528.2,707.7 529.4,707.7 530.6,707.7 531.9,707.7 533.1,707.7 534.3,707.7 535.6,707.7 536.8,707.7 538.0,707.7 539.2,707.7 540.5,707.7 541.7,707.7 542.9,707.7 544.1,707.7 545.4,707.7 546.6,707.7 547.8,707.7 549.1,707.7 550.3,707.7 551.5,707.7 552.7,707.7 554.0,707.7 555.2,707.7 556.4,707.7 557.6,707.7 558.9,707.7 560.1,707.7 561.3,707.7 562.5,707.7 563.8,707.7 565.0,707.7 566.2,707.7 567.5,707.7 568.7,707.7 569.9,707.7 571.1,707.7 572.4,704.0 573.6,707.7 574.8,707.7 576.0,707.7 577.3,707.7 578.5,707.7 579.7,707.7 581.0,707.7 582.2,707.7 583.4,707.7 584.6,707.7 585.9,707.7 587.1,707.7 588.3,707.7 589.5,707.7 590.8,707.7 592.0,707.7 593.2,707.7 594.4,707.7 595.7,707.7 596.9,707.7 598.1,707.7 599.4,707.7 600.6,707.7 601.8,707.7 603.0,707.7 604.3,707.7 605.5,707.7 606.7,707.7 607.9,706.2 609.2,707.7 610.4,707.7 611.6,704.5 612.9,707.7 614.1,707.7 615.3,707.7 616.5,707.7 617.8,707.7 619.0,707.7 620.2,707.7 621.4,707.7 622.7,707.7 623.9,707.7 625.1,707.7 626.3,707.7 627.6,707.7 628.8,707.7 630.0,707.7 631.3,707.7 632.5,707.7 633.7,707.7 634.9,707.7 636.2,707.7 637.4,707.7 638.6,707.7 639.8,707.7 641.1,707.7 642.3,707.7 643.5,703.5 644.8,707.7 646.0,707.7 647.2,707.7 648.4,707.7 649.7,707.7 650.9,707.7 652.1,707.7 653.3,707.7 654.6,707.7 655.8,707.7 657.0,707.7 658.3,707.7 659.5,707.7 660.7,707.7 661.9,707.7 663.2,707.7 664.4,706.8 665.6,707.7 666.8,707.7 668.1,707.7 669.3,707.7 670.5,707.7 671.7,707.7 673.0,707.7 674.2,707.7 675.4,707.7 676.7,707.7 677.9,706.7 679.1,707.7 680.3,707.7 681.6,707.7 682.8,707.7 684.0,707.7 685.2,707.7 686.5,707.7 687.7,707.7 688.9,707.7 690.2,707.7 691.4,707.7 692.6,707.7 693.8,707.7 695.1,707.7 696.3,707.7 697.5,707.7 698.7,707.7 700.0,707.7 701.2,707.7 702.4,707.7 703.6,707.7 704.9,707.7 706.1,707.7 707.3,707.7 708.6,707.7 709.8,707.7 711.0,707.7 712.2,707.7 713.5,707.7 714.7,706.3 715.9,707.7 717.1,707.7 718.4,707.7 719.6,707.7" fill="none" stroke="#ee9438" stroke-width="1.25" stroke-linejoin="round"/></svg>
<div class="t" style="left:40.68px;top:699.90px;font-size:15px;line-height:15px;letter-spacing:0.775px;color:#b9bac6;font-weight:400;-webkit-text-stroke:0.2px currentColor;">0 b/s</div>
<svg class="a" style="left:760px;top:680px" width="757" height="72" viewBox="760 680 757 72"><line x1="815.7" x2="1477.6" y1="687.8" y2="687.8" stroke="rgba(204,204,220,0.10)" stroke-width="1.2"/><line x1="839.0" x2="839.0" y1="687.8" y2="752" stroke="rgba(204,204,220,0.10)" stroke-width="1.2"/><line x1="922.1" x2="922.1" y1="687.8" y2="752" stroke="rgba(204,204,220,0.10)" stroke-width="1.2"/><line x1="1005.2" x2="1005.2" y1="687.8" y2="752" stroke="rgba(204,204,220,0.10)" stroke-width="1.2"/><line x1="1088.3" x2="1088.3" y1="687.8" y2="752" stroke="rgba(204,204,220,0.10)" stroke-width="1.2"/><line x1="1171.4" x2="1171.4" y1="687.8" y2="752" stroke="rgba(204,204,220,0.10)" stroke-width="1.2"/><line x1="1254.5" x2="1254.5" y1="687.8" y2="752" stroke="rgba(204,204,220,0.10)" stroke-width="1.2"/><line x1="1337.6" x2="1337.6" y1="687.8" y2="752" stroke="rgba(204,204,220,0.10)" stroke-width="1.2"/><line x1="1420.7" x2="1420.7" y1="687.8" y2="752" stroke="rgba(204,204,220,0.10)" stroke-width="1.2"/><polygon points="812.7,705.7 927.0,705.7 930.0,706.6 936.0,706.7 940.0,705.9 944.0,706.5 952.0,706.4 958.0,705.6 966.0,705.0 975.0,704.2 984.0,703.4 985.5,705.6 990.0,704.6 997.0,703.8 1004.0,703.0 1006.5,703.0 1007.5,705.7 1477.6,705.7 1477.6,752 812.7,752" fill="#B09B7A"/><polyline points="812.7,705.7 927.0,705.7 930.0,706.6 936.0,706.7 940.0,705.9 944.0,706.5 952.0,706.4 958.0,705.6 966.0,705.0 975.0,704.2 984.0,703.4 985.5,705.6 990.0,704.6 997.0,703.8 1004.0,703.0 1006.5,703.0 1007.5,705.7 1477.6,705.7" fill="none" stroke="#E3BD78" stroke-width="1.3"/></svg>
<div class="t" style="left:766.50px;top:680.10px;font-size:15px;line-height:15px;letter-spacing:-0.092px;color:#b9bac6;font-weight:400;-webkit-text-stroke:0.2px currentColor;">100%</div>
<div class="t" style="left:773.80px;top:743.60px;font-size:15px;line-height:15px;letter-spacing:0.159px;color:#b9bac6;font-weight:400;-webkit-text-stroke:0.2px currentColor;">50%</div>
<div class="a" style="left:0;top:750px;width:1517px;height:2px;background:#34363c"></div>
</body></html>
